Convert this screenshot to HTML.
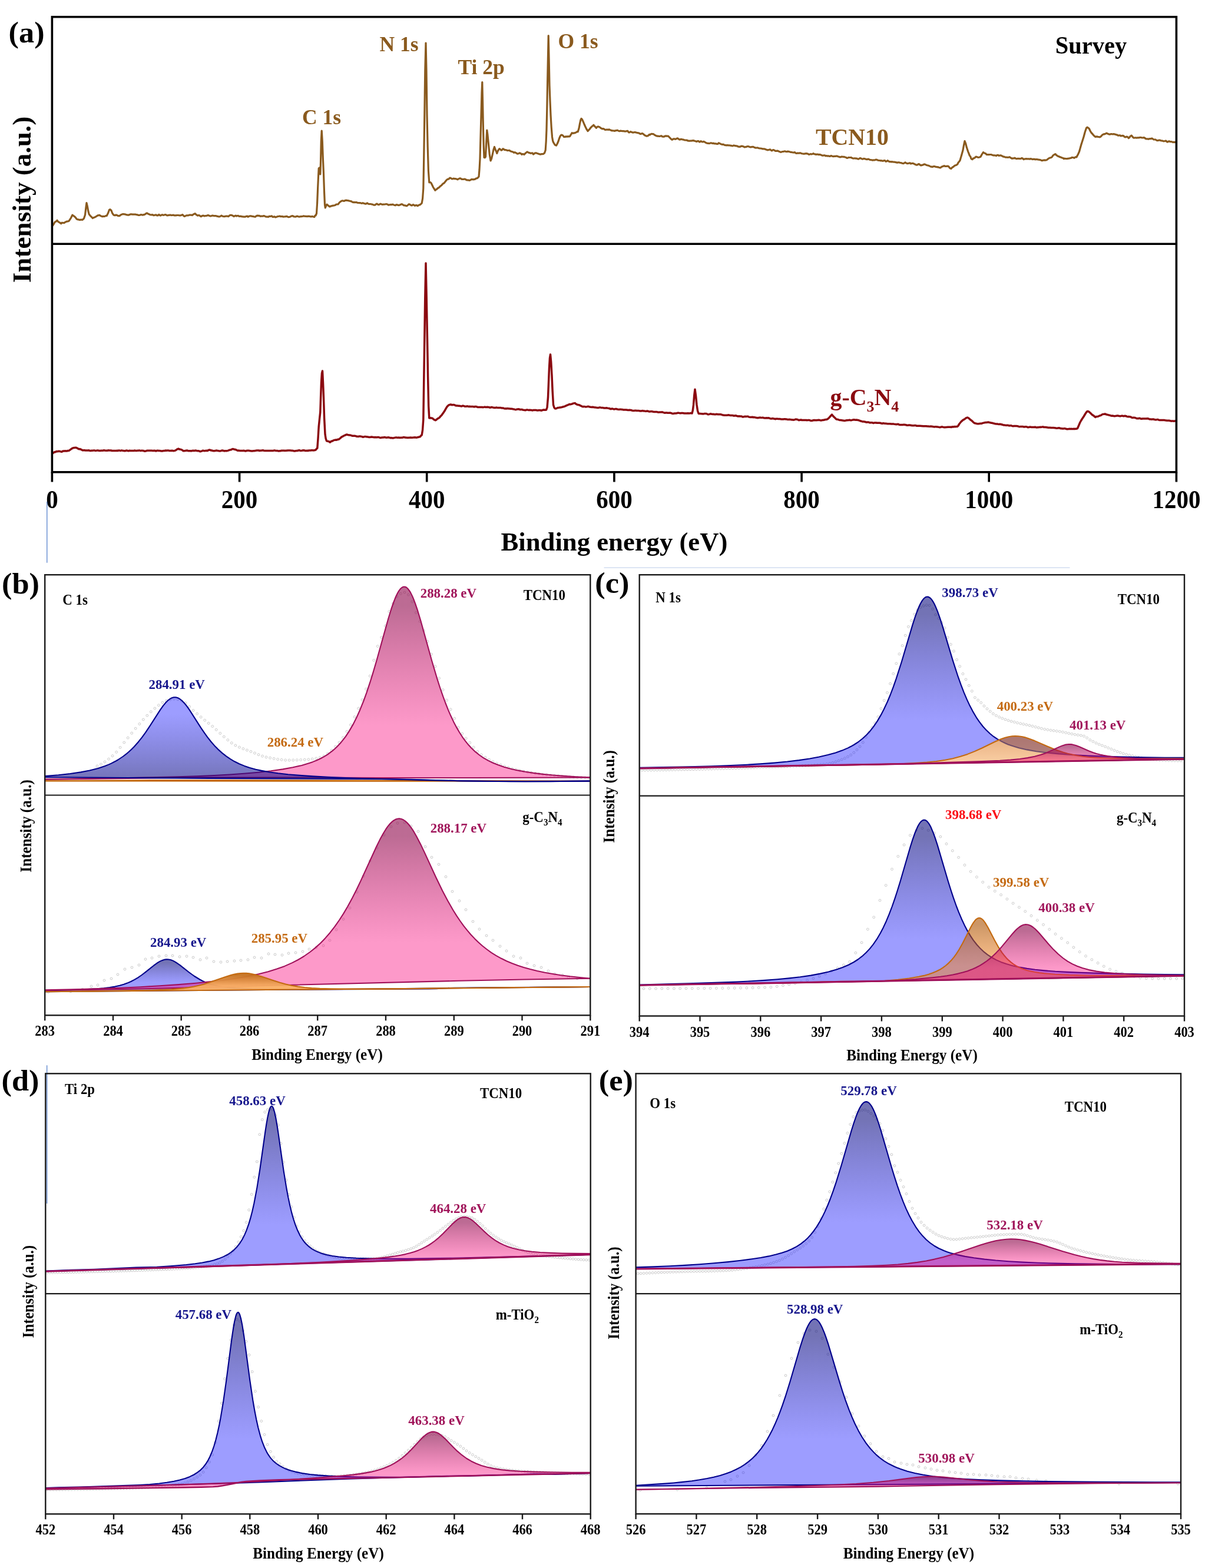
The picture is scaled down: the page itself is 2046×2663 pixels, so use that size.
<!DOCTYPE html>
<html lang="en"><head><meta charset="utf-8"><title>XPS spectra of TCN10, g-C3N4 and m-TiO2</title>
<style>
html,body{margin:0;padding:0;background:#fff;}
body{width:2046px;height:2663px;overflow:hidden;}
svg{display:block;font-family:'Liberation Serif', 'Times New Roman', serif;}
svg text{font-family:"Liberation Serif","Times New Roman",serif;}
</style></head>
<body>
<svg width="2046" height="2663" viewBox="0 0 2046 2663">
<defs>
<clipPath id="c0"><rect x="76.2" y="976.2" width="926.1" height="374.3"/></clipPath>
<linearGradient id="g1" gradientUnits="userSpaceOnUse" x1="0" y1="1325" x2="0" y2="1326.8"><stop offset="0" stop-color="rgba(170,80,0,0.60)"/><stop offset="0.1" stop-color="rgba(170,80,0,0.60)"/><stop offset="0.72" stop-color="rgba(250,130,20,0.48)"/><stop offset="1" stop-color="rgba(250,130,20,0.48)"/></linearGradient>
<linearGradient id="g2" gradientUnits="userSpaceOnUse" x1="0" y1="996.4" x2="0" y2="1323.6"><stop offset="0" stop-color="rgba(140,0,70,0.58)"/><stop offset="0.1" stop-color="rgba(140,0,70,0.58)"/><stop offset="0.72" stop-color="rgba(250,0,120,0.40)"/><stop offset="1" stop-color="rgba(250,0,120,0.40)"/></linearGradient>
<linearGradient id="g3" gradientUnits="userSpaceOnUse" x1="0" y1="1183.9" x2="0" y2="1327.3"><stop offset="0" stop-color="rgba(10,10,255,0.40)"/><stop offset="0.2" stop-color="rgba(10,10,255,0.40)"/><stop offset="1" stop-color="rgba(0,0,120,0.55)"/></linearGradient>
<clipPath id="c3"><rect x="76.2" y="1350.5" width="926.1" height="373.8"/></clipPath>
<linearGradient id="g4" gradientUnits="userSpaceOnUse" x1="0" y1="1629.3" x2="0" y2="1684.3"><stop offset="0" stop-color="rgba(0,0,120,0.55)"/><stop offset="0.1" stop-color="rgba(0,0,120,0.55)"/><stop offset="0.72" stop-color="rgba(10,10,255,0.40)"/><stop offset="1" stop-color="rgba(10,10,255,0.40)"/></linearGradient>
<linearGradient id="g5" gradientUnits="userSpaceOnUse" x1="0" y1="1391" x2="0" y2="1682"><stop offset="0" stop-color="rgba(140,0,70,0.58)"/><stop offset="0.1" stop-color="rgba(140,0,70,0.58)"/><stop offset="0.72" stop-color="rgba(250,0,120,0.40)"/><stop offset="1" stop-color="rgba(250,0,120,0.40)"/></linearGradient>
<linearGradient id="g6" gradientUnits="userSpaceOnUse" x1="0" y1="1652.7" x2="0" y2="1684.3"><stop offset="0" stop-color="rgba(196,112,30,0.95)"/><stop offset="0.1" stop-color="rgba(196,112,30,0.95)"/><stop offset="0.72" stop-color="rgba(250,176,100,0.95)"/><stop offset="1" stop-color="rgba(250,176,100,0.95)"/></linearGradient>
<clipPath id="c6"><rect x="1085.7" y="976.2" width="925.3" height="375.5"/></clipPath>
<linearGradient id="g7" gradientUnits="userSpaceOnUse" x1="0" y1="1013.2" x2="0" y2="1305"><stop offset="0" stop-color="rgba(0,0,120,0.55)"/><stop offset="0.1" stop-color="rgba(0,0,120,0.55)"/><stop offset="0.72" stop-color="rgba(10,10,255,0.40)"/><stop offset="1" stop-color="rgba(10,10,255,0.40)"/></linearGradient>
<linearGradient id="g8" gradientUnits="userSpaceOnUse" x1="0" y1="1250" x2="0" y2="1305"><stop offset="0" stop-color="rgba(236,178,128,0.97)"/><stop offset="0.1" stop-color="rgba(236,178,128,0.97)"/><stop offset="0.72" stop-color="rgba(250,204,156,0.97)"/><stop offset="1" stop-color="rgba(250,204,156,0.97)"/></linearGradient>
<linearGradient id="g9" gradientUnits="userSpaceOnUse" x1="0" y1="1264" x2="0" y2="1305"><stop offset="0" stop-color="rgba(140,0,70,0.58)"/><stop offset="0.1" stop-color="rgba(140,0,70,0.58)"/><stop offset="0.72" stop-color="rgba(250,0,120,0.40)"/><stop offset="1" stop-color="rgba(250,0,120,0.40)"/></linearGradient>
<clipPath id="c9"><rect x="1085.7" y="1351.7" width="925.3" height="373.8"/></clipPath>
<linearGradient id="g10" gradientUnits="userSpaceOnUse" x1="0" y1="1392.7" x2="0" y2="1673.3"><stop offset="0" stop-color="rgba(0,0,120,0.55)"/><stop offset="0.1" stop-color="rgba(0,0,120,0.55)"/><stop offset="0.72" stop-color="rgba(10,10,255,0.40)"/><stop offset="1" stop-color="rgba(10,10,255,0.40)"/></linearGradient>
<linearGradient id="g11" gradientUnits="userSpaceOnUse" x1="0" y1="1559" x2="0" y2="1673.3"><stop offset="0" stop-color="rgba(170,80,0,0.60)"/><stop offset="0.1" stop-color="rgba(170,80,0,0.60)"/><stop offset="0.72" stop-color="rgba(250,130,20,0.48)"/><stop offset="1" stop-color="rgba(250,130,20,0.48)"/></linearGradient>
<linearGradient id="g12" gradientUnits="userSpaceOnUse" x1="0" y1="1570.7" x2="0" y2="1673.3"><stop offset="0" stop-color="rgba(140,0,70,0.58)"/><stop offset="0.1" stop-color="rgba(140,0,70,0.58)"/><stop offset="0.72" stop-color="rgba(250,0,120,0.40)"/><stop offset="1" stop-color="rgba(250,0,120,0.40)"/></linearGradient>
<clipPath id="c12"><rect x="77.3" y="1823.3" width="925.4" height="373.9"/></clipPath>
<linearGradient id="g13" gradientUnits="userSpaceOnUse" x1="0" y1="1878.3" x2="0" y2="2159.3"><stop offset="0" stop-color="rgba(0,0,120,0.55)"/><stop offset="0.1" stop-color="rgba(0,0,120,0.55)"/><stop offset="0.72" stop-color="rgba(10,10,255,0.40)"/><stop offset="1" stop-color="rgba(10,10,255,0.40)"/></linearGradient>
<linearGradient id="g14" gradientUnits="userSpaceOnUse" x1="0" y1="2066.7" x2="0" y2="2159.3"><stop offset="0" stop-color="rgba(140,0,70,0.58)"/><stop offset="0.1" stop-color="rgba(140,0,70,0.58)"/><stop offset="0.72" stop-color="rgba(250,0,120,0.40)"/><stop offset="1" stop-color="rgba(250,0,120,0.40)"/></linearGradient>
<clipPath id="c14"><rect x="77.3" y="2197.2" width="925.4" height="374.1"/></clipPath>
<linearGradient id="g15" gradientUnits="userSpaceOnUse" x1="0" y1="2229" x2="0" y2="2527.5"><stop offset="0" stop-color="rgba(0,0,120,0.55)"/><stop offset="0.1" stop-color="rgba(0,0,120,0.55)"/><stop offset="0.72" stop-color="rgba(10,10,255,0.40)"/><stop offset="1" stop-color="rgba(10,10,255,0.40)"/></linearGradient>
<linearGradient id="g16" gradientUnits="userSpaceOnUse" x1="0" y1="2432" x2="0" y2="2529.3"><stop offset="0" stop-color="rgba(140,0,70,0.58)"/><stop offset="0.1" stop-color="rgba(140,0,70,0.58)"/><stop offset="0.72" stop-color="rgba(250,0,120,0.40)"/><stop offset="1" stop-color="rgba(250,0,120,0.40)"/></linearGradient>
<clipPath id="c16"><rect x="1079.6" y="1823.3" width="925.4" height="373.9"/></clipPath>
<linearGradient id="g17" gradientUnits="userSpaceOnUse" x1="0" y1="1872.3" x2="0" y2="2155"><stop offset="0" stop-color="rgba(0,0,120,0.55)"/><stop offset="0.1" stop-color="rgba(0,0,120,0.55)"/><stop offset="0.72" stop-color="rgba(10,10,255,0.40)"/><stop offset="1" stop-color="rgba(10,10,255,0.40)"/></linearGradient>
<linearGradient id="g18" gradientUnits="userSpaceOnUse" x1="0" y1="2104.3" x2="0" y2="2155"><stop offset="0" stop-color="rgba(140,0,70,0.58)"/><stop offset="0.1" stop-color="rgba(140,0,70,0.58)"/><stop offset="0.72" stop-color="rgba(250,0,120,0.40)"/><stop offset="1" stop-color="rgba(250,0,120,0.40)"/></linearGradient>
<clipPath id="c18"><rect x="1079.6" y="2197.2" width="925.4" height="373.9"/></clipPath>
<linearGradient id="g19" gradientUnits="userSpaceOnUse" x1="0" y1="2240.3" x2="0" y2="2523.7"><stop offset="0" stop-color="rgba(0,0,120,0.55)"/><stop offset="0.1" stop-color="rgba(0,0,120,0.55)"/><stop offset="0.72" stop-color="rgba(10,10,255,0.40)"/><stop offset="1" stop-color="rgba(10,10,255,0.40)"/></linearGradient>
<linearGradient id="g20" gradientUnits="userSpaceOnUse" x1="0" y1="2508" x2="0" y2="2529.7"><stop offset="0" stop-color="rgba(140,0,70,0.58)"/><stop offset="0.1" stop-color="rgba(140,0,70,0.58)"/><stop offset="0.72" stop-color="rgba(250,0,120,0.40)"/><stop offset="1" stop-color="rgba(250,0,120,0.40)"/></linearGradient>
</defs>
<rect x="0" y="0" width="2046" height="2663" fill="#fff"/>
<path d="M89.5 383 91 380.9 93 377.4 94 376.7 95.5 375.9 97 374.2 98.5 376.4 100.5 377.5 101.5 378.1 103 379.2 103.8 379.8 104.5 378.4 106 378.3 107.5 378.5 109 378.6 110 377.6 112 376.7 113.5 376.1 115 376 116.5 375.5 117.5 374.7 119.5 371.7 120.5 370 123 365.1 124 366 126 367.3 127 368.2 128.5 369.7 130 371.8 131.5 372.7 133 372.8 135 373.5 136 373.3 137.5 373.1 139 373.2 140 373.4 142.5 371 143.5 368 144.5 365 146 352 147 344.5 148.3 350 149.7 358 151.2 363.8 152.5 365.5 154 367.2 155.5 368.6 157.5 370.5 158.5 369.7 160 369.2 161.5 368.7 163 367.8 163.8 367.2 164.5 366.9 166 365.9 167.5 365.6 168.8 365.3 171 366.7 172 367.1 173.8 367.9 175 367.3 176.5 367.7 178 367.3 179.5 366.6 181.2 366.5 182.5 363.9 183.5 362 185.5 356.5 187 355.7 189 357.5 190.7 362 191.5 363.1 192.5 364.7 194.5 365.7 196 365.6 197 364.9 199 365.7 200.5 366.6 202.5 366.7 203.5 366.2 205 365 206 364.4 208 363.7 208.8 363.5 209.5 363.6 211 363.8 212.5 363.9 214 364.6 215.5 364.8 217 365.2 218.5 365.2 220 364.5 221.5 363.9 223 363.8 225 364.1 226 364.1 227.5 364 229 364.2 230.5 364.2 232 364.7 233.5 364.8 235 365.5 236.5 365.4 238 365.1 239.5 364.5 241 364.9 242.5 365.2 244 364.6 245 364.7 247.5 363.2 248.5 362.2 250 362.1 251.5 363.3 253 363.8 254.5 364.5 256.2 364.8 257.5 364.9 259 364.7 260.5 365.7 262 365.6 263.5 365.1 265 364.9 266.5 365.9 268 365.9 270 364.4 271 365.5 272.5 366.1 274 365.3 275.5 364.7 277 365.3 278.5 365.1 280 364.7 281.5 364.7 283 365.6 285 365.9 286 365.4 287.5 365.4 289 365 290.5 365.6 292 365.5 293.5 365.2 295 365.4 296.5 365.9 298 365.9 300 365.7 301 365.5 302.5 365.5 304 365.8 305.5 365.9 307 365.9 308.5 365.2 310 364.6 311.5 366.3 313 367.4 315 366.7 316 366 317.5 365.8 319 365.8 320.5 365.6 322 365.1 323.5 365.1 325 365.2 326.2 365.6 328 364.3 329 363.7 331.2 362.7 332.5 364 334 365.2 335.5 366.1 337.5 365.5 338.5 365.7 340 367.1 341.5 367.7 343 366.6 344.5 366.2 346 366.4 347.5 366.9 349 366.5 350.5 366.5 352 365.9 353.5 365.5 355 366.2 356.5 366.8 358 367 360 366.3 361 366 362.5 366.5 364 366.7 365.5 366.6 367 366.7 368.5 367.3 370 367.4 371.5 368 373 367.8 374.5 367.1 376 366.2 377.5 367 379 367.5 380 367.7 382 367.6 383.5 367.1 385 367.2 386.5 367.2 388 367.6 389.5 366.2 391 365.3 392.5 365.4 394 365.8 395.5 366.4 397 367.6 398.5 366.8 400 366.2 401.5 367.1 403 366.5 404.5 366.3 406 367.3 407.5 367.4 409 367.2 410.5 367.8 412 367.8 413.5 368.2 415 368.1 416.5 368.2 418 367.4 420 367.1 421 368.3 422.5 367.4 424 366.9 425.5 366.8 427 367.1 428.5 367.4 430 367.6 431.5 368 433 368.3 434.5 367.3 436 366.3 437.5 366.2 439 366.3 440 366.3 442 367.3 443.5 367.2 445 367.1 446.5 367.1 448 366.6 449.5 367 451 367.9 452.5 368.1 454 368 455.5 368.5 457 367.4 458.5 367.4 460 367.3 461.5 366.8 463 368.5 464.5 368.3 466 367.8 467.5 368.9 469 368.6 470.5 368 472 367.5 473.5 367.3 475 367 476.5 367.7 478 367.5 480 367.7 481 368.2 482.5 368 484 367.8 485.5 367.6 487 367.4 488.5 368.2 490 368.7 491.5 368.5 493 368 494.5 367.1 496 366.7 497.5 366.9 499 367.9 500 368 502 368.1 503.5 367.3 505 367.2 506.5 367.7 508 368.1 509.5 367.8 511 367.6 512.5 367.6 514 367.3 515.5 366.9 517 367.2 518.5 367.3 520 367.4 521.5 367.6 523 367.2 524.5 367.3 526 367.4 527.5 367.9 529 367.9 530 367.4 532 368.1 533.8 368.4 535 366.1 536 366 537.5 362.5 538.6 345 539.6 320 540.5 300 541.2 286 542.3 285 543 292 543.8 296 544.5 275 545.3 240 546.2 222 547.3 240 548.3 268 549.5 295 550.5 325 551.5 348 552.3 353 553.5 350 555 347.1 556 348.1 557.5 349.2 559 350.5 560 351 562 349.9 563.5 349.8 565 349.2 566 349.2 568 348.7 569.5 348.2 571 347 572.5 347 574 346.9 575.5 345.1 577 343.3 578.5 342.2 580 341.3 581.5 340.8 583 341.2 584 341.5 586 340.5 587.5 340.1 589 340.3 590.5 340.6 592 340.9 593.5 341.3 595 341.7 596.5 341.8 598 343 600 343.7 601 343.4 602.5 343.8 604 343.5 605.5 343.7 607 344.3 608.5 344.5 610 344.6 611.5 344.6 613 345 614.5 345.4 616 344.7 617.5 345.4 619 345.8 620.5 346.3 622 345.9 623.5 344.8 625 346.1 626.5 346.6 628 346.5 629.5 346.5 631 347 632.5 347.1 634 348 635 348.1 637 348.2 638.5 346.7 640 346.1 641.5 347.3 643 347.7 644.5 347 646 346.2 647.5 346.7 649 347.4 650 347.2 652 347.1 653.5 347 655 346.7 656.5 346.7 658 347 659.5 348.2 661 347.8 662.5 347.7 664 347.4 665 347.7 667 347.1 668.5 348 670 348.4 671.5 348.8 673 347.6 674.5 347.8 676 348.4 677.5 348.6 679 348 680 347.5 682 346.7 683.5 347.3 685 348.4 686.5 348.9 688 348.8 689.5 349.7 691 349.7 692.5 348.3 694 346.8 695 346.9 697 348 698.5 349 700 348.6 701.5 347.5 703 348.4 704.5 349.4 706 348.7 707.5 348.6 709 349.7 710 349.1 712 347.9 713.5 347.6 715 346.1 716.2 345 717.6 337 718.8 320 719.7 270 720.8 195 721.8 120 723 73 724 120 725 195 726.2 250 727.4 290 728.8 310 730.5 309.5 731.5 310.2 732.5 311.7 734.5 315.8 735.5 318 737.5 321.1 738.8 323.3 740.5 321.8 742 321 743 319.7 745 318.7 746.5 317.4 747.5 316.2 749.5 315 751 313.1 752.5 311.7 754 311 755 309.7 757 307.2 759 305 760 304.4 761.5 304.1 763 303.1 763.8 302.1 764.5 302.2 766 302.9 767.5 303.8 769 303.6 770 303.1 772 303.6 773.5 303.6 775 304 777 304.9 778 304.1 779.5 303.4 781 302.8 782.5 303.3 784 304.3 785 304.3 787 304.5 788.5 304 790 304.3 791.5 305.3 793 306 795 305.9 796 306.1 797.5 306.3 799 305.6 800.5 304.5 802 304.6 803.5 304.9 805 304.6 806.5 304.4 807.5 303.6 809.5 302.8 810.5 302.7 813 300 814 288 815 270 816 232 817 195 818 158 818.8 139.5 819.6 175 820.5 220 821.3 250 822 267.5 823.3 267.8 824.5 266.2 825.6 245 826.8 221 827.8 228 829.5 245 830.5 255 831.2 262 832 266.9 833 273 834.7 269 836.2 262.5 838 254 839.5 249.5 841.5 255 842.5 257 843.8 260.5 845.5 256 847 253.9 848 252.6 850 254 851 255.2 853 254.2 854 252.6 856 253.8 857 254.7 859 254.7 860 254.9 862 255.7 863.5 255.5 865 255.3 866 256.3 868 257.2 870 257.7 871 258.1 872.5 259.3 874 258.7 875 259.1 877 260.2 878.5 261.2 880 261 882 259.8 883 260.1 884.5 260.8 886 262.3 887.5 261.5 889 261.9 890 262.5 892 260.4 893 259.6 895 257.9 896.5 258.7 898 259.4 900 259.9 901 260.4 902.5 260 904 259.9 905.5 262 907 261.2 908 260.1 910 259.7 911.5 260.3 913 260.7 915 261.4 916 261.7 917.5 262.2 919 261.7 920.5 261.6 922.5 261.5 923.5 260.6 924.5 260 926.2 255 927.2 240 928 220 928.8 185 929.5 145 930.4 100 931.2 60.6 932.1 100 933 145 934 172 935 195 936.2 216 937.5 232.5 938.7 239.5 940 242.5 942 245.7 943 246.5 944.5 247.1 946.3 244 948 240 949.6 235 950.5 233 951.2 231.2 952 230.2 953 229.2 955 229.5 956.5 231.1 957.5 232.4 960 232.3 961 231.7 962.5 232.2 964 231.7 965.5 231.9 967.5 231.7 968.5 229.9 969.5 228.5 971.2 225.6 973 226.4 974.5 225.8 976 225.9 977.5 225.1 979 224.4 980.5 223.3 981.2 223.8 982 221.3 983 218 984.5 210 985.8 204 987 201.5 988.5 203 990 206.2 991 208.6 992 211 993.8 215 996 219.5 997 221 998 222.6 1000 220.4 1001 219.5 1003 216.7 1003.8 216.2 1004.5 215.3 1006 214.1 1008 212.3 1009 213.8 1010 214.7 1012.5 217.3 1013.5 215.9 1015.5 214.9 1016.5 215.3 1018 215.7 1018.8 216.4 1019.5 217 1021 218.1 1023 218.9 1024 218.5 1025.5 219.1 1027.5 220.5 1028.5 220.4 1030 220.2 1031.5 220.1 1033 220.4 1034 219.8 1036 220.7 1037.5 221.3 1039 222 1040 221.8 1042 222 1043.5 222.5 1045 221.8 1046.5 221.7 1048 221.2 1049.5 221.9 1051 222.6 1052 222.6 1054 222.1 1055.5 222.5 1057 222.7 1058.5 222.7 1060 222.9 1061.5 223.1 1063 223 1065 222.3 1066 222.8 1067.5 224.9 1069 224.9 1070.5 223.6 1072 224.2 1073.5 224.9 1075 225.1 1076.5 224.8 1078 224.5 1079.5 224.9 1081 225.2 1082.5 225.7 1084 225.9 1085.5 226.3 1087 227.3 1088.5 227.4 1090 226.5 1091.5 227.1 1093 228.2 1095 230 1096 230.3 1097.5 231.1 1099 230.9 1100 230.9 1102.5 228.5 1103.5 229 1105 227.7 1106.5 227.3 1108 227.6 1109.5 227.6 1111 228.9 1112.5 229.8 1114 230.5 1116 231.3 1117 231 1118.5 231.4 1120 231.5 1121.5 231 1123 230.7 1124.5 232 1126 232.1 1127.5 232.2 1129 231.2 1131 230.9 1132 231.2 1133.5 231.2 1135 231.4 1136.5 233.2 1138 234.6 1139 235.7 1141 237.3 1142.5 236.5 1144 235.8 1145.5 235.9 1147 236.4 1148.5 235.7 1150 234.8 1151.5 235.5 1153 236.8 1154.5 237.2 1156 236.3 1157.5 236.6 1159 237 1160.5 237.2 1162 237.8 1163.5 238 1165 238.1 1166.5 238.1 1168 239.1 1169.5 239.1 1171 239.3 1172.5 239 1174 239.1 1175.5 238.8 1177 238.6 1178 238.9 1180 239.5 1181.5 239.9 1183 240.5 1184.5 239.5 1186 239.7 1187.5 241.1 1189 240.7 1190 239.7 1192 240.8 1193.5 241 1195 240.3 1196.5 241.1 1198 242.1 1199.5 242.9 1201 243.3 1203 243.4 1204 243.7 1205.5 243.3 1207 242.8 1208.5 243.1 1210 243.6 1211.5 243.2 1213 244 1215 243.9 1216 244.1 1217.5 244.5 1219 244.3 1220 242.8 1222 243.5 1223.5 244.5 1225 245 1226.5 245.5 1228 245.1 1229.5 246 1231 246.6 1232.5 246.7 1234 246.9 1235.5 246.4 1237 247 1238.5 246.8 1240 247.2 1241.5 247.3 1243 247.8 1244.5 247.7 1246 246.9 1247.5 247.4 1249 247.8 1250 247.7 1252 248.1 1253.5 249.2 1255 249.1 1256.5 249.3 1258 248.4 1260 248.1 1261 248.5 1262.5 248.9 1264 250 1265.5 249.6 1267 249.4 1268.5 248.8 1270 248.5 1271.5 249 1273 249.6 1274.5 249.9 1276 249.6 1277.5 249.3 1279 249.4 1280.5 250.2 1282 250.9 1283.5 251.1 1285 251 1286.5 250.9 1288 251.5 1289.5 252 1291 252 1292.5 252.2 1294 252.5 1295 252.9 1297 252.8 1298.5 253.1 1300 253.7 1301.5 254.3 1303 254.8 1304.5 254.7 1306 254.3 1307.5 253.8 1309 255.1 1310.5 256 1312 254.9 1313.5 254.5 1315 255.4 1316.5 256.3 1318 256.3 1320 256.1 1321 256.4 1322.5 257.2 1324 257.7 1325.5 258.4 1327 258 1328.5 257.5 1330 257.5 1331.5 257 1333 256.9 1334.5 257.5 1336 257.7 1337.5 257.1 1339 257.3 1340.5 257.8 1342 258.3 1343.5 258.4 1345 258.7 1346.5 259 1348 259.1 1349.5 258.6 1351 260 1352.5 260.4 1354 259.9 1355.5 260.1 1357 260.1 1358.5 259.7 1360 260.3 1361.5 260.8 1363 261 1364.5 261.3 1366 261.1 1367.5 260.9 1369 260.7 1370 260.8 1372 261.4 1373.5 262.4 1375 262 1376.5 261.4 1378 261.9 1379.5 261.5 1381 260.6 1382.5 261.7 1384 261.8 1385.5 262.5 1387 262.1 1388.5 262 1390 262.7 1391.5 262.4 1393 262.8 1395 263.6 1396 264.1 1397.5 264.2 1399 263.8 1400.5 263.9 1402 264.8 1403.5 264.6 1405 265.1 1406.5 264.8 1408 265.3 1409.5 265.3 1411 264.5 1412.5 265.1 1414 265.6 1415.5 265.6 1417 265.4 1418.5 265.4 1420 265.1 1421.5 265.1 1423 266 1424.5 266.1 1426 266.9 1427.5 266.7 1429 266 1430.5 266.2 1432 266.3 1433.5 266.4 1435 267 1436.5 267.3 1438 268.3 1439.5 268.1 1441 267.3 1442.5 267.5 1444 267.5 1445 267.3 1447 268.6 1448.5 269.1 1450 269 1451.5 268.7 1453 269.1 1454.5 269.1 1456 269.7 1457.5 270.2 1459 269.3 1460.5 268.5 1462 269 1463.5 270 1465 270.2 1466.5 269.3 1468 269.6 1470 270.2 1471 270.6 1472.5 270.7 1474 270.1 1475.5 270.5 1477 271.4 1478.5 271.5 1480 271.8 1481.5 272.1 1483 271.9 1484.5 272 1486 271.6 1487.5 271.1 1489 271.3 1490.5 272.2 1492 272.4 1493.5 272.5 1495 272.9 1496.5 272.7 1498 273.2 1499.5 273.3 1501 272.7 1502.5 272.6 1504 274.3 1505.5 274 1507 272.7 1508.5 273.7 1510 274.6 1511.5 274.7 1513 274.9 1514.5 274.6 1516 275 1517.5 275.2 1519 275.2 1520 275.4 1522 275.9 1523.5 276.3 1525 275.8 1526.5 275.9 1528 276.3 1529.5 276.5 1531 276.9 1532.5 277.5 1534 277.7 1535.5 276.8 1537 275.9 1538.5 276.9 1540 277.6 1541.5 277.6 1543 277.2 1545 276.7 1546 277.8 1547.5 277.8 1549 277.3 1550.5 277.6 1552 278.2 1553.5 279.1 1555 279.7 1556.5 280.2 1558 279.7 1559.5 278.6 1561 278.8 1562.5 280.4 1564 280.9 1565.5 280.3 1567 280.2 1568.5 279.2 1570 278.9 1571.5 279.6 1573 280.4 1574.5 280.8 1576 281.1 1577.5 281.5 1579 282.4 1580.5 283.1 1582 283 1583 283.5 1585 282.7 1586.5 282.5 1588 283.1 1589.5 283.3 1591 283.8 1592.5 283.6 1594 284.3 1595 284.6 1597 284.8 1598.5 283.4 1600 282.8 1601.5 282.4 1603 281.5 1604.5 282.3 1606.2 282.4 1607.5 282.4 1609 282 1611 283 1612 284.6 1613.5 286 1615 286.4 1616.5 284.6 1618 283.6 1619 283.2 1621 281.2 1622.5 280.7 1624 280.3 1626 278.6 1627 276.2 1628.5 274.4 1630 272.5 1631.5 267.4 1632.5 264 1635 255 1636.6 246 1638 239.5 1639.6 243.5 1640.5 247 1641.2 250 1642 252.3 1643.7 257.5 1645 260.7 1646.2 263.8 1648 266.4 1648.7 268.9 1649.5 270 1651.2 270.7 1652.5 268.9 1654 268.7 1655 268 1657 266.2 1658.8 266.5 1660 267.1 1662 267.3 1663 267 1665 266.2 1666 264.4 1667.3 262 1669.5 258.6 1670.5 259.4 1672 260.3 1673.5 260.6 1675 262.5 1676.5 262.6 1678 262.7 1679.5 262.6 1681 262.5 1682.5 262.5 1684 262.9 1685.5 263.4 1687 263.9 1688.5 263.8 1690 264 1691.5 264.6 1693 263.5 1694.5 263.3 1696 264.3 1697.5 264.2 1699 263.8 1700 264.3 1702 265.2 1703.5 266.1 1705 266.1 1706.5 266.9 1708 267.1 1709.5 267 1711 267.3 1712 267.3 1714 266.7 1715.5 267.7 1717 268.5 1718.5 269.3 1720 268.9 1721.5 269 1723 268.2 1725 269.5 1726 269.7 1727.5 269.4 1729 269.3 1730.5 269.4 1732 269.6 1733.5 269.2 1735 268.5 1737 269.5 1738 270.7 1739.5 270.1 1741 269.8 1742.5 269.6 1744 269.8 1745.5 269.9 1747 269.9 1748.5 270.2 1750 269.6 1751.5 270 1753 270.6 1754.5 270.3 1756 270.1 1757.5 270.8 1759 270.6 1760.5 270.7 1762 270.9 1763.5 271.2 1765 271.3 1766.5 271.5 1768 272.4 1769.5 272.8 1771 272.1 1772.5 272.1 1774 271.9 1775 272.2 1777 271.8 1778.5 270.7 1780 269.4 1781.5 268.6 1783 268 1785 267.5 1786 266.8 1787.5 264.6 1788.5 263.5 1790.5 262.3 1792 261.6 1793.5 263.5 1795.5 264.6 1796.5 265.5 1798 265.6 1798.8 266.6 1799.5 266.5 1801 267 1802.5 267.7 1804 268.1 1805.5 268.8 1806.2 269.6 1807 269.2 1808.5 269.3 1810 269.5 1811.5 269.6 1813 269.3 1814.5 269.1 1816 268.9 1817.5 268.5 1819 268.1 1820 267.4 1822 267.5 1824 268.4 1825 267.4 1826.5 266.6 1828 266.8 1829.5 263.8 1830.3 262.5 1831 260.9 1832.5 257.5 1834 252.1 1836 245 1837 241.9 1838.5 237.2 1840 232.5 1841.5 227 1842.3 224 1843 221.9 1844.5 217.5 1846 216.1 1847.5 217.1 1849.3 218.5 1850.5 221 1851.2 222.5 1852 223.8 1853 225.5 1855 227.5 1856.5 229.4 1857.5 230.4 1860 232.4 1861 232.1 1862.5 231.9 1864 232.3 1865.5 232.5 1867.5 232.9 1868.5 232.4 1870 231 1871.5 229.3 1872.5 228.6 1874.5 227.6 1875.5 227.9 1877.5 226.8 1878.8 226.1 1880.5 227 1882 227.6 1883.5 228.2 1885 228.1 1886.5 227.5 1888 227.7 1889.5 228 1891 227.5 1892 227.9 1894 228.3 1895.5 228.9 1897 229.1 1898.5 230.3 1900 230 1901.5 229.7 1903 230.9 1904.5 230.7 1906 230.4 1908 230.9 1909 232.2 1910.5 233 1912 232.4 1913.5 232.1 1915 232.9 1916.2 234.7 1918 233.3 1918.7 231.8 1919.5 231.3 1921.2 230.1 1923 232.2 1924 233.5 1925 234.2 1927 234 1928.5 233.9 1930 234.2 1931.5 233.9 1933 233.9 1934.5 233.8 1936 233.3 1937 233.5 1939 233.9 1940.5 234 1942 233.6 1943.5 234 1945 235.5 1946.5 235.9 1948 235.9 1950 236.3 1951 235.8 1952.5 235.6 1954 235.7 1955.5 235 1957 235.6 1958.5 236.9 1960 237 1962 237 1963 237.9 1964.5 238.6 1966 238.6 1967.5 238.2 1969 238 1970.5 238.6 1972 239 1973.5 239.1 1975 239.6 1976.5 239.8 1978 239.5 1979.5 239 1981 240.5 1982.5 241.2 1984 240.2 1985 239.8 1987 240.7 1988.5 240.7 1990 240.8 1991.5 241.6 1993 241.2 1994.5 241.7 1995.5 241.2" fill="none" stroke="#8a5a1e" stroke-width="3.2" stroke-linejoin="round" stroke-linecap="round"/>
<path d="M89.5 769.8 91 768.8 92.5 767.8 94 767.8 95.5 766.8 96.2 766.6 97 766.9 98.5 766.5 100 766.3 101.5 766.4 103 766.9 105 767.2 106 766.5 107.5 766 109 766.1 110.5 765.8 112 765.9 113.5 766 115 765.5 116.5 765.4 117.5 765.2 119.5 763.7 121 762.5 122.5 761.5 124 760.8 125.5 760.6 127.5 760.2 128.5 760.2 130 760.5 131 761.1 133 762.1 134.5 762.8 136 762.6 137.5 763.3 139 764.1 140 764.7 142 764.7 143.5 764.6 145 765 146.5 765.1 148 765.1 149.5 765 151 764.8 152.5 765.5 154 765.6 155.5 765.2 157 765.2 158.5 765.1 160 764.9 161.5 765.2 163 765.4 164.5 765.1 166 765 167.5 765.2 169 765.4 170 765.5 172 765.2 173.5 765.3 175 765.2 176.5 764.7 178 765 179.5 765.2 181 765.3 182.5 765.2 184 764.8 185.5 765.1 187 765 188.5 765 190 765.5 191.5 765.6 193 765.4 194.5 765.6 196 765.4 197.5 765.4 199 765.3 200 765.6 202 764.9 203.5 765.2 205 765.4 206.5 764.9 208 765.2 209.5 765.4 211 765.7 212.5 765.8 214 765.2 215.5 765.1 217 765.7 218.5 765.7 220 765.3 221.5 765.4 223 765.5 224.5 765.5 226 765.5 227.5 765.5 229 765 230 765.4 232 765.4 233.5 765.3 235 765.3 236.5 764.9 238 765.4 239.5 765.4 241 765.1 242.5 765.4 244 765.6 245.5 766.3 247 766.2 248.5 765.7 250 765.3 251.5 765.2 253 765.3 254.5 765.2 256 765.2 257.5 765.3 259 765.4 260 765.4 262 765.3 263.5 765.5 265 766 266.5 765.3 268 765.2 269.5 765.5 271 765.5 272.5 765.7 274 765.9 275.5 766 277 765.7 278.5 765.4 280 765.5 281.5 765 283 765.2 285 765.1 286 765.1 287.5 765.5 289 765.5 290.5 765.6 292 765.2 293.5 765.6 295 765.7 296.5 765.4 297.5 765.1 299.5 764 300.5 763.2 303 762.1 304 763 305 762.8 307.5 763.6 308.5 763.8 310 764.9 311.2 765.8 313 765.7 314.5 765.5 316 765.2 317.5 765 319 765.5 320.5 765.8 322 765.8 323.5 765.7 325 765.9 326.5 765.4 328 765.2 330 765.6 331 765.3 332.5 765.1 334 765.5 335.5 765.7 337 765.7 338.5 766.1 340 766.8 341.5 766.3 343 765.8 344.5 765.2 346 765.5 347.5 765.7 349 765.4 350.5 765.3 352.5 765.5 353.5 764.8 354.5 764.2 356.2 764.1 358.5 765 359.5 765 361.2 765.5 362.5 765.7 364 765.8 365.5 765.6 367 765.1 368.5 765.3 370 765.6 371.5 765.8 373 765.9 375 765.7 376 765.2 377.5 765.1 379 765.3 380.5 765.9 382 765.8 383.5 765.8 385 765.8 386.5 765.4 387.5 765.1 389.5 764.3 390.5 764.1 392.5 763.7 393.5 763.1 395.5 762.4 396.2 762.6 397 763 398.5 763.2 399.5 763.5 401.5 764.1 403 765.1 403.8 765.3 404.5 765 406 765.2 407.5 765.4 409 765.4 410.5 765.6 412 765.6 413.5 765.3 415 765.5 416.5 766.1 418 765.7 419.5 765.3 421 765.3 422.5 765.2 424 765.7 425.5 765.8 427 765.9 428.5 765.9 430 765.8 431.5 765.8 433 765.6 434.5 765.2 436 765.1 437.5 765 439 764.9 440.5 765.6 442 765.2 443.5 765.2 445 764.9 446.5 764.8 448 765.2 449.5 765.4 451 765.5 452.5 765.6 454 765.4 455.5 765.6 457 765.6 458.5 765.4 460 765.4 461.5 765.6 463 765.6 464.5 765.3 466 764.9 467.5 765.3 469 765.6 470.5 765.6 472 765.8 473.5 766.1 475 765.8 476.5 765.7 478 765.3 479.5 765.2 481 765.3 482.5 765.2 484 765.4 485.5 765.3 487 765.3 488.5 765 490 764.9 491.5 765.1 493 765.1 494.5 765.2 496 765.3 497.5 765.5 499 765.9 500.5 766 502 765.8 503.5 765.6 505 765.6 506.5 764.9 508 764.7 509.5 765.2 511 765.4 512.5 765.3 514 765.1 515 764.7 517 764.9 518.5 765.6 520 765.5 521.5 765.3 523 765.5 524.5 765 526 764.9 527.5 765 529 764.7 530.5 764.8 532.5 764.9 533.5 764.7 535 764.5 536 764.1 538 761.7 538.8 761.2 540 745 541.2 725 542.5 712 543.8 700 544.6 675 545.5 650 546.5 634 547.5 630 548.5 650 549.5 675 550.6 710 552 737.5 553.2 745 554.5 748.8 556 749.2 558 749.6 559 750.2 560.5 751.2 561.2 750.7 562 749.7 564 749 565 748.7 566.2 747.9 568 747.4 570 747 571 747.2 572.5 746.8 574 746.1 575 746.3 577.5 744.4 578.5 743.6 580 742.1 581.5 741.4 583 740.5 584 740 586 739.1 587.5 738.4 588.8 738 590.5 738.5 592 738.8 593.5 739.1 595 739.1 596.5 739.6 598 740.2 600 740.3 601 740.2 602.5 740.2 604 740.6 605.5 741.2 607 741.3 608.5 741.4 610 741 611.5 740.9 613 741.2 614.5 741.4 616 742.3 617.5 742.1 619 741.5 620.5 741.6 622 741.7 623.5 742 625 742.1 626.5 742.5 628 742.6 629.5 742.2 631 742 632.5 742.3 634 742.5 635.5 742.7 637 742.6 638.5 742.8 640 742.8 641.5 742.6 643 742.6 644.5 743.1 646 743.6 647.5 743.2 649 742.9 650.5 743 652 742.8 653.5 742.6 655 743 656.5 743.3 658 742.9 660 742.7 661 743.2 662.5 743.7 664 743.6 665.5 743.7 667 744 668.5 743.8 670 743.4 671.5 743.1 673 743.1 674.5 743.2 676 743.3 677.5 743.1 679 743.5 680.5 743.3 682 743.2 683.5 743.2 685 742.6 686.5 742.7 688 743 689.5 743.3 691 743.2 692.5 743.4 694 743.2 695.5 743.2 697 743.1 698.5 743.3 700 743.2 701.5 743.1 703 742.9 704.5 742.7 706 743 707.5 743.2 709 742.7 710 742.5 712 742 713.5 741.6 715 739.7 716.2 738.8 717.6 730 718.8 712.5 719.7 650 720.8 575 721.8 505 723 447.1 724.2 505 725.5 575 726.6 640 727.7 690 728.8 710 730 710.1 731 709.7 733 710.1 733.8 710.2 734.5 710.6 736.5 712.5 737.5 712.9 739.5 713.8 740.5 713.2 742 711.9 743.5 710.7 744.5 710.3 746.5 708.8 748 706.9 750 705 751 703.6 752.5 701.4 754.5 698.5 755.5 696.8 757 694.2 758.8 691.2 760 689.7 762 687.9 763 687.6 765 687 766 687.1 767.5 687.8 769 687.6 770.5 687.5 772 687.9 773.5 688.7 775 689.1 776.5 688.9 778 689.2 779.5 689.3 781 689.5 782.5 689.8 784 689.9 785 689.3 787 689.3 788.5 690 790 690.3 791.5 690.3 793 689.8 794.5 690.1 796 690.6 797 690.3 799 690.5 800.5 690.5 802 690.5 803.5 690.6 805 691 806.5 690.5 808 690.5 810 691 811 691.5 812.5 691.5 814 691.5 815.5 691.4 817 691.4 818.5 691.6 820 691.8 822 691.4 823 691.1 824.5 691.6 826 691.5 827.5 691.3 829 691.4 830.5 691.7 832 692.3 833.5 691.8 835 691.5 836.5 691.9 838 692.2 839.5 692.6 841 692.5 842.5 692.1 844 692.3 845 692.4 847 692.5 848.5 692.5 850 692.5 851.5 692.9 853 692.9 854.5 693.1 856 693.7 858 694 859 693.8 860.5 694 862 693.6 863.5 694 865 694.1 866.5 694.2 868 694.2 870 694.5 871 694.7 872.5 694.9 874 695.4 875.5 695.8 877 695.3 878.5 695.1 880 694.8 881.5 694.9 883 695.7 884.5 695.5 886 695.5 887.5 696 889 696.3 890.5 696.5 892 696.7 893.5 696.3 895 695.9 897 696.4 898 696.5 899.5 696.3 901 696.4 902.5 696.6 904 697 905.5 696.6 907 696.4 908.5 696.6 910 696.4 911.5 696.9 913 697 915 696.8 916 696.7 917.5 696.8 919 697.2 920.5 696.8 922 696.2 923.5 696 925 696.2 926.5 696.2 927.5 696.1 929 692 930.5 675 931.5 650 932.5 625 933.5 608 934.5 602 935.7 615 937 637.5 938.2 665 939.5 687.5 941 692.3 942.5 693.9 944.5 693.8 946 692.9 947 692.6 949 692.4 950.5 692 952.5 691.9 953.5 691.6 955 691.2 956.5 690.8 958 690.5 960 689.7 961 689.1 962.5 688.4 964 687.9 965.5 687.2 967.5 686.5 968.5 686.8 970 686.4 972 685.8 973 685.2 974.5 684.9 976.2 684.6 977.5 685.7 979 686.7 980.5 687.3 982 687.6 983 687.7 985 688.6 986.5 689.3 988 690.1 990 690.8 991 690.5 992.5 690.6 994 690.9 995.5 690.9 997 690.6 998.5 690.2 1000 690.6 1002 691.2 1003 691.3 1004.5 691.4 1006 691.3 1007.5 691.5 1009 691.8 1010.5 692 1012 692.1 1013.5 692.4 1015 692.6 1016.5 692.5 1018 691.9 1019.5 692.1 1021 692.4 1022.5 692.4 1024 692.5 1025.5 693.1 1027 692.9 1028.5 692.9 1030 692.7 1031.5 693.1 1033 693.4 1034.5 693.6 1036 694.3 1037.5 694.7 1039 694.1 1040 694.2 1042 694.9 1043.5 694.9 1045 694.5 1046.5 694.5 1048 695 1049.5 695.3 1051 695.5 1052.5 695.2 1054 695.2 1055.5 695.4 1057 695.6 1058.5 696.1 1060 696.1 1061.5 695.9 1063 696 1065 696.3 1066 696.5 1067.5 696.4 1069 696.2 1070.5 696.4 1072 696.8 1073.5 697.2 1075 697.5 1076.5 697.6 1078 697.3 1079.5 697.2 1081 697.5 1082.5 697.4 1084 697.4 1085.5 697.7 1087 698 1088.5 698.1 1090 697.7 1091.5 697.6 1093 698.1 1094.5 698.1 1096 698.4 1097.5 698.2 1099 698.1 1100.5 698.3 1102 699 1103.5 698.9 1105 698.8 1106.5 698.8 1108 699 1109.5 699.4 1111 699.4 1112.5 699.5 1114 699.6 1115 699.4 1117 700.1 1118.5 700.3 1120 699.9 1121.5 700 1123 699.9 1124.5 699.8 1126 700.4 1128 701.1 1129 701.3 1130.5 701.1 1132 701 1133.5 701.2 1135 701.3 1136.5 701.2 1138 701.1 1140 701.7 1141 702.1 1142.5 702.6 1144 702.3 1145.5 702 1147 701.9 1148.5 701.9 1150 701.5 1151.5 701.1 1153 701.4 1154.5 701.7 1156 701.7 1157 701.5 1159 701.5 1160.5 701.7 1162 701.9 1163.5 702 1165 701.9 1166.5 701.9 1168 701.8 1169.5 702 1171 701.9 1172.5 701.6 1174 701.8 1175 702 1176.3 697 1177.5 687.5 1178.7 672 1180 661.2 1181.5 672 1183 687.5 1184.6 698 1186.2 702.4 1187.5 702.4 1189 702.4 1190.5 702.7 1192 702.8 1193.5 702.9 1195 702.7 1196.5 702.4 1198 702.4 1200 702.8 1201 703.3 1202.5 703.9 1204 703.6 1205.5 703 1207 702.8 1208.5 703.3 1210 703.4 1211.5 703.3 1213 703.8 1215 703.8 1216 703.4 1217.5 703.3 1219 703.8 1220 703.8 1222 703.8 1223.5 703.7 1225 704.1 1226.5 704.7 1228 704.9 1229.5 705.3 1231 705.3 1232.5 705.2 1234 705.3 1235.5 705.1 1237 704.8 1238.5 705.1 1240 705.5 1241.5 705.4 1243 705.5 1245 705.8 1246 706.3 1247.5 705.9 1249 705.8 1250.5 706.2 1252 706.8 1253.5 707 1255 706.8 1256.5 706.9 1258 706.9 1259.5 707.3 1261 708.1 1262.5 707.9 1264 707.5 1265.5 707.2 1267 707.4 1268.5 707.3 1270 707.3 1271.5 708.1 1273 708.4 1274.5 708.5 1276 708.5 1277.5 708.3 1279 708.7 1280.5 708.6 1282 708.9 1283.5 709.2 1285 709.6 1286.5 709.8 1288 709.5 1289.5 709.2 1291 709.1 1292.5 709.4 1294 709.3 1295 709.2 1297 709.7 1298.5 710 1300 709.9 1301.5 709.8 1303 710 1304.5 709.8 1306 710 1307.5 710.8 1309 711 1310.5 711.1 1312 710.6 1313.5 711 1315 711.3 1316.5 711.7 1318 711.3 1320 711.2 1321 711.4 1322.5 711.4 1324 711.5 1325.5 711.8 1327 712 1328.5 712.1 1330 711.9 1331.5 711.7 1333 711.7 1334.5 712 1336 712.1 1337.5 712.6 1339 712.4 1340.5 712.3 1342 712.6 1343.5 712.7 1345 713 1346.5 713 1348 713.2 1349.5 712.7 1351 712.1 1352.5 712.2 1354 712.5 1355.5 713.3 1357 713.7 1358.5 713.2 1360 713 1361.5 713.5 1363 713.6 1364.5 713.5 1366 713.6 1367.5 713.6 1369 713.5 1370 713.8 1372 713.6 1373.5 713.4 1375 713.8 1376.5 714.4 1378 714.6 1379.5 714.3 1381 713.7 1382.5 713.5 1384 713.7 1385.5 713.7 1387 713.7 1388.5 713.4 1390 713.3 1391.5 713.4 1393 714 1395 714 1396 713.6 1397.5 713.5 1399 713.3 1400 712.9 1402 712.6 1403.5 712.4 1405 711.9 1406.5 710.7 1408 709.1 1409 708 1411 705.8 1412.5 704.1 1414 706 1416 708.2 1417 709 1418.5 710.5 1420 712.1 1421.5 712.3 1423 712.5 1424.5 713.1 1426 713.6 1427 713.6 1429 713.7 1430.5 714.1 1432 714.2 1433.5 714.4 1435 714.4 1436.5 714 1438 713.7 1439.5 713.7 1441 713.6 1442.5 713.2 1444 713.7 1445 713.9 1447 713.4 1448.5 712.9 1450 712.8 1451.5 713.1 1453 713.3 1455 713.1 1456 713.4 1457.5 713.6 1459 714.2 1460.5 714.8 1462 715.2 1463.5 715.7 1465 716 1466.5 716.1 1468 716.2 1470 716.8 1471 717.2 1472.5 717 1474 717.1 1475.5 717.3 1477 718 1478.5 717.7 1480 717.8 1481.5 717.9 1483 718.6 1484.5 718 1486 718 1487.5 718 1489 718.3 1490.5 718.2 1492 718.2 1493.5 718.2 1495 718.5 1496.5 719 1498 719.3 1499.5 718.7 1501 719.1 1502.5 719.3 1504 719.2 1505.5 719.4 1507 719.7 1508.5 719.7 1510 719.7 1511.5 719.7 1513 719.9 1514.5 720.1 1516 720 1517.5 720.1 1519 720.4 1520 720.6 1522 720.7 1523.5 720.5 1525 720.3 1526.5 721.1 1528 721.5 1529.5 721.6 1531 721.5 1532.5 721.6 1534 721.3 1535.5 721.2 1537 721.5 1538.5 721.8 1540 722.2 1541.5 722.2 1543 722 1545 722 1546 722.2 1547.5 722.5 1549 722.8 1550.5 722.7 1552 722.8 1553.5 722.4 1555 722.7 1556.5 723.3 1558 723.3 1559.5 723.2 1561 723.3 1562.5 723.3 1564 723.4 1565.5 723.5 1567 723.7 1568.5 723.7 1570 723.7 1571.5 723.8 1573 723.8 1574.5 724.1 1576 724.1 1577.5 724.3 1579 724.3 1580.5 724.1 1582 724.2 1583.5 724.5 1585 724.8 1586.5 725 1588 724.8 1589.5 724.7 1591 724.9 1592.5 725.1 1594 725.4 1595.5 725.7 1597 725.6 1598.5 724.9 1600 725 1601.5 725.4 1603 725.7 1605 725.8 1606 725.6 1607.5 725.6 1609 725.3 1610.5 725.2 1612 725.3 1614 725.2 1615 725.5 1616.5 725 1618 724.8 1619.5 724.9 1621 724.5 1622.5 724.7 1624 724.4 1625.5 724.4 1627 723 1628.8 720 1630 718.5 1632 716 1633 715.3 1634.5 713.8 1636.2 712.7 1637.5 712.1 1639.5 710.5 1640.5 709.8 1642.5 709.1 1643.5 709.4 1645 710.4 1646.5 711.7 1647.5 712.7 1649.5 714.1 1651 715.4 1652.5 717 1654 718.2 1655 718.7 1657 719.1 1658.5 719.5 1660 719.8 1661.5 719.7 1663 719.5 1665 719.2 1666 719.4 1667.5 719 1669 718.4 1670.5 718.1 1672 717.8 1673.5 717.6 1675 717.5 1676.5 717.2 1678 717 1680 717.5 1681 717.7 1682.5 718.2 1684 718.2 1685.5 718.7 1687 718.9 1688.5 719.5 1690 719.8 1691.5 719.9 1693 719.9 1694.5 720.3 1696 720.6 1697.5 720.3 1699 720.5 1700 720.7 1702 721.2 1703.5 721.8 1705 722.1 1706.5 722.1 1708 722.4 1709.5 722.2 1711 722.3 1712 722.6 1714 722.9 1715.5 722.8 1717 722.8 1718.5 723.4 1720 723.8 1721.5 723.5 1723 723.4 1725 723.4 1726 723.6 1727.5 723.7 1729 724.2 1730.5 724.7 1732 724.6 1733.5 724.4 1735 724.6 1737 724.5 1738 725 1739.5 725 1741 724.7 1742.5 724.8 1744 725.1 1745.5 725.8 1747 725.6 1748.5 725.1 1750 725.2 1751.5 725.4 1753 725.4 1754.5 725.5 1756 725.5 1757.5 725.2 1759 725.7 1760.5 726 1762 725.8 1763.5 725.7 1765 725.4 1766.5 725.3 1768 725.4 1769.5 725.1 1771 725 1772.5 725.5 1774 725.4 1775 725.5 1777 725.8 1778.5 726 1780 726.2 1781.5 726.2 1783 726.2 1784.5 726.5 1786 726.4 1788 726.6 1789 726.5 1790.5 726.7 1792 726.8 1793.5 727.3 1795 727.3 1796.5 726.9 1798 726.7 1800 727.2 1801 727.8 1802.5 727.7 1804 728 1805.5 727.9 1807 727.8 1808.5 727.8 1810 728.3 1811.5 728.7 1813 728.7 1814.5 728.6 1816 728.3 1817.5 728.4 1819 728.3 1820 728.4 1822 728.5 1823.5 728.3 1825 728.5 1826.5 728.2 1828 728.2 1829.5 727.6 1831.5 723 1832.5 720.6 1833.8 717.5 1835.5 714.5 1837 712 1838.5 709.8 1840 707.5 1841.5 705 1843 702.5 1844.5 700.3 1846.2 698.5 1848 698.7 1849 699.4 1850 700.2 1852 702 1853.5 703.6 1855 704.9 1856.5 705.6 1858 707 1860 708.5 1861 707.8 1862.5 707.6 1864.5 707.3 1865.5 706.8 1867 706 1868.8 705.6 1870 704.9 1871.5 703.9 1872.5 703.5 1874.5 703.3 1876.2 703 1877.5 703.5 1879 704 1880.5 704.4 1882 704.8 1883.5 705.1 1885 705.5 1886.5 706.1 1887.5 706.2 1889.5 706.1 1891 706.5 1892.5 706.8 1894 706.4 1895.5 706.3 1897 706 1898 706.1 1900 706.4 1901.5 706.7 1903 706.7 1904.5 706.2 1906 706.3 1907.5 706.7 1909 706.6 1910 706.2 1912 706.7 1913.5 707.4 1915 707.7 1916.5 707.6 1918 707.8 1920 708 1921 708.9 1922.5 709.5 1924 709.2 1925.5 709.3 1927 709.4 1928.5 710 1930 710.7 1931.5 710.8 1933 710.7 1934.5 710.3 1936 710.6 1937.5 711.3 1939 711.2 1940 710.9 1942 711 1943.5 711 1945 711 1946.5 710.9 1948 710.8 1950 710.9 1951 711.8 1952.5 712 1954 712 1955.5 712.2 1957 712 1958.5 712 1960 712.5 1962 712.9 1963 712.9 1964.5 712.6 1966 712.6 1967.5 713.2 1969 713.4 1970.5 713.4 1972 713.4 1973.5 713.5 1975 713.4 1976.5 713.4 1978 713.7 1979.5 713.9 1981 714.2 1982.5 714.2 1984 714.3 1985 714.2 1987 714.7 1988.5 715.2 1990 714.9 1991.5 715 1993 715.2 1994.5 715.1 1996.2 715.1" fill="none" stroke="#8b0a10" stroke-width="3.5" stroke-linejoin="round" stroke-linecap="round"/>
<rect x="88.4" y="28.7" width="1909" height="773.1" fill="none" stroke="#000" stroke-width="3.6"/>
<line x1="88.4" y1="414.3" x2="1997.4" y2="414.3" stroke="#000" stroke-width="3.6"/>
<line x1="88.4" y1="801.8" x2="88.4" y2="818.5" stroke="#000" stroke-width="3.6"/>
<text transform="translate(88.4 862.5) scale(1 1.06)" font-size="41" fill="#000" text-anchor="middle" font-weight="bold" >0</text>
<line x1="406.6" y1="801.8" x2="406.6" y2="818.5" stroke="#000" stroke-width="3.6"/>
<text transform="translate(406.6 862.5) scale(1 1.06)" font-size="41" fill="#000" text-anchor="middle" font-weight="bold" >200</text>
<line x1="724.7" y1="801.8" x2="724.7" y2="818.5" stroke="#000" stroke-width="3.6"/>
<text transform="translate(724.7 862.5) scale(1 1.06)" font-size="41" fill="#000" text-anchor="middle" font-weight="bold" >400</text>
<line x1="1042.9" y1="801.8" x2="1042.9" y2="818.5" stroke="#000" stroke-width="3.6"/>
<text transform="translate(1042.9 862.5) scale(1 1.06)" font-size="41" fill="#000" text-anchor="middle" font-weight="bold" >600</text>
<line x1="1361.1" y1="801.8" x2="1361.1" y2="818.5" stroke="#000" stroke-width="3.6"/>
<text transform="translate(1361.1 862.5) scale(1 1.06)" font-size="41" fill="#000" text-anchor="middle" font-weight="bold" >800</text>
<line x1="1679.2" y1="801.8" x2="1679.2" y2="818.5" stroke="#000" stroke-width="3.6"/>
<text transform="translate(1679.2 862.5) scale(1 1.06)" font-size="41" fill="#000" text-anchor="middle" font-weight="bold" >1000</text>
<line x1="1997.4" y1="801.8" x2="1997.4" y2="818.5" stroke="#000" stroke-width="3.6"/>
<text transform="translate(1997.4 862.5) scale(1 1.06)" font-size="41" fill="#000" text-anchor="middle" font-weight="bold" >1200</text>
<text transform="translate(850.5 935) scale(1 1.0)" font-size="44.7" fill="#000" text-anchor="start" font-weight="bold" >Binding energy (eV)</text>
<text transform="translate(51.6 480.3) rotate(-90) scale(1 0.98)" font-size="45.2" fill="#000" font-weight="bold">Intensity (a.u.)</text>
<text transform="translate(14.5 71.5) scale(1 0.98)" font-size="52.4" fill="#000" text-anchor="start" font-weight="bold" >(a)</text>
<text transform="translate(1791.8 91.3) scale(1 1.04)" font-size="40.5" fill="#000" text-anchor="start" font-weight="bold" >Survey</text>
<text transform="translate(513 210.5) scale(1 1.01)" font-size="35.5" fill="#8a5a1e" text-anchor="start" font-weight="bold" >C 1s</text>
<text transform="translate(644.5 87) scale(1 1.01)" font-size="35.5" fill="#8a5a1e" text-anchor="start" font-weight="bold" >N 1s</text>
<text transform="translate(777.5 126.3) scale(1 1.01)" font-size="35.5" fill="#8a5a1e" text-anchor="start" font-weight="bold" >Ti 2p</text>
<text transform="translate(947.5 82) scale(1 1.01)" font-size="35.5" fill="#8a5a1e" text-anchor="start" font-weight="bold" >O 1s</text>
<text transform="translate(1385 246.3) scale(1 1.0)" font-size="39.8" fill="#8a5a1e" text-anchor="start" font-weight="bold" >TCN10</text>
<text transform="translate(1409.5 687.5) scale(1 1.0)" font-size="39.8" fill="#8b0a10" text-anchor="start" font-weight="bold" >g-C<tspan font-size="26" dy="11">3</tspan><tspan dy="-11">N</tspan><tspan font-size="26" dy="11">4</tspan></text>
<line x1="79.8" y1="852" x2="79.8" y2="955.7" stroke="#4a78c8" stroke-width="1.2"/>
<line x1="1025.5" y1="964.2" x2="1816.5" y2="964.2" stroke="#c9d6ee" stroke-width="1.2"/>
<line x1="79.7" y1="1809.3" x2="79.7" y2="2044" stroke="#4a78c8" stroke-width="1.2"/>
<g clip-path="url(#c0)">
<g fill="none" stroke="#cbcbcb" stroke-width="1"><circle cx="165" cy="1301" r="1.9"/><circle cx="171.5" cy="1298" r="1.9"/><circle cx="178" cy="1293.9" r="1.9"/><circle cx="184.6" cy="1289.1" r="1.9"/><circle cx="191.1" cy="1283.7" r="1.9"/><circle cx="197.6" cy="1277.3" r="1.9"/><circle cx="204.1" cy="1269.4" r="1.9"/><circle cx="210.7" cy="1261" r="1.9"/><circle cx="217.2" cy="1253.1" r="1.9"/><circle cx="223.7" cy="1245.1" r="1.9"/><circle cx="230.2" cy="1237.2" r="1.9"/><circle cx="236.8" cy="1229.5" r="1.9"/><circle cx="243.3" cy="1222" r="1.9"/><circle cx="249.8" cy="1215.2" r="1.9"/><circle cx="256.3" cy="1208.8" r="1.9"/><circle cx="262.9" cy="1203" r="1.9"/><circle cx="269.4" cy="1197.7" r="1.9"/><circle cx="275.9" cy="1193" r="1.9"/><circle cx="282.4" cy="1190.1" r="1.9"/><circle cx="288.9" cy="1188.1" r="1.9"/><circle cx="295.5" cy="1187" r="1.9"/><circle cx="302" cy="1187.8" r="1.9"/><circle cx="308.5" cy="1190.3" r="1.9"/><circle cx="315" cy="1193.9" r="1.9"/><circle cx="321.6" cy="1200.1" r="1.9"/><circle cx="328.1" cy="1206.5" r="1.9"/><circle cx="334.6" cy="1212.2" r="1.9"/><circle cx="341.1" cy="1217.8" r="1.9"/><circle cx="347.7" cy="1223.2" r="1.9"/><circle cx="354.2" cy="1228.3" r="1.9"/><circle cx="360.7" cy="1233.5" r="1.9"/><circle cx="367.2" cy="1239.3" r="1.9"/><circle cx="373.8" cy="1245.4" r="1.9"/><circle cx="380.3" cy="1251.2" r="1.9"/><circle cx="386.8" cy="1256.7" r="1.9"/><circle cx="393.3" cy="1261.8" r="1.9"/><circle cx="399.8" cy="1265.9" r="1.9"/><circle cx="406.4" cy="1269" r="1.9"/><circle cx="412.9" cy="1271.6" r="1.9"/><circle cx="419.4" cy="1274" r="1.9"/><circle cx="425.9" cy="1276.4" r="1.9"/><circle cx="432.5" cy="1279" r="1.9"/><circle cx="439" cy="1281.7" r="1.9"/><circle cx="445.5" cy="1284.1" r="1.9"/><circle cx="452" cy="1285.9" r="1.9"/><circle cx="458.6" cy="1287.2" r="1.9"/><circle cx="465.1" cy="1288.4" r="1.9"/><circle cx="471.6" cy="1289.5" r="1.9"/><circle cx="478.1" cy="1290.3" r="1.9"/><circle cx="484.6" cy="1290.9" r="1.9"/><circle cx="491.2" cy="1291" r="1.9"/><circle cx="497.7" cy="1290.9" r="1.9"/><circle cx="504.2" cy="1290.7" r="1.9"/><circle cx="510.7" cy="1290.5" r="1.9"/><circle cx="517.3" cy="1290.2" r="1.9"/><circle cx="523.8" cy="1289.7" r="1.9"/><circle cx="530.3" cy="1289" r="1.9"/><circle cx="536.8" cy="1287.9" r="1.9"/><circle cx="543.4" cy="1286.4" r="1.9"/><circle cx="549.9" cy="1284.1" r="1.9"/><circle cx="556.4" cy="1279.9" r="1.9"/><circle cx="562.9" cy="1274.4" r="1.9"/><circle cx="569.5" cy="1267.9" r="1.9"/><circle cx="576" cy="1260.9" r="1.9"/><circle cx="582.5" cy="1252.5" r="1.9"/><circle cx="589" cy="1242.3" r="1.9"/><circle cx="595.5" cy="1231" r="1.9"/><circle cx="602.1" cy="1217.5" r="1.9"/><circle cx="608.6" cy="1203.1" r="1.9"/><circle cx="615.1" cy="1188.6" r="1.9"/><circle cx="621.6" cy="1170.3" r="1.9"/><circle cx="628.2" cy="1148.1" r="1.9"/><circle cx="634.7" cy="1121.4" r="1.9"/><circle cx="641.2" cy="1097.5" r="1.9"/><circle cx="647.7" cy="1082.5" r="1.9"/><circle cx="654.3" cy="1063" r="1.9"/><circle cx="660.8" cy="1038.6" r="1.9"/><circle cx="667.3" cy="1025.2" r="1.9"/><circle cx="673.8" cy="1013.1" r="1.9"/><circle cx="680.4" cy="1008.3" r="1.9"/><circle cx="686.9" cy="1006" r="1.9"/><circle cx="693.4" cy="1010.1" r="1.9"/><circle cx="699.9" cy="1022" r="1.9"/><circle cx="706.4" cy="1040.5" r="1.9"/><circle cx="713" cy="1055.5" r="1.9"/><circle cx="719.5" cy="1070.8" r="1.9"/><circle cx="726" cy="1089.4" r="1.9"/><circle cx="732.5" cy="1111.1" r="1.9"/><circle cx="739.1" cy="1131.7" r="1.9"/><circle cx="745.6" cy="1151.8" r="1.9"/><circle cx="752.1" cy="1171.6" r="1.9"/><circle cx="758.6" cy="1189.2" r="1.9"/><circle cx="765.2" cy="1204.7" r="1.9"/><circle cx="771.7" cy="1220.1" r="1.9"/><circle cx="778.2" cy="1235.4" r="1.9"/><circle cx="784.7" cy="1245.9" r="1.9"/><circle cx="791.2" cy="1253.9" r="1.9"/><circle cx="797.8" cy="1261.3" r="1.9"/><circle cx="804.3" cy="1269.1" r="1.9"/><circle cx="810.8" cy="1276.3" r="1.9"/><circle cx="817.3" cy="1281.8" r="1.9"/><circle cx="823.9" cy="1286.3" r="1.9"/><circle cx="830.4" cy="1290.1" r="1.9"/><circle cx="836.9" cy="1293.5" r="1.9"/><circle cx="843.4" cy="1296.4" r="1.9"/><circle cx="850" cy="1299" r="1.9"/><circle cx="856.5" cy="1301.4" r="1.9"/><circle cx="863" cy="1303.5" r="1.9"/><circle cx="869.5" cy="1305.4" r="1.9"/><circle cx="876.1" cy="1307.1" r="1.9"/><circle cx="882.6" cy="1308.6" r="1.9"/><circle cx="889.1" cy="1309.9" r="1.9"/><circle cx="895.6" cy="1311.1" r="1.9"/><circle cx="902.1" cy="1312.3" r="1.9"/><circle cx="908.7" cy="1313.3" r="1.9"/><circle cx="915.2" cy="1314.2" r="1.9"/><circle cx="921.7" cy="1315.1" r="1.9"/><circle cx="928.2" cy="1315.8" r="1.9"/><circle cx="934.8" cy="1316.5" r="1.9"/><circle cx="941.3" cy="1317.1" r="1.9"/><circle cx="947.8" cy="1317.7" r="1.9"/><circle cx="954.3" cy="1318.3" r="1.9"/><circle cx="960.9" cy="1318.9" r="1.9"/><circle cx="967.4" cy="1319.4" r="1.9"/><circle cx="973.9" cy="1319.8" r="1.9"/><circle cx="980.4" cy="1320.2" r="1.9"/><circle cx="987" cy="1320.6" r="1.9"/><circle cx="993.5" cy="1320.8" r="1.9"/><circle cx="1000" cy="1321" r="1.9"/></g>
<path d="M76.2 1326 236.2 1325.2 378.2 1325 1002.3 1326.5 L1002.3 1326.8 76.2 1326.5Z" fill="url(#g1)" stroke="none"/>
<path d="M76.2 1326.5 1002.3 1326.8" fill="none" stroke="#c46a10" stroke-width="2.1"/>
<path d="M76.2 1326 236.2 1325.2 378.2 1325 1002.3 1326.5" fill="none" stroke="#c46a10" stroke-width="2.1" stroke-linejoin="round"/>
<path d="M76.2 1323.3 119.2 1322.9 171.2 1322 251.2 1320.4 302.2 1319.2 334.2 1318.2 363.2 1317 390.2 1315.5 414.2 1313.8 438.2 1311.7 460.2 1309.3 480.2 1306.4 497.2 1303.3 512.2 1299.9 525.2 1296 531.2 1293.9 537.2 1291.5 542.2 1289.2 547.2 1286.7 552.2 1283.8 556.2 1281.3 564.2 1275.4 568.2 1272 572.2 1268.3 579.2 1260.7 586.2 1251.8 592.2 1242.9 599.2 1230.9 605.2 1219.1 611.2 1205.7 617.2 1190.8 622.2 1177.1 628.2 1159.2 633.2 1143.1 639.2 1122.7 659.2 1051 664.2 1034.7 668.2 1023.1 671.2 1015.5 673.2 1011 675.2 1007 677.2 1003.6 680.2 999.7 682.2 998 684.2 996.9 686.2 996.5 688.2 996.8 690.2 997.8 692.2 999.5 695.2 1003.3 697.2 1006.6 700.2 1012.6 702.2 1017.3 705.2 1025.3 709.2 1037.2 714.2 1053.7 733.2 1122.2 742.2 1152.6 747.2 1168.2 752.2 1182.7 756.2 1193.5 761.2 1206.1 765.2 1215.3 770.2 1225.9 775.2 1235.4 780.2 1244 785.2 1251.8 790.2 1258.6 795.2 1264.8 800.2 1270.2 807.2 1276.9 814.2 1282.5 821.2 1287.3 829.2 1291.9 837.2 1295.7 846.2 1299.3 856.2 1302.7 867.2 1305.7 879.2 1308.4 892.2 1310.8 906.2 1312.9 922.2 1314.9 939.2 1316.5 957.2 1317.9 978.2 1319.2 1002.3 1320.4 L1002.3 1320.5 802.7 1321 643 1321 511.3 1320.5 343.7 1320.5 275.8 1321.1 76.2 1323.6Z" fill="url(#g2)" stroke="none"/>
<path d="M76.2 1323.6 275.8 1321.1 343.7 1320.5 511.3 1320.5 643 1321 802.7 1321 1002.3 1320.5" fill="none" stroke="#a0105a" stroke-width="2.1"/>
<path d="M76.2 1323.3 119.2 1322.9 171.2 1322 251.2 1320.4 302.2 1319.2 334.2 1318.2 363.2 1317 390.2 1315.5 414.2 1313.8 438.2 1311.7 460.2 1309.3 480.2 1306.4 497.2 1303.3 512.2 1299.9 525.2 1296 531.2 1293.9 537.2 1291.5 542.2 1289.2 547.2 1286.7 552.2 1283.8 556.2 1281.3 564.2 1275.4 568.2 1272 572.2 1268.3 579.2 1260.7 586.2 1251.8 592.2 1242.9 599.2 1230.9 605.2 1219.1 611.2 1205.7 617.2 1190.8 622.2 1177.1 628.2 1159.2 633.2 1143.1 639.2 1122.7 659.2 1051 664.2 1034.7 668.2 1023.1 671.2 1015.5 673.2 1011 675.2 1007 677.2 1003.6 680.2 999.7 682.2 998 684.2 996.9 686.2 996.5 688.2 996.8 690.2 997.8 692.2 999.5 695.2 1003.3 697.2 1006.6 700.2 1012.6 702.2 1017.3 705.2 1025.3 709.2 1037.2 714.2 1053.7 733.2 1122.2 742.2 1152.6 747.2 1168.2 752.2 1182.7 756.2 1193.5 761.2 1206.1 765.2 1215.3 770.2 1225.9 775.2 1235.4 780.2 1244 785.2 1251.8 790.2 1258.6 795.2 1264.8 800.2 1270.2 807.2 1276.9 814.2 1282.5 821.2 1287.3 829.2 1291.9 837.2 1295.7 846.2 1299.3 856.2 1302.7 867.2 1305.7 879.2 1308.4 892.2 1310.8 906.2 1312.9 922.2 1314.9 939.2 1316.5 957.2 1317.9 978.2 1319.2 1002.3 1320.4" fill="none" stroke="#a0105a" stroke-width="2.1" stroke-linejoin="round"/>
<path d="M76.2 1318.1 99.2 1316.2 119.2 1314 137.2 1311.4 152.2 1308.5 166.2 1304.9 178.2 1301 184.2 1298.6 189.2 1296.4 195.2 1293.3 200.2 1290.5 209.2 1284.5 214.2 1280.7 218.2 1277.3 223.2 1272.7 227.2 1268.7 235.2 1259.7 241.2 1252.1 247.2 1243.8 254.2 1233.4 272.2 1205.4 277.2 1198.4 281.2 1193.6 285.2 1189.5 289.2 1186.6 291.2 1185.5 293.2 1184.8 295.2 1184.3 297.2 1184.2 299.2 1184.4 301.2 1185 303.2 1185.8 305.2 1187 309.2 1190.2 314.2 1195.5 318.2 1200.7 322.2 1206.4 341.2 1236.1 347.2 1244.9 352.2 1251.8 358.2 1259.5 364.2 1266.4 370.2 1272.6 377.2 1278.9 384.2 1284.4 391.2 1289.2 398.2 1293.3 406.2 1297.2 415.2 1300.9 424.2 1303.9 434.2 1306.7 444.2 1308.9 457.2 1311.2 472.2 1313.3 489.2 1315.2 509.2 1316.9 531.2 1318.4 557.2 1319.8 586.2 1321 620.2 1322.2 730.2 1325.1 778.2 1326.1 824.2 1326.7 891.2 1327.1 1002.3 1326.6 L1002.3 1326.3 934.4 1327.2 898.5 1327.3 866.6 1327.2 782.8 1326.2 698.9 1323.9 663 1323.2 355.6 1321.9 76.2 1320Z" fill="url(#g3)" stroke="none"/>
<path d="M76.2 1320 355.6 1321.9 663 1323.2 698.9 1323.9 782.8 1326.2 866.6 1327.2 898.5 1327.3 934.4 1327.2 1002.3 1326.3" fill="none" stroke="#00008b" stroke-width="2.1"/>
<path d="M76.2 1318.1 99.2 1316.2 119.2 1314 137.2 1311.4 152.2 1308.5 166.2 1304.9 178.2 1301 184.2 1298.6 189.2 1296.4 195.2 1293.3 200.2 1290.5 209.2 1284.5 214.2 1280.7 218.2 1277.3 223.2 1272.7 227.2 1268.7 235.2 1259.7 241.2 1252.1 247.2 1243.8 254.2 1233.4 272.2 1205.4 277.2 1198.4 281.2 1193.6 285.2 1189.5 289.2 1186.6 291.2 1185.5 293.2 1184.8 295.2 1184.3 297.2 1184.2 299.2 1184.4 301.2 1185 303.2 1185.8 305.2 1187 309.2 1190.2 314.2 1195.5 318.2 1200.7 322.2 1206.4 341.2 1236.1 347.2 1244.9 352.2 1251.8 358.2 1259.5 364.2 1266.4 370.2 1272.6 377.2 1278.9 384.2 1284.4 391.2 1289.2 398.2 1293.3 406.2 1297.2 415.2 1300.9 424.2 1303.9 434.2 1306.7 444.2 1308.9 457.2 1311.2 472.2 1313.3 489.2 1315.2 509.2 1316.9 531.2 1318.4 557.2 1319.8 586.2 1321 620.2 1322.2 730.2 1325.1 778.2 1326.1 824.2 1326.7 891.2 1327.1 1002.3 1326.6" fill="none" stroke="#00008b" stroke-width="2.1" stroke-linejoin="round"/>
</g>
<g clip-path="url(#c3)">
<g fill="none" stroke="#cbcbcb" stroke-width="1"><circle cx="82" cy="1685" r="1.9"/><circle cx="120" cy="1684" r="1.9"/><circle cx="140" cy="1680" r="1.9"/><circle cx="155" cy="1675" r="1.9"/><circle cx="166" cy="1673" r="1.9"/><circle cx="177" cy="1665" r="1.9"/><circle cx="189" cy="1662" r="1.9"/><circle cx="200" cy="1655" r="1.9"/><circle cx="212" cy="1646" r="1.9"/><circle cx="224" cy="1643" r="1.9"/><circle cx="236" cy="1639" r="1.9"/><circle cx="247" cy="1629" r="1.9"/><circle cx="258" cy="1627" r="1.9"/><circle cx="270" cy="1624" r="1.9"/><circle cx="282" cy="1623" r="1.9"/><circle cx="293" cy="1623" r="1.9"/><circle cx="305" cy="1625" r="1.9"/><circle cx="317" cy="1624" r="1.9"/><circle cx="328" cy="1626" r="1.9"/><circle cx="340" cy="1630" r="1.9"/><circle cx="351" cy="1627" r="1.9"/><circle cx="363" cy="1633" r="1.9"/><circle cx="375" cy="1634" r="1.9"/><circle cx="386" cy="1633" r="1.9"/><circle cx="398" cy="1632" r="1.9"/><circle cx="409" cy="1631" r="1.9"/><circle cx="421" cy="1630" r="1.9"/><circle cx="432" cy="1626" r="1.9"/><circle cx="444" cy="1627" r="1.9"/><circle cx="456" cy="1620" r="1.9"/><circle cx="467" cy="1621" r="1.9"/><circle cx="479" cy="1622" r="1.9"/><circle cx="490" cy="1619" r="1.9"/><circle cx="502" cy="1618" r="1.9"/><circle cx="514" cy="1616" r="1.9"/><circle cx="525" cy="1612" r="1.9"/><circle cx="537" cy="1609" r="1.9"/><circle cx="549" cy="1606" r="1.9"/><circle cx="560" cy="1597" r="1.9"/><circle cx="571" cy="1579" r="1.9"/><circle cx="583" cy="1561" r="1.9"/><circle cx="594" cy="1542" r="1.9"/><circle cx="606" cy="1515" r="1.9"/><circle cx="617" cy="1488" r="1.9"/><circle cx="628" cy="1462" r="1.9"/><circle cx="640" cy="1440" r="1.9"/><circle cx="652" cy="1418" r="1.9"/><circle cx="664" cy="1404" r="1.9"/><circle cx="675" cy="1398" r="1.9"/><circle cx="687" cy="1397" r="1.9"/><circle cx="698" cy="1403" r="1.9"/><circle cx="710" cy="1412" r="1.9"/><circle cx="722" cy="1438" r="1.9"/><circle cx="733" cy="1456" r="1.9"/><circle cx="745" cy="1468" r="1.9"/><circle cx="757" cy="1489" r="1.9"/><circle cx="768" cy="1514" r="1.9"/><circle cx="780" cy="1530" r="1.9"/><circle cx="791" cy="1545" r="1.9"/><circle cx="803" cy="1565" r="1.9"/><circle cx="814" cy="1578" r="1.9"/><circle cx="826" cy="1589" r="1.9"/><circle cx="837" cy="1597" r="1.9"/><circle cx="849" cy="1607" r="1.9"/><circle cx="860" cy="1615" r="1.9"/><circle cx="872" cy="1624" r="1.9"/><circle cx="884" cy="1627" r="1.9"/><circle cx="895" cy="1636" r="1.9"/><circle cx="907" cy="1640" r="1.9"/><circle cx="919" cy="1643" r="1.9"/><circle cx="931" cy="1649" r="1.9"/><circle cx="942" cy="1654" r="1.9"/><circle cx="955" cy="1656" r="1.9"/><circle cx="965" cy="1660" r="1.9"/><circle cx="980" cy="1662" r="1.9"/></g>
<path d="M76.2 1682.4 129.2 1680.9 149.2 1680 164.2 1679.2 176.2 1678.2 186.2 1677.1 195.2 1675.6 203.2 1673.8 210.2 1671.8 216.2 1669.6 222.2 1667 228.2 1663.9 234.2 1660.3 241.2 1655.5 247.2 1650.9 261.2 1639.7 268.2 1634.7 272.2 1632.4 276.2 1630.7 280.2 1629.6 283.2 1629.3 286.2 1629.5 290.2 1630.3 294.2 1631.9 298.2 1634.1 305.2 1638.9 321.2 1651.5 330.2 1658 339.2 1663.5 344.2 1666.1 349.2 1668.4 354.2 1670.3 359.2 1671.9 365.2 1673.5 371.2 1674.8 377.2 1675.8 384.2 1676.7 400.2 1678.1 428.2 1679.3 466.2 1680 512.2 1680.3 579.2 1680.2 728.2 1679.4 741.2 1679.1 759.2 1678 771.2 1677.7 1002.3 1676 L1002.3 1676 611.1 1679.7 76.2 1684.3Z" fill="url(#g4)" stroke="none"/>
<path d="M76.2 1684.3 611.1 1679.7 1002.3 1676" fill="none" stroke="#00008b" stroke-width="2.1"/>
<path d="M76.2 1682.4 129.2 1680.9 149.2 1680 164.2 1679.2 176.2 1678.2 186.2 1677.1 195.2 1675.6 203.2 1673.8 210.2 1671.8 216.2 1669.6 222.2 1667 228.2 1663.9 234.2 1660.3 241.2 1655.5 247.2 1650.9 261.2 1639.7 268.2 1634.7 272.2 1632.4 276.2 1630.7 280.2 1629.6 283.2 1629.3 286.2 1629.5 290.2 1630.3 294.2 1631.9 298.2 1634.1 305.2 1638.9 321.2 1651.5 330.2 1658 339.2 1663.5 344.2 1666.1 349.2 1668.4 354.2 1670.3 359.2 1671.9 365.2 1673.5 371.2 1674.8 377.2 1675.8 384.2 1676.7 400.2 1678.1 428.2 1679.3 466.2 1680 512.2 1680.3 579.2 1680.2 728.2 1679.4 741.2 1679.1 759.2 1678 771.2 1677.7 1002.3 1676" fill="none" stroke="#00008b" stroke-width="2.1" stroke-linejoin="round"/>
<path d="M76.2 1681.3 127.2 1680.2 168.2 1679 204.2 1677.7 238.2 1676.2 271.2 1674.3 303.2 1672.1 332.2 1669.7 358.2 1667.1 381.2 1664.4 402.2 1661.3 421.2 1658 439.2 1654.3 455.2 1650.2 470.2 1645.6 483.2 1640.9 496.2 1635.1 506.2 1630 516.2 1624 526.2 1617 535.2 1609.9 544.2 1601.7 552.2 1593.4 560.2 1584.2 568.2 1573.9 576.2 1562.5 583.2 1551.6 590.2 1539.7 598.2 1525 605.2 1511.2 612.2 1496.6 639.2 1437.7 645.2 1425.6 651.2 1414.7 655.2 1408.2 658.2 1403.9 662.2 1399 665.2 1396 668.2 1393.6 671.2 1391.8 674.2 1390.7 677.2 1390.3 679.2 1390.4 682.2 1391.1 685.2 1392.5 688.2 1394.5 691.2 1397.2 694.2 1400.5 697.2 1404.3 700.2 1408.6 703.2 1413.4 707.2 1420.4 714.2 1433.9 721.2 1448.6 740.2 1490 751.2 1512.7 760.2 1529.8 769.2 1545.5 775.2 1555.1 781.2 1564 787.2 1572.3 793.2 1579.9 799.2 1587 806.2 1594.4 812.2 1600.3 819.2 1606.5 826.2 1612 834.2 1617.8 842.2 1622.8 851.2 1627.8 860.2 1632.2 869.2 1636 879.2 1639.8 889.2 1643 900.2 1646.1 912.2 1649 925.2 1651.7 938.2 1654 952.2 1656.2 968.2 1658.3 984.2 1660 1002.3 1661.7 L1002.3 1661.7 890.5 1663.5 778.8 1665.8 499.3 1672.7 375.6 1676.3 307.7 1677.9 184 1680.4 76.2 1682Z" fill="url(#g5)" stroke="none"/>
<path d="M76.2 1682 184 1680.4 307.7 1677.9 375.6 1676.3 499.3 1672.7 778.8 1665.8 890.5 1663.5 1002.3 1661.7" fill="none" stroke="#a0105a" stroke-width="2.1"/>
<path d="M76.2 1681.3 127.2 1680.2 168.2 1679 204.2 1677.7 238.2 1676.2 271.2 1674.3 303.2 1672.1 332.2 1669.7 358.2 1667.1 381.2 1664.4 402.2 1661.3 421.2 1658 439.2 1654.3 455.2 1650.2 470.2 1645.6 483.2 1640.9 496.2 1635.1 506.2 1630 516.2 1624 526.2 1617 535.2 1609.9 544.2 1601.7 552.2 1593.4 560.2 1584.2 568.2 1573.9 576.2 1562.5 583.2 1551.6 590.2 1539.7 598.2 1525 605.2 1511.2 612.2 1496.6 639.2 1437.7 645.2 1425.6 651.2 1414.7 655.2 1408.2 658.2 1403.9 662.2 1399 665.2 1396 668.2 1393.6 671.2 1391.8 674.2 1390.7 677.2 1390.3 679.2 1390.4 682.2 1391.1 685.2 1392.5 688.2 1394.5 691.2 1397.2 694.2 1400.5 697.2 1404.3 700.2 1408.6 703.2 1413.4 707.2 1420.4 714.2 1433.9 721.2 1448.6 740.2 1490 751.2 1512.7 760.2 1529.8 769.2 1545.5 775.2 1555.1 781.2 1564 787.2 1572.3 793.2 1579.9 799.2 1587 806.2 1594.4 812.2 1600.3 819.2 1606.5 826.2 1612 834.2 1617.8 842.2 1622.8 851.2 1627.8 860.2 1632.2 869.2 1636 879.2 1639.8 889.2 1643 900.2 1646.1 912.2 1649 925.2 1651.7 938.2 1654 952.2 1656.2 968.2 1658.3 984.2 1660 1002.3 1661.7" fill="none" stroke="#a0105a" stroke-width="2.1" stroke-linejoin="round"/>
<path d="M76.2 1684.3 155.2 1683.4 247.2 1681.9 279.2 1680.9 291.2 1680.2 302.2 1679.3 311.2 1678.4 320.2 1677.1 329.2 1675.5 337.2 1673.7 346.2 1671.4 355.2 1668.6 382.2 1659.2 392.2 1656.1 398.2 1654.6 403.2 1653.6 408.2 1653 413.2 1652.7 418.2 1652.8 423.2 1653.3 428.2 1654.2 434.2 1655.5 444.2 1658.5 465.2 1665.6 475.2 1668.7 485.2 1671.4 495.2 1673.7 506.2 1675.6 517.2 1677 529.2 1678.1 543.2 1678.8 561.2 1679.3 586.2 1679.6 663.2 1679.6 761.2 1678.4 1002.3 1676 L1002.3 1676 611.1 1679.7 76.2 1684.3Z" fill="url(#g6)" stroke="none"/>
<path d="M76.2 1684.3 611.1 1679.7 1002.3 1676" fill="none" stroke="#c46a10" stroke-width="2.1"/>
<path d="M76.2 1684.3 155.2 1683.4 247.2 1681.9 279.2 1680.9 291.2 1680.2 302.2 1679.3 311.2 1678.4 320.2 1677.1 329.2 1675.5 337.2 1673.7 346.2 1671.4 355.2 1668.6 382.2 1659.2 392.2 1656.1 398.2 1654.6 403.2 1653.6 408.2 1653 413.2 1652.7 418.2 1652.8 423.2 1653.3 428.2 1654.2 434.2 1655.5 444.2 1658.5 465.2 1665.6 475.2 1668.7 485.2 1671.4 495.2 1673.7 506.2 1675.6 517.2 1677 529.2 1678.1 543.2 1678.8 561.2 1679.3 586.2 1679.6 663.2 1679.6 761.2 1678.4 1002.3 1676" fill="none" stroke="#c46a10" stroke-width="2.1" stroke-linejoin="round"/>
</g>
<rect x="76.2" y="976.2" width="926.1" height="748.1" fill="none" stroke="#1a1a1a" stroke-width="2.4"/>
<line x1="76.2" y1="1350.5" x2="1002.3" y2="1350.5" stroke="#1a1a1a" stroke-width="2.2"/>
<line x1="76.2" y1="1724.3" x2="76.2" y2="1733.3" stroke="#1a1a1a" stroke-width="2.4"/>
<text transform="translate(76.2 1759.3) scale(1 1.09)" font-size="22.5" fill="#000" text-anchor="middle" font-weight="bold" >283</text>
<line x1="192" y1="1724.3" x2="192" y2="1733.3" stroke="#1a1a1a" stroke-width="2.4"/>
<text transform="translate(192 1759.3) scale(1 1.09)" font-size="22.5" fill="#000" text-anchor="middle" font-weight="bold" >284</text>
<line x1="307.7" y1="1724.3" x2="307.7" y2="1733.3" stroke="#1a1a1a" stroke-width="2.4"/>
<text transform="translate(307.7 1759.3) scale(1 1.09)" font-size="22.5" fill="#000" text-anchor="middle" font-weight="bold" >285</text>
<line x1="423.5" y1="1724.3" x2="423.5" y2="1733.3" stroke="#1a1a1a" stroke-width="2.4"/>
<text transform="translate(423.5 1759.3) scale(1 1.09)" font-size="22.5" fill="#000" text-anchor="middle" font-weight="bold" >286</text>
<line x1="539.2" y1="1724.3" x2="539.2" y2="1733.3" stroke="#1a1a1a" stroke-width="2.4"/>
<text transform="translate(539.2 1759.3) scale(1 1.09)" font-size="22.5" fill="#000" text-anchor="middle" font-weight="bold" >287</text>
<line x1="655" y1="1724.3" x2="655" y2="1733.3" stroke="#1a1a1a" stroke-width="2.4"/>
<text transform="translate(655 1759.3) scale(1 1.09)" font-size="22.5" fill="#000" text-anchor="middle" font-weight="bold" >288</text>
<line x1="770.8" y1="1724.3" x2="770.8" y2="1733.3" stroke="#1a1a1a" stroke-width="2.4"/>
<text transform="translate(770.8 1759.3) scale(1 1.09)" font-size="22.5" fill="#000" text-anchor="middle" font-weight="bold" >289</text>
<line x1="886.5" y1="1724.3" x2="886.5" y2="1733.3" stroke="#1a1a1a" stroke-width="2.4"/>
<text transform="translate(886.5 1759.3) scale(1 1.09)" font-size="22.5" fill="#000" text-anchor="middle" font-weight="bold" >290</text>
<line x1="1002.3" y1="1724.3" x2="1002.3" y2="1733.3" stroke="#1a1a1a" stroke-width="2.4"/>
<text transform="translate(1002.3 1759.3) scale(1 1.09)" font-size="22.5" fill="#000" text-anchor="middle" font-weight="bold" >291</text>
<text transform="translate(427.3 1800.3) scale(1 1.06)" font-size="25.2" fill="#000" text-anchor="start" font-weight="bold" >Binding Energy (eV)</text>
<text transform="translate(53 1481.6) rotate(-90) scale(1 1.06)" font-size="25.2" fill="#000" font-weight="bold">Intensity (a.u.)</text>
<text transform="translate(3 1007.5) scale(1 0.98)" font-size="52.4" fill="#000" text-anchor="start" font-weight="bold" >(b)</text>
<text transform="translate(106.2 1027) scale(1 1.06)" font-size="22.9" fill="#000" text-anchor="start" font-weight="bold" >C 1s</text>
<text transform="translate(252.5 1169.5) scale(1 1.0)" font-size="22.9" fill="#15158c" text-anchor="start" font-weight="bold" >284.91 eV</text>
<text transform="translate(713.7 1015) scale(1 1.0)" font-size="22.9" fill="#a0145a" text-anchor="start" font-weight="bold" >288.28 eV</text>
<text transform="translate(888.7 1018.7) scale(1 1.06)" font-size="22.9" fill="#000" text-anchor="start" font-weight="bold" >TCN10</text>
<text transform="translate(453.7 1267.5) scale(1 1.0)" font-size="22.9" fill="#c46a12" text-anchor="start" font-weight="bold" >286.24 eV</text>
<text transform="translate(255 1607.7) scale(1 1.0)" font-size="22.9" fill="#15158c" text-anchor="start" font-weight="bold" >284.93 eV</text>
<text transform="translate(426.7 1600.7) scale(1 1.0)" font-size="22.9" fill="#c46a12" text-anchor="start" font-weight="bold" >285.95 eV</text>
<text transform="translate(730.7 1414) scale(1 1.0)" font-size="22.9" fill="#a0145a" text-anchor="start" font-weight="bold" >288.17 eV</text>
<text transform="translate(887.3 1396) scale(1 1.06)" font-size="22.9" fill="#000" text-anchor="start" font-weight="bold" >g-C<tspan font-size="15" dy="6">3</tspan><tspan dy="-6">N</tspan><tspan font-size="15" dy="6">4</tspan></text>
<g clip-path="url(#c6)">
<g fill="none" stroke="#cbcbcb" stroke-width="1"><circle cx="1090" cy="1308" r="1.9"/><circle cx="1095.1" cy="1308" r="1.9"/><circle cx="1100.3" cy="1307.9" r="1.9"/><circle cx="1105.4" cy="1307.9" r="1.9"/><circle cx="1110.6" cy="1307.8" r="1.9"/><circle cx="1115.7" cy="1307.8" r="1.9"/><circle cx="1120.8" cy="1307.7" r="1.9"/><circle cx="1126" cy="1307.6" r="1.9"/><circle cx="1131.1" cy="1307.6" r="1.9"/><circle cx="1136.3" cy="1307.5" r="1.9"/><circle cx="1141.4" cy="1307.4" r="1.9"/><circle cx="1146.5" cy="1307.3" r="1.9"/><circle cx="1151.7" cy="1307.2" r="1.9"/><circle cx="1156.8" cy="1307.1" r="1.9"/><circle cx="1162" cy="1307" r="1.9"/><circle cx="1167.1" cy="1306.9" r="1.9"/><circle cx="1172.2" cy="1306.8" r="1.9"/><circle cx="1177.4" cy="1306.7" r="1.9"/><circle cx="1182.5" cy="1306.5" r="1.9"/><circle cx="1187.7" cy="1306.4" r="1.9"/><circle cx="1192.8" cy="1306.3" r="1.9"/><circle cx="1197.9" cy="1306.1" r="1.9"/><circle cx="1203.1" cy="1306" r="1.9"/><circle cx="1208.2" cy="1305.9" r="1.9"/><circle cx="1213.4" cy="1305.7" r="1.9"/><circle cx="1218.5" cy="1305.6" r="1.9"/><circle cx="1223.7" cy="1305.4" r="1.9"/><circle cx="1228.8" cy="1305.3" r="1.9"/><circle cx="1233.9" cy="1305.1" r="1.9"/><circle cx="1239.1" cy="1305" r="1.9"/><circle cx="1244.2" cy="1304.8" r="1.9"/><circle cx="1249.4" cy="1304.7" r="1.9"/><circle cx="1254.5" cy="1304.5" r="1.9"/><circle cx="1259.6" cy="1304.3" r="1.9"/><circle cx="1264.8" cy="1304.2" r="1.9"/><circle cx="1269.9" cy="1304" r="1.9"/><circle cx="1275.1" cy="1303.8" r="1.9"/><circle cx="1280.2" cy="1303.7" r="1.9"/><circle cx="1285.3" cy="1303.5" r="1.9"/><circle cx="1290.5" cy="1303.3" r="1.9"/><circle cx="1295.6" cy="1303.1" r="1.9"/><circle cx="1300.8" cy="1303" r="1.9"/><circle cx="1305.9" cy="1302.8" r="1.9"/><circle cx="1311" cy="1302.6" r="1.9"/><circle cx="1316.2" cy="1302.5" r="1.9"/><circle cx="1321.3" cy="1302.3" r="1.9"/><circle cx="1326.5" cy="1302.2" r="1.9"/><circle cx="1331.6" cy="1302" r="1.9"/><circle cx="1336.7" cy="1301.8" r="1.9"/><circle cx="1341.9" cy="1301.6" r="1.9"/><circle cx="1347" cy="1301.4" r="1.9"/><circle cx="1352.2" cy="1301.2" r="1.9"/><circle cx="1357.3" cy="1301" r="1.9"/><circle cx="1362.4" cy="1300.7" r="1.9"/><circle cx="1367.6" cy="1300.4" r="1.9"/><circle cx="1372.7" cy="1300.1" r="1.9"/><circle cx="1377.9" cy="1299.8" r="1.9"/><circle cx="1383" cy="1299.4" r="1.9"/><circle cx="1388.1" cy="1299" r="1.9"/><circle cx="1393.3" cy="1298.6" r="1.9"/><circle cx="1398.4" cy="1298.2" r="1.9"/><circle cx="1403.6" cy="1297.6" r="1.9"/><circle cx="1408.7" cy="1296.6" r="1.9"/><circle cx="1413.8" cy="1295.4" r="1.9"/><circle cx="1419" cy="1293.8" r="1.9"/><circle cx="1424.1" cy="1292" r="1.9"/><circle cx="1429.3" cy="1289.9" r="1.9"/><circle cx="1434.4" cy="1287.7" r="1.9"/><circle cx="1439.6" cy="1285.2" r="1.9"/><circle cx="1444.7" cy="1282.2" r="1.9"/><circle cx="1449.8" cy="1278.2" r="1.9"/><circle cx="1455" cy="1273.4" r="1.9"/><circle cx="1460.1" cy="1267.9" r="1.9"/><circle cx="1465.3" cy="1260.8" r="1.9"/><circle cx="1470.4" cy="1252.1" r="1.9"/><circle cx="1475.5" cy="1243.3" r="1.9"/><circle cx="1480.7" cy="1235.6" r="1.9"/><circle cx="1485.8" cy="1227.8" r="1.9"/><circle cx="1491" cy="1217.5" r="1.9"/><circle cx="1496.1" cy="1203.5" r="1.9"/><circle cx="1501.2" cy="1189.6" r="1.9"/><circle cx="1506.4" cy="1176.4" r="1.9"/><circle cx="1511.5" cy="1161.1" r="1.9"/><circle cx="1516.7" cy="1144.2" r="1.9"/><circle cx="1521.8" cy="1126.8" r="1.9"/><circle cx="1526.9" cy="1110.7" r="1.9"/><circle cx="1532.1" cy="1096.5" r="1.9"/><circle cx="1537.2" cy="1079.2" r="1.9"/><circle cx="1542.4" cy="1064.4" r="1.9"/><circle cx="1547.5" cy="1053.8" r="1.9"/><circle cx="1552.6" cy="1043.2" r="1.9"/><circle cx="1557.8" cy="1036.2" r="1.9"/><circle cx="1562.9" cy="1031.5" r="1.9"/><circle cx="1568.1" cy="1028.9" r="1.9"/><circle cx="1573.2" cy="1027.7" r="1.9"/><circle cx="1578.3" cy="1028.2" r="1.9"/><circle cx="1583.5" cy="1034.3" r="1.9"/><circle cx="1588.6" cy="1044" r="1.9"/><circle cx="1593.8" cy="1050.3" r="1.9"/><circle cx="1598.9" cy="1057.2" r="1.9"/><circle cx="1604" cy="1066.6" r="1.9"/><circle cx="1609.2" cy="1082.5" r="1.9"/><circle cx="1614.3" cy="1094.4" r="1.9"/><circle cx="1619.5" cy="1105.8" r="1.9"/><circle cx="1624.6" cy="1120.4" r="1.9"/><circle cx="1629.7" cy="1131.7" r="1.9"/><circle cx="1634.9" cy="1144.4" r="1.9"/><circle cx="1640" cy="1153.9" r="1.9"/><circle cx="1645.2" cy="1164.3" r="1.9"/><circle cx="1650.3" cy="1173.7" r="1.9"/><circle cx="1655.4" cy="1184.7" r="1.9"/><circle cx="1660.6" cy="1189.1" r="1.9"/><circle cx="1665.7" cy="1193.4" r="1.9"/><circle cx="1670.9" cy="1199" r="1.9"/><circle cx="1676" cy="1203.8" r="1.9"/><circle cx="1681.2" cy="1208.1" r="1.9"/><circle cx="1686.3" cy="1212.2" r="1.9"/><circle cx="1691.4" cy="1215.3" r="1.9"/><circle cx="1696.6" cy="1217.8" r="1.9"/><circle cx="1701.7" cy="1220" r="1.9"/><circle cx="1706.9" cy="1221.9" r="1.9"/><circle cx="1712" cy="1223.5" r="1.9"/><circle cx="1717.1" cy="1225" r="1.9"/><circle cx="1722.3" cy="1226.3" r="1.9"/><circle cx="1727.4" cy="1227.6" r="1.9"/><circle cx="1732.6" cy="1228.8" r="1.9"/><circle cx="1737.7" cy="1229.8" r="1.9"/><circle cx="1742.8" cy="1230.9" r="1.9"/><circle cx="1748" cy="1232" r="1.9"/><circle cx="1753.1" cy="1233.3" r="1.9"/><circle cx="1758.3" cy="1234.6" r="1.9"/><circle cx="1763.4" cy="1236" r="1.9"/><circle cx="1768.5" cy="1237.3" r="1.9"/><circle cx="1773.7" cy="1238.5" r="1.9"/><circle cx="1778.8" cy="1239.4" r="1.9"/><circle cx="1784" cy="1240.2" r="1.9"/><circle cx="1789.1" cy="1240.9" r="1.9"/><circle cx="1794.2" cy="1241.6" r="1.9"/><circle cx="1799.4" cy="1242.4" r="1.9"/><circle cx="1804.5" cy="1243.3" r="1.9"/><circle cx="1809.7" cy="1244.4" r="1.9"/><circle cx="1814.8" cy="1245.5" r="1.9"/><circle cx="1819.9" cy="1246.5" r="1.9"/><circle cx="1825.1" cy="1247.5" r="1.9"/><circle cx="1830.2" cy="1248.3" r="1.9"/><circle cx="1835.4" cy="1249" r="1.9"/><circle cx="1840.5" cy="1250.2" r="1.9"/><circle cx="1845.6" cy="1253.2" r="1.9"/><circle cx="1850.8" cy="1256.7" r="1.9"/><circle cx="1855.9" cy="1259.4" r="1.9"/><circle cx="1861.1" cy="1261.9" r="1.9"/><circle cx="1866.2" cy="1264.1" r="1.9"/><circle cx="1871.3" cy="1266.1" r="1.9"/><circle cx="1876.5" cy="1268.1" r="1.9"/><circle cx="1881.6" cy="1270.2" r="1.9"/><circle cx="1886.8" cy="1272.2" r="1.9"/><circle cx="1891.9" cy="1274.3" r="1.9"/><circle cx="1897.1" cy="1276.4" r="1.9"/><circle cx="1902.2" cy="1278.2" r="1.9"/><circle cx="1907.3" cy="1279.8" r="1.9"/><circle cx="1912.5" cy="1281.2" r="1.9"/><circle cx="1917.6" cy="1282.6" r="1.9"/><circle cx="1922.8" cy="1283.8" r="1.9"/><circle cx="1927.9" cy="1284.9" r="1.9"/><circle cx="1933" cy="1286.1" r="1.9"/><circle cx="1938.2" cy="1287.1" r="1.9"/><circle cx="1943.3" cy="1288" r="1.9"/><circle cx="1948.5" cy="1288.8" r="1.9"/><circle cx="1953.6" cy="1289.4" r="1.9"/><circle cx="1958.7" cy="1290" r="1.9"/><circle cx="1963.9" cy="1290.5" r="1.9"/><circle cx="1969" cy="1290.9" r="1.9"/><circle cx="1974.2" cy="1291.2" r="1.9"/><circle cx="1979.3" cy="1291.5" r="1.9"/><circle cx="1984.4" cy="1291.6" r="1.9"/><circle cx="1989.6" cy="1291.8" r="1.9"/><circle cx="1994.7" cy="1291.9" r="1.9"/><circle cx="1999.9" cy="1292" r="1.9"/><circle cx="2005" cy="1292" r="1.9"/></g>
<path d="M1085.7 1303.8 1179.7 1302.1 1207.7 1301.3 1234.7 1300.3 1263.7 1299 1290.7 1297.4 1314.7 1295.6 1336.7 1293.5 1356.7 1291.1 1374.7 1288.5 1390.7 1285.5 1405.7 1282.1 1418.7 1278.5 1429.7 1274.6 1439.7 1270.4 1444.7 1267.8 1449.7 1265 1457.7 1259.8 1464.7 1254.2 1471.7 1247.7 1477.7 1241.1 1483.7 1233.4 1489.7 1224.6 1495.7 1214.4 1500.7 1204.8 1506.7 1192 1511.7 1180 1516.7 1166.9 1521.7 1152.6 1530.7 1124.5 1549.7 1060.4 1553.7 1048 1557.7 1036.9 1560.7 1029.7 1562.7 1025.5 1564.7 1021.9 1566.7 1018.9 1568.7 1016.5 1570.7 1014.8 1572.7 1013.8 1574.7 1013.5 1576.7 1013.9 1578.7 1015.1 1580.7 1016.9 1582.7 1019.4 1584.7 1022.6 1586.7 1026.3 1588.7 1030.6 1591.7 1037.9 1595.7 1049 1599.7 1061.4 1617.7 1121.4 1626.7 1149.2 1631.7 1163.2 1636.7 1176.1 1641.7 1187.9 1646.7 1198.6 1651.7 1208.1 1657.7 1218.3 1662.7 1225.7 1668.7 1233.5 1674.7 1240.1 1680.7 1245.8 1686.7 1250.7 1693.7 1255.4 1701.7 1259.9 1710.7 1264 1720.7 1267.6 1730.7 1270.5 1742.7 1273.2 1755.7 1275.6 1769.7 1277.6 1785.7 1279.4 1803.7 1280.9 1824.7 1282.3 1847.7 1283.5 1874.7 1284.5 1907.7 1285.5 1943.7 1286.2 1977.7 1286.7 2011 1286.9 L2011 1289.3 1085.7 1305Z" fill="url(#g7)" stroke="none"/>
<path d="M1085.7 1305 2011 1289.3" fill="none" stroke="#00008b" stroke-width="2.1"/>
<path d="M1085.7 1303.8 1179.7 1302.1 1207.7 1301.3 1234.7 1300.3 1263.7 1299 1290.7 1297.4 1314.7 1295.6 1336.7 1293.5 1356.7 1291.1 1374.7 1288.5 1390.7 1285.5 1405.7 1282.1 1418.7 1278.5 1429.7 1274.6 1439.7 1270.4 1444.7 1267.8 1449.7 1265 1457.7 1259.8 1464.7 1254.2 1471.7 1247.7 1477.7 1241.1 1483.7 1233.4 1489.7 1224.6 1495.7 1214.4 1500.7 1204.8 1506.7 1192 1511.7 1180 1516.7 1166.9 1521.7 1152.6 1530.7 1124.5 1549.7 1060.4 1553.7 1048 1557.7 1036.9 1560.7 1029.7 1562.7 1025.5 1564.7 1021.9 1566.7 1018.9 1568.7 1016.5 1570.7 1014.8 1572.7 1013.8 1574.7 1013.5 1576.7 1013.9 1578.7 1015.1 1580.7 1016.9 1582.7 1019.4 1584.7 1022.6 1586.7 1026.3 1588.7 1030.6 1591.7 1037.9 1595.7 1049 1599.7 1061.4 1617.7 1121.4 1626.7 1149.2 1631.7 1163.2 1636.7 1176.1 1641.7 1187.9 1646.7 1198.6 1651.7 1208.1 1657.7 1218.3 1662.7 1225.7 1668.7 1233.5 1674.7 1240.1 1680.7 1245.8 1686.7 1250.7 1693.7 1255.4 1701.7 1259.9 1710.7 1264 1720.7 1267.6 1730.7 1270.5 1742.7 1273.2 1755.7 1275.6 1769.7 1277.6 1785.7 1279.4 1803.7 1280.9 1824.7 1282.3 1847.7 1283.5 1874.7 1284.5 1907.7 1285.5 1943.7 1286.2 1977.7 1286.7 2011 1286.9" fill="none" stroke="#00008b" stroke-width="2.1" stroke-linejoin="round"/>
<path d="M1085.7 1305 1196.7 1302.9 1284.7 1302 1478.7 1298.7 1508.7 1297.9 1534.7 1297 1555.7 1295.9 1573.7 1294.6 1589.7 1293 1604.7 1290.8 1617.7 1288.2 1630.7 1284.8 1642.7 1280.9 1654.7 1276.1 1666.7 1270.7 1689.7 1259.5 1700.7 1254.8 1706.7 1252.8 1712.7 1251.2 1718.7 1250.3 1723.7 1250 1728.7 1250.2 1734.7 1251 1739.7 1252.1 1745.7 1253.9 1756.7 1258.1 1777.7 1267.3 1786.7 1271 1795.7 1274.4 1804.7 1277.4 1812.7 1279.7 1820.7 1281.6 1828.7 1283.1 1837.7 1284.5 1847.7 1285.7 1859.7 1286.6 1872.7 1287.3 1887.7 1287.8 1939.7 1288.3 2011 1288.4 L2011 1289.3 1085.7 1305Z" fill="url(#g8)" stroke="none"/>
<path d="M1696.7 1256.4 1702.7 1254.1 1707.7 1252.5 1712.7 1251.2 1716.7 1250.5 1721.7 1250 1725.7 1250 1730.7 1250.4 1735.7 1251.2 1743.7 1253.2 1751.7 1256.1 1759.7 1259.4 1781.7 1269 1795.7 1274.4 1808.7 1278.6 1821.7 1281.8 L1821.7 1282.1 1797.7 1280.4 1777.7 1278.5 1759.7 1276.2 1743.7 1273.4 1729.7 1270.2 1717.7 1266.6 1711.7 1264.4 1706.7 1262.3 1701.7 1259.9 1696.7 1257.2Z" fill="rgba(120,70,100,0.55)" stroke="none"/>
<path d="M1696.7 1257.2 1701.7 1259.9 1706.7 1262.3 1711.7 1264.4 1717.7 1266.6 1729.7 1270.2 1743.7 1273.4 1759.7 1276.2 1777.7 1278.5 1797.7 1280.4 1821.7 1282.1" fill="none" stroke="rgba(40,20,90,0.55)" stroke-width="2.1"/>
<path d="M1085.7 1305 2011 1289.3" fill="none" stroke="#c46a10" stroke-width="2.1"/>
<path d="M1085.7 1305 1196.7 1302.9 1284.7 1302 1478.7 1298.7 1508.7 1297.9 1534.7 1297 1555.7 1295.9 1573.7 1294.6 1589.7 1293 1604.7 1290.8 1617.7 1288.2 1630.7 1284.8 1642.7 1280.9 1654.7 1276.1 1666.7 1270.7 1689.7 1259.5 1700.7 1254.8 1706.7 1252.8 1712.7 1251.2 1718.7 1250.3 1723.7 1250 1728.7 1250.2 1734.7 1251 1739.7 1252.1 1745.7 1253.9 1756.7 1258.1 1777.7 1267.3 1786.7 1271 1795.7 1274.4 1804.7 1277.4 1812.7 1279.7 1820.7 1281.6 1828.7 1283.1 1837.7 1284.5 1847.7 1285.7 1859.7 1286.6 1872.7 1287.3 1887.7 1287.8 1939.7 1288.3 2011 1288.4" fill="none" stroke="#c46a10" stroke-width="2.1" stroke-linejoin="round"/>
<path d="M1085.7 1305 1219.7 1302.8 1276.7 1302.1 1519.7 1297.9 1550.7 1297.1 1602.7 1295 1666.7 1293.1 1697.7 1291.8 1715.7 1290.6 1731.7 1289 1744.7 1287.1 1756.7 1284.7 1766.7 1282 1775.7 1278.9 1782.7 1275.9 1797.7 1268.9 1803.7 1266.4 1809.7 1264.6 1814.7 1264 1817.7 1264.1 1820.7 1264.4 1826.7 1266 1832.7 1268.3 1849.7 1275.7 1855.7 1277.9 1861.7 1279.9 1867.7 1281.5 1873.7 1282.8 1880.7 1284.1 1887.7 1285.1 1896.7 1286.1 1906.7 1286.9 1930.7 1288.1 1967.7 1288.9 2011 1289.2 L2011 1289.3 1085.7 1305Z" fill="url(#g9)" stroke="none"/>
<path d="M1085.7 1305 2011 1289.3" fill="none" stroke="#a0105a" stroke-width="3.0"/>
<path d="M1085.7 1305 1219.7 1302.8 1276.7 1302.1 1519.7 1297.9 1550.7 1297.1 1602.7 1295 1666.7 1293.1 1697.7 1291.8 1715.7 1290.6 1731.7 1289 1744.7 1287.1 1756.7 1284.7 1766.7 1282 1775.7 1278.9 1782.7 1275.9 1797.7 1268.9 1803.7 1266.4 1809.7 1264.6 1814.7 1264 1817.7 1264.1 1820.7 1264.4 1826.7 1266 1832.7 1268.3 1849.7 1275.7 1855.7 1277.9 1861.7 1279.9 1867.7 1281.5 1873.7 1282.8 1880.7 1284.1 1887.7 1285.1 1896.7 1286.1 1906.7 1286.9 1930.7 1288.1 1967.7 1288.9 2011 1289.2" fill="none" stroke="#a0105a" stroke-width="2.1" stroke-linejoin="round"/>
</g>
<g clip-path="url(#c9)">
<g fill="none" stroke="#cbcbcb" stroke-width="1"><circle cx="1093" cy="1679" r="1.9"/><circle cx="1103.3" cy="1679" r="1.9"/><circle cx="1113.6" cy="1679" r="1.9"/><circle cx="1123.8" cy="1678.9" r="1.9"/><circle cx="1134.1" cy="1678.9" r="1.9"/><circle cx="1144.4" cy="1678.9" r="1.9"/><circle cx="1154.7" cy="1678.8" r="1.9"/><circle cx="1165" cy="1678.7" r="1.9"/><circle cx="1175.2" cy="1678.7" r="1.9"/><circle cx="1185.5" cy="1678.6" r="1.9"/><circle cx="1195.8" cy="1678.5" r="1.9"/><circle cx="1206.1" cy="1678.5" r="1.9"/><circle cx="1216.4" cy="1678.4" r="1.9"/><circle cx="1226.7" cy="1678.3" r="1.9"/><circle cx="1236.9" cy="1678.2" r="1.9"/><circle cx="1247.2" cy="1678.1" r="1.9"/><circle cx="1257.5" cy="1677.9" r="1.9"/><circle cx="1267.8" cy="1677.8" r="1.9"/><circle cx="1278.1" cy="1677.6" r="1.9"/><circle cx="1288.3" cy="1677.3" r="1.9"/><circle cx="1298.6" cy="1677" r="1.9"/><circle cx="1308.9" cy="1676.5" r="1.9"/><circle cx="1319.2" cy="1675.3" r="1.9"/><circle cx="1329.5" cy="1673.7" r="1.9"/><circle cx="1339.7" cy="1672" r="1.9"/><circle cx="1350" cy="1670.1" r="1.9"/><circle cx="1360.3" cy="1667.6" r="1.9"/><circle cx="1370.6" cy="1664.8" r="1.9"/><circle cx="1380.9" cy="1661.7" r="1.9"/><circle cx="1391.1" cy="1658.1" r="1.9"/><circle cx="1401.4" cy="1653.8" r="1.9"/><circle cx="1411.7" cy="1649.2" r="1.9"/><circle cx="1422" cy="1644.2" r="1.9"/><circle cx="1432.3" cy="1638.9" r="1.9"/><circle cx="1442.6" cy="1633.4" r="1.9"/><circle cx="1452.8" cy="1618.3" r="1.9"/><circle cx="1463.1" cy="1600.8" r="1.9"/><circle cx="1473.4" cy="1578.2" r="1.9"/><circle cx="1483.7" cy="1557.8" r="1.9"/><circle cx="1494" cy="1529.1" r="1.9"/><circle cx="1504.2" cy="1503.6" r="1.9"/><circle cx="1514.5" cy="1476.2" r="1.9"/><circle cx="1524.8" cy="1454.4" r="1.9"/><circle cx="1535.1" cy="1434.9" r="1.9"/><circle cx="1545.4" cy="1418.7" r="1.9"/><circle cx="1555.6" cy="1410.2" r="1.9"/><circle cx="1565.9" cy="1406.7" r="1.9"/><circle cx="1576.2" cy="1410.1" r="1.9"/><circle cx="1586.5" cy="1414.9" r="1.9"/><circle cx="1596.8" cy="1421" r="1.9"/><circle cx="1607" cy="1433.2" r="1.9"/><circle cx="1617.3" cy="1444.8" r="1.9"/><circle cx="1627.6" cy="1456.2" r="1.9"/><circle cx="1637.9" cy="1469.2" r="1.9"/><circle cx="1648.2" cy="1480.2" r="1.9"/><circle cx="1658.4" cy="1489.5" r="1.9"/><circle cx="1668.7" cy="1498.2" r="1.9"/><circle cx="1679" cy="1506.7" r="1.9"/><circle cx="1689.3" cy="1513.4" r="1.9"/><circle cx="1699.6" cy="1519.7" r="1.9"/><circle cx="1709.9" cy="1526.9" r="1.9"/><circle cx="1720.1" cy="1534.1" r="1.9"/><circle cx="1730.4" cy="1540.9" r="1.9"/><circle cx="1740.7" cy="1547.8" r="1.9"/><circle cx="1751" cy="1555.3" r="1.9"/><circle cx="1761.3" cy="1562.9" r="1.9"/><circle cx="1771.5" cy="1570.4" r="1.9"/><circle cx="1781.8" cy="1578.3" r="1.9"/><circle cx="1792.1" cy="1586.3" r="1.9"/><circle cx="1802.4" cy="1593.6" r="1.9"/><circle cx="1812.7" cy="1601" r="1.9"/><circle cx="1822.9" cy="1608.9" r="1.9"/><circle cx="1833.2" cy="1616.6" r="1.9"/><circle cx="1843.5" cy="1623.7" r="1.9"/><circle cx="1853.8" cy="1629.8" r="1.9"/><circle cx="1864.1" cy="1635.5" r="1.9"/><circle cx="1874.3" cy="1641.1" r="1.9"/><circle cx="1884.6" cy="1646.2" r="1.9"/><circle cx="1894.9" cy="1649.8" r="1.9"/><circle cx="1905.2" cy="1652.8" r="1.9"/><circle cx="1915.5" cy="1655.5" r="1.9"/><circle cx="1925.8" cy="1658.3" r="1.9"/><circle cx="1936" cy="1660.7" r="1.9"/><circle cx="1946.3" cy="1661.7" r="1.9"/><circle cx="1956.6" cy="1661.9" r="1.9"/><circle cx="1966.9" cy="1662" r="1.9"/><circle cx="1977.2" cy="1662" r="1.9"/><circle cx="1987.4" cy="1662" r="1.9"/><circle cx="1997.7" cy="1662" r="1.9"/><circle cx="2008" cy="1662" r="1.9"/></g>
<path d="M1085.7 1672.5 1185.7 1669.9 1250.7 1667.6 1275.7 1666.3 1298.7 1664.9 1319.7 1663.3 1339.7 1661.4 1358.7 1659.2 1376.7 1656.6 1392.7 1653.6 1406.7 1650.5 1419.7 1646.8 1430.7 1643 1440.7 1638.7 1449.7 1634 1456.7 1629.5 1463.7 1624.2 1470.7 1617.8 1476.7 1611.4 1482.7 1603.9 1488.7 1595.2 1494.7 1585 1499.7 1575.4 1504.7 1564.7 1509.7 1552.7 1514.7 1539.5 1519.7 1525.1 1523.7 1512.8 1528.7 1496.5 1545.7 1438 1549.7 1425.4 1553.7 1414.1 1557.7 1404.8 1559.7 1401 1561.7 1397.8 1563.7 1395.4 1565.7 1393.7 1567.7 1392.7 1568.7 1392.5 1570.7 1392.8 1572.7 1393.8 1574.7 1395.6 1576.7 1398.1 1578.7 1401.3 1580.7 1405.1 1584.7 1414.6 1587.7 1422.9 1591.7 1435.1 1609.7 1496.2 1614.7 1512.3 1618.7 1524.4 1623.7 1538.5 1627.7 1548.9 1632.7 1560.7 1637.7 1571.4 1642.7 1580.9 1647.7 1589.4 1652.7 1596.8 1658.7 1604.5 1664.7 1611.1 1670.7 1616.7 1676.7 1621.4 1683.7 1626 1691.7 1630.4 1699.7 1633.9 1708.7 1637.1 1719.7 1640.2 1730.7 1642.6 1743.7 1644.9 1757.7 1646.8 1773.7 1648.4 1791.7 1649.8 1811.7 1650.9 1835.7 1651.9 1866.7 1652.9 1941.7 1654.6 1977.7 1655 2011 1655.2 L2011 1657.3 1085.7 1673.3Z" fill="url(#g10)" stroke="none"/>
<path d="M1085.7 1673.3 2011 1657.3" fill="none" stroke="#00008b" stroke-width="2.1"/>
<path d="M1085.7 1672.5 1185.7 1669.9 1250.7 1667.6 1275.7 1666.3 1298.7 1664.9 1319.7 1663.3 1339.7 1661.4 1358.7 1659.2 1376.7 1656.6 1392.7 1653.6 1406.7 1650.5 1419.7 1646.8 1430.7 1643 1440.7 1638.7 1449.7 1634 1456.7 1629.5 1463.7 1624.2 1470.7 1617.8 1476.7 1611.4 1482.7 1603.9 1488.7 1595.2 1494.7 1585 1499.7 1575.4 1504.7 1564.7 1509.7 1552.7 1514.7 1539.5 1519.7 1525.1 1523.7 1512.8 1528.7 1496.5 1545.7 1438 1549.7 1425.4 1553.7 1414.1 1557.7 1404.8 1559.7 1401 1561.7 1397.8 1563.7 1395.4 1565.7 1393.7 1567.7 1392.7 1568.7 1392.5 1570.7 1392.8 1572.7 1393.8 1574.7 1395.6 1576.7 1398.1 1578.7 1401.3 1580.7 1405.1 1584.7 1414.6 1587.7 1422.9 1591.7 1435.1 1609.7 1496.2 1614.7 1512.3 1618.7 1524.4 1623.7 1538.5 1627.7 1548.9 1632.7 1560.7 1637.7 1571.4 1642.7 1580.9 1647.7 1589.4 1652.7 1596.8 1658.7 1604.5 1664.7 1611.1 1670.7 1616.7 1676.7 1621.4 1683.7 1626 1691.7 1630.4 1699.7 1633.9 1708.7 1637.1 1719.7 1640.2 1730.7 1642.6 1743.7 1644.9 1757.7 1646.8 1773.7 1648.4 1791.7 1649.8 1811.7 1650.9 1835.7 1651.9 1866.7 1652.9 1941.7 1654.6 1977.7 1655 2011 1655.2" fill="none" stroke="#00008b" stroke-width="2.1" stroke-linejoin="round"/>
<path d="M1085.7 1673.3 1224.7 1670.5 1235.7 1670.5 1252.7 1671 1265.7 1670.9 1426.7 1666.9 1442.7 1666.8 1469.7 1667 1482.7 1666.8 1502.7 1665.8 1524.7 1663.9 1543.7 1661.5 1559.7 1658.8 1568.7 1656.9 1576.7 1654.7 1583.7 1652.3 1589.7 1649.8 1595.7 1646.8 1600.7 1643.7 1605.7 1640 1610.7 1635.6 1615.7 1630.4 1619.7 1625.6 1623.7 1620.1 1627.7 1613.9 1634.7 1601.5 1647.7 1575.7 1650.7 1570.3 1652.7 1567.1 1655.7 1563.1 1657.7 1561.1 1659.7 1559.8 1660.7 1559.4 1662.7 1559 1664.7 1559.4 1665.7 1559.8 1667.7 1561.2 1669.7 1563.1 1672.7 1567.1 1677.7 1575.5 1688.7 1596.8 1694.7 1607.6 1698.7 1613.9 1701.7 1618.3 1704.7 1622.2 1708.7 1626.9 1712.7 1630.9 1716.7 1634.4 1720.7 1637.4 1724.7 1640 1728.7 1642.2 1733.7 1644.5 1738.7 1646.3 1743.7 1647.9 1749.7 1649.4 1756.7 1650.8 1764.7 1652.1 1772.7 1653.1 1791.7 1654.7 1815.7 1655.9 1851.7 1656.7 1913.7 1656.9 1951.7 1657.8 1972.7 1657.8 2011 1657.3 L2011 1657.3 1085.7 1673.3Z" fill="url(#g11)" stroke="none"/>
<path d="M1085.7 1673.3 2011 1657.3" fill="none" stroke="#c46a10" stroke-width="2.1"/>
<path d="M1085.7 1673.3 1224.7 1670.5 1235.7 1670.5 1252.7 1671 1265.7 1670.9 1426.7 1666.9 1442.7 1666.8 1469.7 1667 1482.7 1666.8 1502.7 1665.8 1524.7 1663.9 1543.7 1661.5 1559.7 1658.8 1568.7 1656.9 1576.7 1654.7 1583.7 1652.3 1589.7 1649.8 1595.7 1646.8 1600.7 1643.7 1605.7 1640 1610.7 1635.6 1615.7 1630.4 1619.7 1625.6 1623.7 1620.1 1627.7 1613.9 1634.7 1601.5 1647.7 1575.7 1650.7 1570.3 1652.7 1567.1 1655.7 1563.1 1657.7 1561.1 1659.7 1559.8 1660.7 1559.4 1662.7 1559 1664.7 1559.4 1665.7 1559.8 1667.7 1561.2 1669.7 1563.1 1672.7 1567.1 1677.7 1575.5 1688.7 1596.8 1694.7 1607.6 1698.7 1613.9 1701.7 1618.3 1704.7 1622.2 1708.7 1626.9 1712.7 1630.9 1716.7 1634.4 1720.7 1637.4 1724.7 1640 1728.7 1642.2 1733.7 1644.5 1738.7 1646.3 1743.7 1647.9 1749.7 1649.4 1756.7 1650.8 1764.7 1652.1 1772.7 1653.1 1791.7 1654.7 1815.7 1655.9 1851.7 1656.7 1913.7 1656.9 1951.7 1657.8 1972.7 1657.8 2011 1657.3" fill="none" stroke="#c46a10" stroke-width="2.1" stroke-linejoin="round"/>
<path d="M1085.7 1673.3 1211.7 1671 1259.7 1670.9 1279.7 1670.7 1485.7 1666.6 1520.7 1665.2 1554.7 1663 1583.7 1660.3 1596.7 1658.8 1607.7 1657.2 1617.7 1655.5 1626.7 1653.6 1634.7 1651.6 1642.7 1649.2 1649.7 1646.6 1656.7 1643.5 1663.7 1639.9 1669.7 1636.2 1675.7 1632 1680.7 1628.1 1685.7 1623.7 1691.7 1617.9 1696.7 1612.6 1701.7 1606.9 1719.7 1585.2 1723.7 1580.8 1726.7 1577.8 1730.7 1574.5 1734.7 1572 1736.7 1571.1 1738.7 1570.5 1741.7 1570.1 1743.7 1570.2 1745.7 1570.5 1747.7 1571.2 1749.7 1572 1753.7 1574.5 1757.7 1577.8 1760.7 1580.7 1764.7 1585 1780.7 1603.8 1788.7 1612.6 1796.7 1620.3 1804.7 1627 1812.7 1632.6 1820.7 1637.1 1828.7 1640.8 1837.7 1644.1 1848.7 1647.1 1861.7 1649.6 1875.7 1651.5 1892.7 1653 1913.7 1654.2 1940.7 1655.3 1973.7 1656 2011 1656.6 L2011 1657.3 1085.7 1673.3Z" fill="url(#g12)" stroke="none"/>
<path d="M1085.7 1673.3 2011 1657.3" fill="none" stroke="#a0105a" stroke-width="3.0"/>
<path d="M1085.7 1673.3 1211.7 1671 1259.7 1670.9 1279.7 1670.7 1485.7 1666.6 1520.7 1665.2 1554.7 1663 1583.7 1660.3 1596.7 1658.8 1607.7 1657.2 1617.7 1655.5 1626.7 1653.6 1634.7 1651.6 1642.7 1649.2 1649.7 1646.6 1656.7 1643.5 1663.7 1639.9 1669.7 1636.2 1675.7 1632 1680.7 1628.1 1685.7 1623.7 1691.7 1617.9 1696.7 1612.6 1701.7 1606.9 1719.7 1585.2 1723.7 1580.8 1726.7 1577.8 1730.7 1574.5 1734.7 1572 1736.7 1571.1 1738.7 1570.5 1741.7 1570.1 1743.7 1570.2 1745.7 1570.5 1747.7 1571.2 1749.7 1572 1753.7 1574.5 1757.7 1577.8 1760.7 1580.7 1764.7 1585 1780.7 1603.8 1788.7 1612.6 1796.7 1620.3 1804.7 1627 1812.7 1632.6 1820.7 1637.1 1828.7 1640.8 1837.7 1644.1 1848.7 1647.1 1861.7 1649.6 1875.7 1651.5 1892.7 1653 1913.7 1654.2 1940.7 1655.3 1973.7 1656 2011 1656.6" fill="none" stroke="#a0105a" stroke-width="2.1" stroke-linejoin="round"/>
</g>
<rect x="1085.7" y="976.2" width="925.3" height="749.3" fill="none" stroke="#1a1a1a" stroke-width="2.4"/>
<line x1="1085.7" y1="1351.7" x2="2011" y2="1351.7" stroke="#1a1a1a" stroke-width="2.2"/>
<line x1="1085.7" y1="1725.5" x2="1085.7" y2="1734.5" stroke="#1a1a1a" stroke-width="2.4"/>
<text transform="translate(1085.7 1760.5) scale(1 1.09)" font-size="22.5" fill="#000" text-anchor="middle" font-weight="bold" >394</text>
<line x1="1188.5" y1="1725.5" x2="1188.5" y2="1734.5" stroke="#1a1a1a" stroke-width="2.4"/>
<text transform="translate(1188.5 1760.5) scale(1 1.09)" font-size="22.5" fill="#000" text-anchor="middle" font-weight="bold" >395</text>
<line x1="1291.3" y1="1725.5" x2="1291.3" y2="1734.5" stroke="#1a1a1a" stroke-width="2.4"/>
<text transform="translate(1291.3 1760.5) scale(1 1.09)" font-size="22.5" fill="#000" text-anchor="middle" font-weight="bold" >396</text>
<line x1="1394.1" y1="1725.5" x2="1394.1" y2="1734.5" stroke="#1a1a1a" stroke-width="2.4"/>
<text transform="translate(1394.1 1760.5) scale(1 1.09)" font-size="22.5" fill="#000" text-anchor="middle" font-weight="bold" >397</text>
<line x1="1496.9" y1="1725.5" x2="1496.9" y2="1734.5" stroke="#1a1a1a" stroke-width="2.4"/>
<text transform="translate(1496.9 1760.5) scale(1 1.09)" font-size="22.5" fill="#000" text-anchor="middle" font-weight="bold" >398</text>
<line x1="1599.8" y1="1725.5" x2="1599.8" y2="1734.5" stroke="#1a1a1a" stroke-width="2.4"/>
<text transform="translate(1599.8 1760.5) scale(1 1.09)" font-size="22.5" fill="#000" text-anchor="middle" font-weight="bold" >399</text>
<line x1="1702.6" y1="1725.5" x2="1702.6" y2="1734.5" stroke="#1a1a1a" stroke-width="2.4"/>
<text transform="translate(1702.6 1760.5) scale(1 1.09)" font-size="22.5" fill="#000" text-anchor="middle" font-weight="bold" >400</text>
<line x1="1805.4" y1="1725.5" x2="1805.4" y2="1734.5" stroke="#1a1a1a" stroke-width="2.4"/>
<text transform="translate(1805.4 1760.5) scale(1 1.09)" font-size="22.5" fill="#000" text-anchor="middle" font-weight="bold" >401</text>
<line x1="1908.2" y1="1725.5" x2="1908.2" y2="1734.5" stroke="#1a1a1a" stroke-width="2.4"/>
<text transform="translate(1908.2 1760.5) scale(1 1.09)" font-size="22.5" fill="#000" text-anchor="middle" font-weight="bold" >402</text>
<line x1="2011" y1="1725.5" x2="2011" y2="1734.5" stroke="#1a1a1a" stroke-width="2.4"/>
<text transform="translate(2011 1760.5) scale(1 1.09)" font-size="22.5" fill="#000" text-anchor="middle" font-weight="bold" >403</text>
<text transform="translate(1437.3 1801) scale(1 1.06)" font-size="25.2" fill="#000" text-anchor="start" font-weight="bold" >Binding Energy (eV)</text>
<text transform="translate(1043.3 1431.6) rotate(-90) scale(1 1.06)" font-size="25.2" fill="#000" font-weight="bold">Intensity (a.u.)</text>
<text transform="translate(1010.2 1006.7) scale(1 0.98)" font-size="52.4" fill="#000" text-anchor="start" font-weight="bold" >(c)</text>
<text transform="translate(1113.3 1022.7) scale(1 1.06)" font-size="22.9" fill="#000" text-anchor="start" font-weight="bold" >N 1s</text>
<text transform="translate(1599.3 1014) scale(1 1.0)" font-size="22.9" fill="#15158c" text-anchor="start" font-weight="bold" >398.73 eV</text>
<text transform="translate(1897.7 1025.7) scale(1 1.06)" font-size="22.9" fill="#000" text-anchor="start" font-weight="bold" >TCN10</text>
<text transform="translate(1692.7 1206.7) scale(1 1.0)" font-size="22.9" fill="#c46a12" text-anchor="start" font-weight="bold" >400.23 eV</text>
<text transform="translate(1816 1239.3) scale(1 1.0)" font-size="22.9" fill="#a0145a" text-anchor="start" font-weight="bold" >401.13 eV</text>
<text transform="translate(1605 1391) scale(1 1.0)" font-size="22.9" fill="#fb0a14" text-anchor="start" font-weight="bold" >398.68 eV</text>
<text transform="translate(1896 1396.5) scale(1 1.06)" font-size="22.9" fill="#000" text-anchor="start" font-weight="bold" >g-C<tspan font-size="15" dy="6">3</tspan><tspan dy="-6">N</tspan><tspan font-size="15" dy="6">4</tspan></text>
<text transform="translate(1686 1505.7) scale(1 1.0)" font-size="22.9" fill="#c46a12" text-anchor="start" font-weight="bold" >399.58 eV</text>
<text transform="translate(1763.3 1549) scale(1 1.0)" font-size="22.9" fill="#a0145a" text-anchor="start" font-weight="bold" >400.38 eV</text>
<g clip-path="url(#c12)">
<g fill="none" stroke="#cbcbcb" stroke-width="1"><circle cx="80" cy="2161.5" r="1.9"/><circle cx="84.5" cy="2161.4" r="1.9"/><circle cx="89" cy="2161.3" r="1.9"/><circle cx="93.5" cy="2161.2" r="1.9"/><circle cx="98" cy="2161.2" r="1.9"/><circle cx="102.5" cy="2161.1" r="1.9"/><circle cx="107.1" cy="2161" r="1.9"/><circle cx="111.6" cy="2160.9" r="1.9"/><circle cx="116.1" cy="2160.8" r="1.9"/><circle cx="120.6" cy="2160.7" r="1.9"/><circle cx="125.1" cy="2160.6" r="1.9"/><circle cx="129.6" cy="2160.5" r="1.9"/><circle cx="134.1" cy="2160.4" r="1.9"/><circle cx="138.6" cy="2160.3" r="1.9"/><circle cx="143.1" cy="2160.2" r="1.9"/><circle cx="147.6" cy="2160.1" r="1.9"/><circle cx="152.2" cy="2159.9" r="1.9"/><circle cx="156.7" cy="2159.8" r="1.9"/><circle cx="161.2" cy="2159.7" r="1.9"/><circle cx="165.7" cy="2159.6" r="1.9"/><circle cx="170.2" cy="2159.5" r="1.9"/><circle cx="174.7" cy="2159.4" r="1.9"/><circle cx="179.2" cy="2159.2" r="1.9"/><circle cx="183.7" cy="2159.1" r="1.9"/><circle cx="188.2" cy="2159" r="1.9"/><circle cx="192.7" cy="2158.9" r="1.9"/><circle cx="197.3" cy="2158.7" r="1.9"/><circle cx="201.8" cy="2158.6" r="1.9"/><circle cx="206.3" cy="2158.5" r="1.9"/><circle cx="210.8" cy="2158.3" r="1.9"/><circle cx="215.3" cy="2158.2" r="1.9"/><circle cx="219.8" cy="2158.1" r="1.9"/><circle cx="224.3" cy="2157.9" r="1.9"/><circle cx="228.8" cy="2157.8" r="1.9"/><circle cx="233.3" cy="2157.6" r="1.9"/><circle cx="237.8" cy="2157.4" r="1.9"/><circle cx="242.4" cy="2157.3" r="1.9"/><circle cx="246.9" cy="2157.1" r="1.9"/><circle cx="251.4" cy="2156.9" r="1.9"/><circle cx="255.9" cy="2156.8" r="1.9"/><circle cx="260.4" cy="2156.6" r="1.9"/><circle cx="264.9" cy="2156.4" r="1.9"/><circle cx="269.4" cy="2156.3" r="1.9"/><circle cx="273.9" cy="2156.1" r="1.9"/><circle cx="278.4" cy="2155.9" r="1.9"/><circle cx="282.9" cy="2155.8" r="1.9"/><circle cx="287.5" cy="2155.6" r="1.9"/><circle cx="292" cy="2155.4" r="1.9"/><circle cx="296.5" cy="2155.1" r="1.9"/><circle cx="301" cy="2154.9" r="1.9"/><circle cx="305.5" cy="2154.7" r="1.9"/><circle cx="310" cy="2154.4" r="1.9"/><circle cx="314.5" cy="2154.1" r="1.9"/><circle cx="319" cy="2153.8" r="1.9"/><circle cx="323.5" cy="2153.5" r="1.9"/><circle cx="328" cy="2153.2" r="1.9"/><circle cx="332.5" cy="2152.8" r="1.9"/><circle cx="337.1" cy="2152.3" r="1.9"/><circle cx="341.6" cy="2151.8" r="1.9"/><circle cx="346.1" cy="2151.2" r="1.9"/><circle cx="350.6" cy="2150.5" r="1.9"/><circle cx="355.1" cy="2149.7" r="1.9"/><circle cx="359.6" cy="2148.7" r="1.9"/><circle cx="364.1" cy="2147.7" r="1.9"/><circle cx="368.6" cy="2146.4" r="1.9"/><circle cx="373.1" cy="2144.8" r="1.9"/><circle cx="377.6" cy="2142.1" r="1.9"/><circle cx="382.2" cy="2138.5" r="1.9"/><circle cx="386.7" cy="2134.2" r="1.9"/><circle cx="391.2" cy="2129.4" r="1.9"/><circle cx="395.7" cy="2124.2" r="1.9"/><circle cx="400.2" cy="2117.5" r="1.9"/><circle cx="404.7" cy="2109.4" r="1.9"/><circle cx="409.2" cy="2100.6" r="1.9"/><circle cx="413.7" cy="2090.1" r="1.9"/><circle cx="418.2" cy="2075.9" r="1.9"/><circle cx="422.7" cy="2054.9" r="1.9"/><circle cx="427.3" cy="2028.4" r="1.9"/><circle cx="431.8" cy="1999.2" r="1.9"/><circle cx="436.3" cy="1972.9" r="1.9"/><circle cx="440.8" cy="1926.7" r="1.9"/><circle cx="445.3" cy="1901.6" r="1.9"/><circle cx="449.8" cy="1888.7" r="1.9"/><circle cx="454.3" cy="1884.7" r="1.9"/><circle cx="458.8" cy="1883.2" r="1.9"/><circle cx="463.3" cy="1884.5" r="1.9"/><circle cx="467.8" cy="1893.9" r="1.9"/><circle cx="472.4" cy="1910.7" r="1.9"/><circle cx="476.9" cy="1942.2" r="1.9"/><circle cx="481.4" cy="1973.7" r="1.9"/><circle cx="485.9" cy="2004.3" r="1.9"/><circle cx="490.4" cy="2028.8" r="1.9"/><circle cx="494.9" cy="2049.6" r="1.9"/><circle cx="499.4" cy="2067.6" r="1.9"/><circle cx="503.9" cy="2082.3" r="1.9"/><circle cx="508.4" cy="2092.4" r="1.9"/><circle cx="512.9" cy="2100.6" r="1.9"/><circle cx="517.5" cy="2107.1" r="1.9"/><circle cx="522" cy="2112" r="1.9"/><circle cx="526.5" cy="2116.2" r="1.9"/><circle cx="531" cy="2119.9" r="1.9"/><circle cx="535.5" cy="2123.1" r="1.9"/><circle cx="540" cy="2125.7" r="1.9"/><circle cx="544.5" cy="2127.8" r="1.9"/><circle cx="549" cy="2129.5" r="1.9"/><circle cx="553.5" cy="2131.2" r="1.9"/><circle cx="558" cy="2132.7" r="1.9"/><circle cx="562.5" cy="2134" r="1.9"/><circle cx="567.1" cy="2135.2" r="1.9"/><circle cx="571.6" cy="2136.1" r="1.9"/><circle cx="576.1" cy="2136.7" r="1.9"/><circle cx="580.6" cy="2137" r="1.9"/><circle cx="585.1" cy="2137.2" r="1.9"/><circle cx="589.6" cy="2137.3" r="1.9"/><circle cx="594.1" cy="2137.5" r="1.9"/><circle cx="598.6" cy="2137.6" r="1.9"/><circle cx="603.1" cy="2137.7" r="1.9"/><circle cx="607.6" cy="2137.8" r="1.9"/><circle cx="612.2" cy="2137.9" r="1.9"/><circle cx="616.7" cy="2137.9" r="1.9"/><circle cx="621.2" cy="2138" r="1.9"/><circle cx="625.7" cy="2138" r="1.9"/><circle cx="630.2" cy="2138" r="1.9"/><circle cx="634.7" cy="2137.8" r="1.9"/><circle cx="639.2" cy="2137.3" r="1.9"/><circle cx="643.7" cy="2136.5" r="1.9"/><circle cx="648.2" cy="2135.5" r="1.9"/><circle cx="652.7" cy="2134.3" r="1.9"/><circle cx="657.3" cy="2133" r="1.9"/><circle cx="661.8" cy="2131.6" r="1.9"/><circle cx="666.3" cy="2130.2" r="1.9"/><circle cx="670.8" cy="2128.7" r="1.9"/><circle cx="675.3" cy="2127.3" r="1.9"/><circle cx="679.8" cy="2126.1" r="1.9"/><circle cx="684.3" cy="2124.9" r="1.9"/><circle cx="688.8" cy="2123.7" r="1.9"/><circle cx="693.3" cy="2122.3" r="1.9"/><circle cx="697.8" cy="2120.8" r="1.9"/><circle cx="702.4" cy="2119" r="1.9"/><circle cx="706.9" cy="2116.5" r="1.9"/><circle cx="711.4" cy="2113.7" r="1.9"/><circle cx="715.9" cy="2110.7" r="1.9"/><circle cx="720.4" cy="2107.8" r="1.9"/><circle cx="724.9" cy="2104.9" r="1.9"/><circle cx="729.4" cy="2102.1" r="1.9"/><circle cx="733.9" cy="2099.1" r="1.9"/><circle cx="738.4" cy="2096.1" r="1.9"/><circle cx="742.9" cy="2092.9" r="1.9"/><circle cx="747.5" cy="2089.5" r="1.9"/><circle cx="752" cy="2086" r="1.9"/><circle cx="756.5" cy="2082.6" r="1.9"/><circle cx="761" cy="2079.3" r="1.9"/><circle cx="765.5" cy="2076" r="1.9"/><circle cx="770" cy="2072.8" r="1.9"/><circle cx="774.5" cy="2070.2" r="1.9"/><circle cx="779" cy="2068.2" r="1.9"/><circle cx="783.5" cy="2066.5" r="1.9"/><circle cx="788" cy="2066" r="1.9"/><circle cx="792.5" cy="2066.4" r="1.9"/><circle cx="797.1" cy="2067.3" r="1.9"/><circle cx="801.6" cy="2068.5" r="1.9"/><circle cx="806.1" cy="2071" r="1.9"/><circle cx="810.6" cy="2074.4" r="1.9"/><circle cx="815.1" cy="2078.1" r="1.9"/><circle cx="819.6" cy="2082.1" r="1.9"/><circle cx="824.1" cy="2086.6" r="1.9"/><circle cx="828.6" cy="2090.8" r="1.9"/><circle cx="833.1" cy="2094.5" r="1.9"/><circle cx="837.6" cy="2097.9" r="1.9"/><circle cx="842.2" cy="2101.1" r="1.9"/><circle cx="846.7" cy="2104.1" r="1.9"/><circle cx="851.2" cy="2106.6" r="1.9"/><circle cx="855.7" cy="2108.9" r="1.9"/><circle cx="860.2" cy="2110.8" r="1.9"/><circle cx="864.7" cy="2112.7" r="1.9"/><circle cx="869.2" cy="2114.7" r="1.9"/><circle cx="873.7" cy="2116.7" r="1.9"/><circle cx="878.2" cy="2118.9" r="1.9"/><circle cx="882.7" cy="2121.2" r="1.9"/><circle cx="887.3" cy="2123.3" r="1.9"/><circle cx="891.8" cy="2125.3" r="1.9"/><circle cx="896.3" cy="2126.9" r="1.9"/><circle cx="900.8" cy="2128.2" r="1.9"/><circle cx="905.3" cy="2129.2" r="1.9"/><circle cx="909.8" cy="2130.2" r="1.9"/><circle cx="914.3" cy="2131.1" r="1.9"/><circle cx="918.8" cy="2131.9" r="1.9"/><circle cx="923.3" cy="2132.6" r="1.9"/><circle cx="927.8" cy="2133.3" r="1.9"/><circle cx="932.4" cy="2133.9" r="1.9"/><circle cx="936.9" cy="2134.5" r="1.9"/><circle cx="941.4" cy="2135" r="1.9"/><circle cx="945.9" cy="2135.6" r="1.9"/><circle cx="950.4" cy="2136" r="1.9"/><circle cx="954.9" cy="2136.5" r="1.9"/><circle cx="959.4" cy="2137" r="1.9"/><circle cx="963.9" cy="2137.4" r="1.9"/><circle cx="968.4" cy="2137.8" r="1.9"/><circle cx="972.9" cy="2138.2" r="1.9"/><circle cx="977.5" cy="2138.6" r="1.9"/><circle cx="982" cy="2139" r="1.9"/><circle cx="986.5" cy="2139.3" r="1.9"/><circle cx="991" cy="2139.6" r="1.9"/><circle cx="995.5" cy="2139.8" r="1.9"/><circle cx="1000" cy="2140" r="1.9"/></g>
<path d="M77.3 2158.5 122.3 2156.8 159.3 2155.8 231.3 2152.6 266.3 2151.8 289.3 2150.3 316.3 2148 331.3 2146.3 343.3 2144.5 354.3 2142.4 363.3 2140.2 371.3 2137.6 379.3 2134.4 386.3 2130.8 392.3 2126.9 397.3 2122.8 402.3 2117.7 407.3 2111.3 411.3 2105 415.3 2097.1 418.3 2090.1 422.3 2078.9 425.3 2068.9 428.3 2057.3 431.3 2044 436.3 2017.6 441.3 1986 450.3 1922.3 452.3 1909.4 454.3 1897.9 456.3 1888.7 458.3 1882.2 459.3 1880.2 460.3 1878.9 461.3 1878.6 462.3 1879.1 463.3 1880.4 464.3 1882.6 466.3 1889.3 468.3 1898.7 470.3 1910.2 472.3 1923.2 481.3 1986.3 486.3 2017.3 489.3 2033.4 492.3 2047.5 495.3 2059.9 498.3 2070.5 501.3 2079.7 505.3 2089.8 509.3 2098 511.3 2101.5 514.3 2106 516.3 2108.7 519.3 2112.2 524.3 2116.9 527.3 2119.3 530.3 2121.3 533.3 2123.1 537.3 2125.1 545.3 2128.4 554.3 2131 564.3 2133 575.3 2134.5 588.3 2135.7 605.3 2136.7 625.3 2137.3 649.3 2137.8 692.3 2137.9 768.3 2136.7 869.3 2134.4 1002.7 2130.7 L1002.7 2130.7 77.3 2159.3Z" fill="url(#g13)" stroke="none"/>
<path d="M77.3 2159.3 1002.7 2130.7" fill="none" stroke="#00008b" stroke-width="2.1"/>
<path d="M77.3 2158.5 122.3 2156.8 159.3 2155.8 231.3 2152.6 266.3 2151.8 289.3 2150.3 316.3 2148 331.3 2146.3 343.3 2144.5 354.3 2142.4 363.3 2140.2 371.3 2137.6 379.3 2134.4 386.3 2130.8 392.3 2126.9 397.3 2122.8 402.3 2117.7 407.3 2111.3 411.3 2105 415.3 2097.1 418.3 2090.1 422.3 2078.9 425.3 2068.9 428.3 2057.3 431.3 2044 436.3 2017.6 441.3 1986 450.3 1922.3 452.3 1909.4 454.3 1897.9 456.3 1888.7 458.3 1882.2 459.3 1880.2 460.3 1878.9 461.3 1878.6 462.3 1879.1 463.3 1880.4 464.3 1882.6 466.3 1889.3 468.3 1898.7 470.3 1910.2 472.3 1923.2 481.3 1986.3 486.3 2017.3 489.3 2033.4 492.3 2047.5 495.3 2059.9 498.3 2070.5 501.3 2079.7 505.3 2089.8 509.3 2098 511.3 2101.5 514.3 2106 516.3 2108.7 519.3 2112.2 524.3 2116.9 527.3 2119.3 530.3 2121.3 533.3 2123.1 537.3 2125.1 545.3 2128.4 554.3 2131 564.3 2133 575.3 2134.5 588.3 2135.7 605.3 2136.7 625.3 2137.3 649.3 2137.8 692.3 2137.9 768.3 2136.7 869.3 2134.4 1002.7 2130.7" fill="none" stroke="#00008b" stroke-width="2.1" stroke-linejoin="round"/>
<path d="M77.3 2159.3 265.3 2153.4 279.3 2153.1 301.3 2152.9 319.3 2152.5 417.3 2149.1 487.3 2146.4 542.3 2143.8 592.3 2140.9 631.3 2137.9 647.3 2136.4 660.3 2134.9 671.3 2133.3 680.3 2131.7 688.3 2130.1 696.3 2128.1 703.3 2126 710.3 2123.4 716.3 2120.9 722.3 2117.9 728.3 2114.5 733.3 2111.2 738.3 2107.5 743.3 2103.4 752.3 2095.1 769.3 2077.6 775.3 2072.4 779.3 2069.7 782.3 2068.3 785.3 2067.3 788.3 2067 791.3 2067.3 794.3 2068.2 797.3 2069.6 801.3 2072.1 804.3 2074.5 808.3 2078 821.3 2090.6 828.3 2097 835.3 2102.6 841.3 2106.8 848.3 2111 855.3 2114.4 862.3 2117.2 870.3 2119.8 880.3 2122.3 891.3 2124.3 903.3 2125.8 917.3 2127 934.3 2127.9 954.3 2128.6 977.3 2128.9 1002.7 2129 L1002.7 2130.7 77.3 2159.3Z" fill="url(#g14)" stroke="none"/>
<path d="M77.3 2159.3 1002.7 2130.7" fill="none" stroke="#a0105a" stroke-width="3.0"/>
<path d="M77.3 2159.3 265.3 2153.4 279.3 2153.1 301.3 2152.9 319.3 2152.5 417.3 2149.1 487.3 2146.4 542.3 2143.8 592.3 2140.9 631.3 2137.9 647.3 2136.4 660.3 2134.9 671.3 2133.3 680.3 2131.7 688.3 2130.1 696.3 2128.1 703.3 2126 710.3 2123.4 716.3 2120.9 722.3 2117.9 728.3 2114.5 733.3 2111.2 738.3 2107.5 743.3 2103.4 752.3 2095.1 769.3 2077.6 775.3 2072.4 779.3 2069.7 782.3 2068.3 785.3 2067.3 788.3 2067 791.3 2067.3 794.3 2068.2 797.3 2069.6 801.3 2072.1 804.3 2074.5 808.3 2078 821.3 2090.6 828.3 2097 835.3 2102.6 841.3 2106.8 848.3 2111 855.3 2114.4 862.3 2117.2 870.3 2119.8 880.3 2122.3 891.3 2124.3 903.3 2125.8 917.3 2127 934.3 2127.9 954.3 2128.6 977.3 2128.9 1002.7 2129" fill="none" stroke="#a0105a" stroke-width="2.1" stroke-linejoin="round"/>
</g>
<g clip-path="url(#c14)">
<g fill="none" stroke="#cbcbcb" stroke-width="1"><circle cx="80" cy="2530" r="1.9"/><circle cx="85.2" cy="2530" r="1.9"/><circle cx="90.4" cy="2530" r="1.9"/><circle cx="95.6" cy="2530" r="1.9"/><circle cx="100.8" cy="2529.9" r="1.9"/><circle cx="106" cy="2529.9" r="1.9"/><circle cx="111.2" cy="2529.8" r="1.9"/><circle cx="116.4" cy="2529.8" r="1.9"/><circle cx="121.6" cy="2529.7" r="1.9"/><circle cx="126.8" cy="2529.6" r="1.9"/><circle cx="132" cy="2529.5" r="1.9"/><circle cx="137.2" cy="2529.4" r="1.9"/><circle cx="142.4" cy="2529.4" r="1.9"/><circle cx="147.6" cy="2529.3" r="1.9"/><circle cx="152.8" cy="2529.1" r="1.9"/><circle cx="158" cy="2529" r="1.9"/><circle cx="163.2" cy="2528.9" r="1.9"/><circle cx="168.4" cy="2528.8" r="1.9"/><circle cx="173.6" cy="2528.7" r="1.9"/><circle cx="178.8" cy="2528.5" r="1.9"/><circle cx="184" cy="2528.4" r="1.9"/><circle cx="189.2" cy="2528.3" r="1.9"/><circle cx="194.4" cy="2528.1" r="1.9"/><circle cx="199.5" cy="2528" r="1.9"/><circle cx="204.7" cy="2527.9" r="1.9"/><circle cx="209.9" cy="2527.7" r="1.9"/><circle cx="215.1" cy="2527.6" r="1.9"/><circle cx="220.3" cy="2527.4" r="1.9"/><circle cx="225.5" cy="2527.2" r="1.9"/><circle cx="230.7" cy="2527" r="1.9"/><circle cx="235.9" cy="2526.8" r="1.9"/><circle cx="241.1" cy="2526.6" r="1.9"/><circle cx="246.3" cy="2526.3" r="1.9"/><circle cx="251.5" cy="2526.1" r="1.9"/><circle cx="256.7" cy="2525.8" r="1.9"/><circle cx="261.9" cy="2525.4" r="1.9"/><circle cx="267.1" cy="2525.1" r="1.9"/><circle cx="272.3" cy="2524.7" r="1.9"/><circle cx="277.5" cy="2524.3" r="1.9"/><circle cx="282.7" cy="2523.8" r="1.9"/><circle cx="287.9" cy="2523.3" r="1.9"/><circle cx="293.1" cy="2522.8" r="1.9"/><circle cx="298.3" cy="2522.2" r="1.9"/><circle cx="303.5" cy="2521.5" r="1.9"/><circle cx="308.7" cy="2520.4" r="1.9"/><circle cx="313.9" cy="2518.8" r="1.9"/><circle cx="319.1" cy="2516.9" r="1.9"/><circle cx="324.3" cy="2514.5" r="1.9"/><circle cx="329.5" cy="2511.7" r="1.9"/><circle cx="334.7" cy="2508.6" r="1.9"/><circle cx="339.9" cy="2505.1" r="1.9"/><circle cx="345.1" cy="2500.1" r="1.9"/><circle cx="350.3" cy="2492.6" r="1.9"/><circle cx="355.5" cy="2483.1" r="1.9"/><circle cx="360.7" cy="2470.8" r="1.9"/><circle cx="365.9" cy="2450.3" r="1.9"/><circle cx="371.1" cy="2413.5" r="1.9"/><circle cx="376.3" cy="2383.1" r="1.9"/><circle cx="381.5" cy="2341.6" r="1.9"/><circle cx="386.7" cy="2307.1" r="1.9"/><circle cx="391.9" cy="2275.8" r="1.9"/><circle cx="397.1" cy="2250.3" r="1.9"/><circle cx="402.3" cy="2241.2" r="1.9"/><circle cx="407.5" cy="2243.8" r="1.9"/><circle cx="412.7" cy="2260" r="1.9"/><circle cx="417.9" cy="2278.3" r="1.9"/><circle cx="423.1" cy="2301.2" r="1.9"/><circle cx="428.2" cy="2329.6" r="1.9"/><circle cx="433.4" cy="2362.8" r="1.9"/><circle cx="438.6" cy="2389.6" r="1.9"/><circle cx="443.8" cy="2413.5" r="1.9"/><circle cx="449" cy="2436.5" r="1.9"/><circle cx="454.2" cy="2453.4" r="1.9"/><circle cx="459.4" cy="2465.3" r="1.9"/><circle cx="464.6" cy="2474.8" r="1.9"/><circle cx="469.8" cy="2481.9" r="1.9"/><circle cx="475" cy="2486.2" r="1.9"/><circle cx="480.2" cy="2490.4" r="1.9"/><circle cx="485.4" cy="2494.4" r="1.9"/><circle cx="490.6" cy="2497.3" r="1.9"/><circle cx="495.8" cy="2499.3" r="1.9"/><circle cx="501" cy="2501.1" r="1.9"/><circle cx="506.2" cy="2502.6" r="1.9"/><circle cx="511.4" cy="2503.8" r="1.9"/><circle cx="516.6" cy="2504.7" r="1.9"/><circle cx="521.8" cy="2505.1" r="1.9"/><circle cx="527" cy="2505.5" r="1.9"/><circle cx="532.2" cy="2505.8" r="1.9"/><circle cx="537.4" cy="2506.1" r="1.9"/><circle cx="542.6" cy="2506.4" r="1.9"/><circle cx="547.8" cy="2506.6" r="1.9"/><circle cx="553" cy="2506.7" r="1.9"/><circle cx="558.2" cy="2506.9" r="1.9"/><circle cx="563.4" cy="2507" r="1.9"/><circle cx="568.6" cy="2507" r="1.9"/><circle cx="573.8" cy="2506.9" r="1.9"/><circle cx="579" cy="2506.7" r="1.9"/><circle cx="584.2" cy="2506.3" r="1.9"/><circle cx="589.4" cy="2505.8" r="1.9"/><circle cx="594.6" cy="2505.2" r="1.9"/><circle cx="599.8" cy="2504.4" r="1.9"/><circle cx="605" cy="2503.6" r="1.9"/><circle cx="610.2" cy="2502.7" r="1.9"/><circle cx="615.4" cy="2501.8" r="1.9"/><circle cx="620.6" cy="2500.9" r="1.9"/><circle cx="625.8" cy="2499.8" r="1.9"/><circle cx="631" cy="2498.5" r="1.9"/><circle cx="636.2" cy="2496.9" r="1.9"/><circle cx="641.4" cy="2495.2" r="1.9"/><circle cx="646.6" cy="2493.3" r="1.9"/><circle cx="651.8" cy="2491.3" r="1.9"/><circle cx="656.9" cy="2489.1" r="1.9"/><circle cx="662.1" cy="2486.5" r="1.9"/><circle cx="667.3" cy="2483.6" r="1.9"/><circle cx="672.5" cy="2480.3" r="1.9"/><circle cx="677.7" cy="2476.5" r="1.9"/><circle cx="682.9" cy="2472.1" r="1.9"/><circle cx="688.1" cy="2467.6" r="1.9"/><circle cx="693.3" cy="2463" r="1.9"/><circle cx="698.5" cy="2458" r="1.9"/><circle cx="703.7" cy="2453.1" r="1.9"/><circle cx="708.9" cy="2448.4" r="1.9"/><circle cx="714.1" cy="2443.7" r="1.9"/><circle cx="719.3" cy="2440.3" r="1.9"/><circle cx="724.5" cy="2438.2" r="1.9"/><circle cx="729.7" cy="2436.7" r="1.9"/><circle cx="734.9" cy="2436" r="1.9"/><circle cx="740.1" cy="2436.3" r="1.9"/><circle cx="745.3" cy="2437.1" r="1.9"/><circle cx="750.5" cy="2438.1" r="1.9"/><circle cx="755.7" cy="2440.3" r="1.9"/><circle cx="760.9" cy="2443.5" r="1.9"/><circle cx="766.1" cy="2446.6" r="1.9"/><circle cx="771.3" cy="2449.6" r="1.9"/><circle cx="776.5" cy="2452.8" r="1.9"/><circle cx="781.7" cy="2456.2" r="1.9"/><circle cx="786.9" cy="2460" r="1.9"/><circle cx="792.1" cy="2464" r="1.9"/><circle cx="797.3" cy="2467.5" r="1.9"/><circle cx="802.5" cy="2470.7" r="1.9"/><circle cx="807.7" cy="2473.8" r="1.9"/><circle cx="812.9" cy="2476.8" r="1.9"/><circle cx="818.1" cy="2479.9" r="1.9"/><circle cx="823.3" cy="2483.3" r="1.9"/><circle cx="828.5" cy="2486.6" r="1.9"/><circle cx="833.7" cy="2489.6" r="1.9"/><circle cx="838.9" cy="2491.7" r="1.9"/><circle cx="844.1" cy="2493" r="1.9"/><circle cx="849.3" cy="2494" r="1.9"/><circle cx="854.5" cy="2495" r="1.9"/><circle cx="859.7" cy="2495.8" r="1.9"/><circle cx="864.9" cy="2496.4" r="1.9"/><circle cx="870.1" cy="2497" r="1.9"/><circle cx="875.3" cy="2497.6" r="1.9"/><circle cx="880.5" cy="2498" r="1.9"/><circle cx="885.6" cy="2498.5" r="1.9"/><circle cx="890.8" cy="2498.9" r="1.9"/><circle cx="896" cy="2499.2" r="1.9"/><circle cx="901.2" cy="2499.6" r="1.9"/><circle cx="906.4" cy="2499.9" r="1.9"/><circle cx="911.6" cy="2500.2" r="1.9"/><circle cx="916.8" cy="2500.4" r="1.9"/><circle cx="922" cy="2500.7" r="1.9"/><circle cx="927.2" cy="2501" r="1.9"/><circle cx="932.4" cy="2501.2" r="1.9"/><circle cx="937.6" cy="2501.4" r="1.9"/><circle cx="942.8" cy="2501.7" r="1.9"/><circle cx="948" cy="2501.9" r="1.9"/><circle cx="953.2" cy="2502.1" r="1.9"/><circle cx="958.4" cy="2502.4" r="1.9"/><circle cx="963.6" cy="2502.6" r="1.9"/><circle cx="968.8" cy="2502.8" r="1.9"/><circle cx="974" cy="2503" r="1.9"/><circle cx="979.2" cy="2503.3" r="1.9"/><circle cx="984.4" cy="2503.5" r="1.9"/><circle cx="989.6" cy="2503.6" r="1.9"/><circle cx="994.8" cy="2503.8" r="1.9"/><circle cx="1000" cy="2504" r="1.9"/></g>
<path d="M77.3 2527.1 97.3 2526.4 143.3 2525.4 237.3 2522 254.3 2521.1 270.3 2519.5 283.3 2517.8 295.3 2515.7 305.3 2513.5 314.3 2510.9 322.3 2507.9 329.3 2504.5 335.3 2500.7 340.3 2496.8 345.3 2491.7 349.3 2486.5 353.3 2480.1 356.3 2474.2 360.3 2464.7 363.3 2456 366.3 2445.7 369.3 2433.8 372.3 2420 374.3 2409.6 379.3 2379.7 384.3 2344.4 393.3 2274.9 396.3 2254.7 398.3 2243.7 400.3 2235.4 401.3 2232.4 402.3 2230.3 403.3 2229.1 404.3 2228.7 405.3 2229.3 406.3 2230.8 407.3 2233.2 409.3 2240.4 411.3 2250.4 414.3 2269.4 424.3 2344.3 429.3 2378 432.3 2395.5 435.3 2411 438.3 2424.4 442.3 2439.4 445.3 2448.7 449.3 2458.8 453.3 2466.9 455.3 2470.2 458.3 2474.6 460.3 2477.1 463.3 2480.4 468.3 2485 474.3 2489.1 481.3 2492.9 485.3 2494.6 490.3 2496.4 495.3 2498 501.3 2499.6 513.3 2502.1 526.3 2504 540.3 2505.4 557.3 2506.6 586.3 2507.9 609.3 2508.5 663.3 2508.9 683.3 2508.7 759.3 2506.9 794.3 2506.7 907.3 2503.2 917.3 2503.2 933.3 2503.8 942.3 2503.9 1002.7 2502 L1002.7 2502 926.6 2503.3 842.5 2505 658.2 2509.6 590.1 2511.8 445.9 2517.1 385.8 2519.2 225.5 2523.8 77.3 2527.5Z" fill="url(#g15)" stroke="none"/>
<path d="M77.3 2527.5 225.5 2523.8 385.8 2519.2 445.9 2517.1 590.1 2511.8 658.2 2509.6 842.5 2505 926.6 2503.3 1002.7 2502" fill="none" stroke="#00008b" stroke-width="2.1"/>
<path d="M77.3 2527.1 97.3 2526.4 143.3 2525.4 237.3 2522 254.3 2521.1 270.3 2519.5 283.3 2517.8 295.3 2515.7 305.3 2513.5 314.3 2510.9 322.3 2507.9 329.3 2504.5 335.3 2500.7 340.3 2496.8 345.3 2491.7 349.3 2486.5 353.3 2480.1 356.3 2474.2 360.3 2464.7 363.3 2456 366.3 2445.7 369.3 2433.8 372.3 2420 374.3 2409.6 379.3 2379.7 384.3 2344.4 393.3 2274.9 396.3 2254.7 398.3 2243.7 400.3 2235.4 401.3 2232.4 402.3 2230.3 403.3 2229.1 404.3 2228.7 405.3 2229.3 406.3 2230.8 407.3 2233.2 409.3 2240.4 411.3 2250.4 414.3 2269.4 424.3 2344.3 429.3 2378 432.3 2395.5 435.3 2411 438.3 2424.4 442.3 2439.4 445.3 2448.7 449.3 2458.8 453.3 2466.9 455.3 2470.2 458.3 2474.6 460.3 2477.1 463.3 2480.4 468.3 2485 474.3 2489.1 481.3 2492.9 485.3 2494.6 490.3 2496.4 495.3 2498 501.3 2499.6 513.3 2502.1 526.3 2504 540.3 2505.4 557.3 2506.6 586.3 2507.9 609.3 2508.5 663.3 2508.9 683.3 2508.7 759.3 2506.9 794.3 2506.7 907.3 2503.2 917.3 2503.2 933.3 2503.8 942.3 2503.9 1002.7 2502" fill="none" stroke="#00008b" stroke-width="2.1" stroke-linejoin="round"/>
<path d="M77.3 2527.5 322.3 2520.9 367.3 2519.4 406.3 2517.8 468.3 2514.5 535.3 2510 583.3 2506.2 599.3 2504.6 612.3 2502.9 621.3 2501.4 629.3 2499.9 637.3 2498 644.3 2496 651.3 2493.7 657.3 2491.3 663.3 2488.6 669.3 2485.4 675.3 2481.7 680.3 2478.2 685.3 2474.2 690.3 2469.9 699.3 2461 715.3 2443.6 719.3 2439.7 722.3 2437.2 726.3 2434.4 729.3 2432.9 732.3 2431.9 735.3 2431.6 738.3 2431.9 740.3 2432.4 742.3 2433.2 745.3 2434.8 749.3 2437.7 755.3 2443.1 769.3 2457.6 776.3 2464.4 784.3 2471.2 792.3 2477 800.3 2481.7 808.3 2485.5 817.3 2488.9 826.3 2491.5 838.3 2494.1 851.3 2496.1 866.3 2497.6 883.3 2498.7 905.3 2499.6 934.3 2500.3 970.3 2500.8 1002.7 2500.9 L1002.7 2502 658.2 2509.6 530 2512 473.9 2513.3 441.9 2514.4 429.8 2515.1 417.8 2515.9 409.8 2517 393.8 2520.4 377.8 2523.3 369.7 2524.5 361.7 2525.1 341.7 2525.7 313.7 2526.3 169.4 2528.3 77.3 2529.3Z" fill="url(#g16)" stroke="none"/>
<path d="M77.3 2529.3 169.4 2528.3 313.7 2526.3 341.7 2525.7 361.7 2525.1 369.7 2524.5 377.8 2523.3 393.8 2520.4 409.8 2517 417.8 2515.9 429.8 2515.1 441.9 2514.4 473.9 2513.3 530 2512 658.2 2509.6 1002.7 2502" fill="none" stroke="#a0105a" stroke-width="2.4"/>
<path d="M77.3 2527.5 322.3 2520.9 367.3 2519.4 406.3 2517.8 468.3 2514.5 535.3 2510 583.3 2506.2 599.3 2504.6 612.3 2502.9 621.3 2501.4 629.3 2499.9 637.3 2498 644.3 2496 651.3 2493.7 657.3 2491.3 663.3 2488.6 669.3 2485.4 675.3 2481.7 680.3 2478.2 685.3 2474.2 690.3 2469.9 699.3 2461 715.3 2443.6 719.3 2439.7 722.3 2437.2 726.3 2434.4 729.3 2432.9 732.3 2431.9 735.3 2431.6 738.3 2431.9 740.3 2432.4 742.3 2433.2 745.3 2434.8 749.3 2437.7 755.3 2443.1 769.3 2457.6 776.3 2464.4 784.3 2471.2 792.3 2477 800.3 2481.7 808.3 2485.5 817.3 2488.9 826.3 2491.5 838.3 2494.1 851.3 2496.1 866.3 2497.6 883.3 2498.7 905.3 2499.6 934.3 2500.3 970.3 2500.8 1002.7 2500.9" fill="none" stroke="#a0105a" stroke-width="2.1" stroke-linejoin="round"/>
</g>
<rect x="77.3" y="1823.3" width="925.4" height="748" fill="none" stroke="#1a1a1a" stroke-width="2.4"/>
<line x1="77.3" y1="2197.2" x2="1002.7" y2="2197.2" stroke="#1a1a1a" stroke-width="2.2"/>
<line x1="77.3" y1="2571.3" x2="77.3" y2="2580.3" stroke="#1a1a1a" stroke-width="2.4"/>
<text transform="translate(77.3 2606.3) scale(1 1.09)" font-size="22.5" fill="#000" text-anchor="middle" font-weight="bold" >452</text>
<line x1="193" y1="2571.3" x2="193" y2="2580.3" stroke="#1a1a1a" stroke-width="2.4"/>
<text transform="translate(193 2606.3) scale(1 1.09)" font-size="22.5" fill="#000" text-anchor="middle" font-weight="bold" >454</text>
<line x1="308.7" y1="2571.3" x2="308.7" y2="2580.3" stroke="#1a1a1a" stroke-width="2.4"/>
<text transform="translate(308.7 2606.3) scale(1 1.09)" font-size="22.5" fill="#000" text-anchor="middle" font-weight="bold" >456</text>
<line x1="424.3" y1="2571.3" x2="424.3" y2="2580.3" stroke="#1a1a1a" stroke-width="2.4"/>
<text transform="translate(424.3 2606.3) scale(1 1.09)" font-size="22.5" fill="#000" text-anchor="middle" font-weight="bold" >458</text>
<line x1="540" y1="2571.3" x2="540" y2="2580.3" stroke="#1a1a1a" stroke-width="2.4"/>
<text transform="translate(540 2606.3) scale(1 1.09)" font-size="22.5" fill="#000" text-anchor="middle" font-weight="bold" >460</text>
<line x1="655.7" y1="2571.3" x2="655.7" y2="2580.3" stroke="#1a1a1a" stroke-width="2.4"/>
<text transform="translate(655.7 2606.3) scale(1 1.09)" font-size="22.5" fill="#000" text-anchor="middle" font-weight="bold" >462</text>
<line x1="771.4" y1="2571.3" x2="771.4" y2="2580.3" stroke="#1a1a1a" stroke-width="2.4"/>
<text transform="translate(771.4 2606.3) scale(1 1.09)" font-size="22.5" fill="#000" text-anchor="middle" font-weight="bold" >464</text>
<line x1="887" y1="2571.3" x2="887" y2="2580.3" stroke="#1a1a1a" stroke-width="2.4"/>
<text transform="translate(887 2606.3) scale(1 1.09)" font-size="22.5" fill="#000" text-anchor="middle" font-weight="bold" >466</text>
<line x1="1002.7" y1="2571.3" x2="1002.7" y2="2580.3" stroke="#1a1a1a" stroke-width="2.4"/>
<text transform="translate(1002.7 2606.3) scale(1 1.09)" font-size="22.5" fill="#000" text-anchor="middle" font-weight="bold" >468</text>
<text transform="translate(429.3 2647.3) scale(1 1.06)" font-size="25.2" fill="#000" text-anchor="start" font-weight="bold" >Binding Energy (eV)</text>
<text transform="translate(57 2272.3) rotate(-90) scale(1 1.06)" font-size="25.2" fill="#000" font-weight="bold">Intensity (a.u.)</text>
<text transform="translate(2.5 1851.7) scale(1 0.98)" font-size="52.4" fill="#000" text-anchor="start" font-weight="bold" >(d)</text>
<text transform="translate(110 1858.3) scale(1 1.06)" font-size="22.9" fill="#000" text-anchor="start" font-weight="bold" >Ti 2p</text>
<text transform="translate(389.3 1876.7) scale(1 1.0)" font-size="22.9" fill="#15158c" text-anchor="start" font-weight="bold" >458.63 eV</text>
<text transform="translate(815 1865) scale(1 1.06)" font-size="22.9" fill="#000" text-anchor="start" font-weight="bold" >TCN10</text>
<text transform="translate(730 2060) scale(1 1.0)" font-size="22.9" fill="#a0145a" text-anchor="start" font-weight="bold" >464.28 eV</text>
<text transform="translate(297.7 2240.3) scale(1 1.0)" font-size="22.9" fill="#15158c" text-anchor="start" font-weight="bold" >457.68 eV</text>
<text transform="translate(841.7 2240.5) scale(1 1.06)" font-size="22.9" fill="#000" text-anchor="start" font-weight="bold" >m-TiO<tspan font-size="15" dy="6">2</tspan></text>
<text transform="translate(693.3 2420.3) scale(1 1.0)" font-size="22.9" fill="#a0145a" text-anchor="start" font-weight="bold" >463.38 eV</text>
<g clip-path="url(#c16)">
<g fill="none" stroke="#cbcbcb" stroke-width="1"><circle cx="1083" cy="2163" r="1.9"/><circle cx="1088" cy="2162.7" r="1.9"/><circle cx="1093" cy="2162.5" r="1.9"/><circle cx="1098" cy="2162.2" r="1.9"/><circle cx="1103" cy="2162" r="1.9"/><circle cx="1108.1" cy="2161.7" r="1.9"/><circle cx="1113.1" cy="2161.5" r="1.9"/><circle cx="1118.1" cy="2161.2" r="1.9"/><circle cx="1123.1" cy="2161" r="1.9"/><circle cx="1128.1" cy="2160.8" r="1.9"/><circle cx="1133.1" cy="2160.6" r="1.9"/><circle cx="1138.1" cy="2160.4" r="1.9"/><circle cx="1143.1" cy="2160.2" r="1.9"/><circle cx="1148.1" cy="2160.1" r="1.9"/><circle cx="1153.2" cy="2159.9" r="1.9"/><circle cx="1158.2" cy="2159.8" r="1.9"/><circle cx="1163.2" cy="2159.6" r="1.9"/><circle cx="1168.2" cy="2159.5" r="1.9"/><circle cx="1173.2" cy="2159.4" r="1.9"/><circle cx="1178.2" cy="2159.3" r="1.9"/><circle cx="1183.2" cy="2159.2" r="1.9"/><circle cx="1188.2" cy="2159.1" r="1.9"/><circle cx="1193.2" cy="2159.1" r="1.9"/><circle cx="1198.3" cy="2159" r="1.9"/><circle cx="1203.3" cy="2158.8" r="1.9"/><circle cx="1208.3" cy="2158.7" r="1.9"/><circle cx="1213.3" cy="2158.6" r="1.9"/><circle cx="1218.3" cy="2158.4" r="1.9"/><circle cx="1223.3" cy="2158.3" r="1.9"/><circle cx="1228.3" cy="2158.1" r="1.9"/><circle cx="1233.3" cy="2157.8" r="1.9"/><circle cx="1238.3" cy="2157.5" r="1.9"/><circle cx="1243.3" cy="2157.1" r="1.9"/><circle cx="1248.4" cy="2156.5" r="1.9"/><circle cx="1253.4" cy="2156" r="1.9"/><circle cx="1258.4" cy="2155.3" r="1.9"/><circle cx="1263.4" cy="2154.6" r="1.9"/><circle cx="1268.4" cy="2153.9" r="1.9"/><circle cx="1273.4" cy="2153.1" r="1.9"/><circle cx="1278.4" cy="2152.3" r="1.9"/><circle cx="1283.4" cy="2151.4" r="1.9"/><circle cx="1288.4" cy="2150.5" r="1.9"/><circle cx="1293.5" cy="2149.5" r="1.9"/><circle cx="1298.5" cy="2148.3" r="1.9"/><circle cx="1303.5" cy="2147.1" r="1.9"/><circle cx="1308.5" cy="2145.7" r="1.9"/><circle cx="1313.5" cy="2144.2" r="1.9"/><circle cx="1318.5" cy="2142.5" r="1.9"/><circle cx="1323.5" cy="2140.6" r="1.9"/><circle cx="1328.5" cy="2138.2" r="1.9"/><circle cx="1333.5" cy="2135.5" r="1.9"/><circle cx="1338.6" cy="2132.4" r="1.9"/><circle cx="1343.6" cy="2129.2" r="1.9"/><circle cx="1348.6" cy="2125.9" r="1.9"/><circle cx="1353.6" cy="2122.7" r="1.9"/><circle cx="1358.6" cy="2119.5" r="1.9"/><circle cx="1363.6" cy="2116.1" r="1.9"/><circle cx="1368.6" cy="2112.2" r="1.9"/><circle cx="1373.6" cy="2107.5" r="1.9"/><circle cx="1378.6" cy="2101.4" r="1.9"/><circle cx="1383.7" cy="2093.1" r="1.9"/><circle cx="1388.7" cy="2083" r="1.9"/><circle cx="1393.7" cy="2069.9" r="1.9"/><circle cx="1398.7" cy="2053.3" r="1.9"/><circle cx="1403.7" cy="2038.2" r="1.9"/><circle cx="1408.7" cy="2023.9" r="1.9"/><circle cx="1413.7" cy="2007.6" r="1.9"/><circle cx="1418.7" cy="1991.8" r="1.9"/><circle cx="1423.7" cy="1976" r="1.9"/><circle cx="1428.8" cy="1959.1" r="1.9"/><circle cx="1433.8" cy="1941.6" r="1.9"/><circle cx="1438.8" cy="1924.4" r="1.9"/><circle cx="1443.8" cy="1909.5" r="1.9"/><circle cx="1448.8" cy="1896.6" r="1.9"/><circle cx="1453.8" cy="1889.6" r="1.9"/><circle cx="1458.8" cy="1886.9" r="1.9"/><circle cx="1463.8" cy="1885.4" r="1.9"/><circle cx="1468.8" cy="1885.1" r="1.9"/><circle cx="1473.9" cy="1887.3" r="1.9"/><circle cx="1478.9" cy="1891.1" r="1.9"/><circle cx="1483.9" cy="1895.3" r="1.9"/><circle cx="1488.9" cy="1900.8" r="1.9"/><circle cx="1493.9" cy="1908.3" r="1.9"/><circle cx="1498.9" cy="1919.8" r="1.9"/><circle cx="1503.9" cy="1934" r="1.9"/><circle cx="1508.9" cy="1947.2" r="1.9"/><circle cx="1513.9" cy="1960.8" r="1.9"/><circle cx="1519" cy="1979.9" r="1.9"/><circle cx="1524" cy="1990.9" r="1.9"/><circle cx="1529" cy="2004.4" r="1.9"/><circle cx="1534" cy="2015.7" r="1.9"/><circle cx="1539" cy="2027.5" r="1.9"/><circle cx="1544" cy="2040.5" r="1.9"/><circle cx="1549" cy="2052.1" r="1.9"/><circle cx="1554" cy="2061.1" r="1.9"/><circle cx="1559" cy="2068.5" r="1.9"/><circle cx="1564" cy="2075.7" r="1.9"/><circle cx="1569.1" cy="2081.1" r="1.9"/><circle cx="1574.1" cy="2085.6" r="1.9"/><circle cx="1579.1" cy="2089.4" r="1.9"/><circle cx="1584.1" cy="2092.7" r="1.9"/><circle cx="1589.1" cy="2095.9" r="1.9"/><circle cx="1594.1" cy="2098.5" r="1.9"/><circle cx="1599.1" cy="2100.4" r="1.9"/><circle cx="1604.1" cy="2102" r="1.9"/><circle cx="1609.1" cy="2103.4" r="1.9"/><circle cx="1614.2" cy="2104.5" r="1.9"/><circle cx="1619.2" cy="2105" r="1.9"/><circle cx="1624.2" cy="2104.8" r="1.9"/><circle cx="1629.2" cy="2104.3" r="1.9"/><circle cx="1634.2" cy="2103.7" r="1.9"/><circle cx="1639.2" cy="2103.1" r="1.9"/><circle cx="1644.2" cy="2102.6" r="1.9"/><circle cx="1649.2" cy="2102.1" r="1.9"/><circle cx="1654.2" cy="2101.6" r="1.9"/><circle cx="1659.3" cy="2101.1" r="1.9"/><circle cx="1664.3" cy="2100.6" r="1.9"/><circle cx="1669.3" cy="2100.1" r="1.9"/><circle cx="1674.3" cy="2099.5" r="1.9"/><circle cx="1679.3" cy="2099" r="1.9"/><circle cx="1684.3" cy="2098.4" r="1.9"/><circle cx="1689.3" cy="2097.8" r="1.9"/><circle cx="1694.3" cy="2097.4" r="1.9"/><circle cx="1699.3" cy="2097" r="1.9"/><circle cx="1704.4" cy="2096.8" r="1.9"/><circle cx="1709.4" cy="2096.5" r="1.9"/><circle cx="1714.4" cy="2096.3" r="1.9"/><circle cx="1719.4" cy="2096.2" r="1.9"/><circle cx="1724.4" cy="2096" r="1.9"/><circle cx="1729.4" cy="2096" r="1.9"/><circle cx="1734.4" cy="2096.3" r="1.9"/><circle cx="1739.4" cy="2097.2" r="1.9"/><circle cx="1744.4" cy="2098.6" r="1.9"/><circle cx="1749.5" cy="2100.2" r="1.9"/><circle cx="1754.5" cy="2101.7" r="1.9"/><circle cx="1759.5" cy="2102.9" r="1.9"/><circle cx="1764.5" cy="2103.8" r="1.9"/><circle cx="1769.5" cy="2104.6" r="1.9"/><circle cx="1774.5" cy="2105.3" r="1.9"/><circle cx="1779.5" cy="2106" r="1.9"/><circle cx="1784.5" cy="2106.9" r="1.9"/><circle cx="1789.5" cy="2107.9" r="1.9"/><circle cx="1794.6" cy="2109.3" r="1.9"/><circle cx="1799.6" cy="2111.3" r="1.9"/><circle cx="1804.6" cy="2113.5" r="1.9"/><circle cx="1809.6" cy="2115.8" r="1.9"/><circle cx="1814.6" cy="2118" r="1.9"/><circle cx="1819.6" cy="2119.9" r="1.9"/><circle cx="1824.6" cy="2121.4" r="1.9"/><circle cx="1829.6" cy="2122.9" r="1.9"/><circle cx="1834.6" cy="2124.2" r="1.9"/><circle cx="1839.7" cy="2125.5" r="1.9"/><circle cx="1844.7" cy="2126.8" r="1.9"/><circle cx="1849.7" cy="2127.9" r="1.9"/><circle cx="1854.7" cy="2129" r="1.9"/><circle cx="1859.7" cy="2130.1" r="1.9"/><circle cx="1864.7" cy="2131.2" r="1.9"/><circle cx="1869.7" cy="2132.1" r="1.9"/><circle cx="1874.7" cy="2133.1" r="1.9"/><circle cx="1879.7" cy="2134" r="1.9"/><circle cx="1884.7" cy="2134.8" r="1.9"/><circle cx="1889.8" cy="2135.7" r="1.9"/><circle cx="1894.8" cy="2136.5" r="1.9"/><circle cx="1899.8" cy="2137.3" r="1.9"/><circle cx="1904.8" cy="2138.1" r="1.9"/><circle cx="1909.8" cy="2138.8" r="1.9"/><circle cx="1914.8" cy="2139.4" r="1.9"/><circle cx="1919.8" cy="2140" r="1.9"/><circle cx="1924.8" cy="2140.4" r="1.9"/><circle cx="1929.8" cy="2140.8" r="1.9"/><circle cx="1934.9" cy="2141.2" r="1.9"/><circle cx="1939.9" cy="2141.5" r="1.9"/><circle cx="1944.9" cy="2141.8" r="1.9"/><circle cx="1949.9" cy="2142.2" r="1.9"/><circle cx="1954.9" cy="2142.6" r="1.9"/><circle cx="1959.9" cy="2143" r="1.9"/><circle cx="1964.9" cy="2143.5" r="1.9"/><circle cx="1969.9" cy="2144" r="1.9"/><circle cx="1974.9" cy="2144.6" r="1.9"/><circle cx="1980" cy="2145.2" r="1.9"/><circle cx="1985" cy="2145.9" r="1.9"/><circle cx="1990" cy="2146.5" r="1.9"/><circle cx="1995" cy="2147.3" r="1.9"/><circle cx="2000" cy="2148" r="1.9"/></g>
<path d="M1079.6 2152.4 1109.6 2151.4 1136.6 2150.2 1162.6 2148.9 1187.6 2147.2 1212.6 2145.3 1236.6 2143.1 1257.6 2140.8 1276.6 2138.3 1291.6 2136 1305.6 2133.4 1317.6 2130.6 1327.6 2127.8 1336.6 2124.7 1344.6 2121.3 1352.6 2117.1 1359.6 2112.6 1365.6 2107.9 1371.6 2102.4 1376.6 2097 1381.6 2090.7 1386.6 2083.6 1391.6 2075.4 1396.6 2066.1 1400.6 2057.9 1405.6 2046.5 1409.6 2036.5 1414.6 2022.9 1419.6 2008.1 1428.6 1979 1445.6 1920.2 1449.6 1907.5 1453.6 1896 1456.6 1888.5 1458.6 1884.1 1460.6 1880.2 1462.6 1877 1464.6 1874.5 1466.6 1872.6 1468.6 1871.5 1470.6 1871.1 1472.6 1871.4 1474.6 1872.5 1476.6 1874.3 1478.6 1876.8 1480.6 1879.9 1482.6 1883.7 1484.6 1888.1 1487.6 1895.5 1491.6 1907 1495.6 1919.6 1513.6 1981.7 1518.6 1998.1 1523.6 2013.6 1528.6 2028 1533.6 2041.1 1538.6 2053.1 1543.6 2063.8 1548.6 2073.3 1554.6 2083.3 1560.6 2091.9 1566.6 2099.1 1572.6 2105.3 1579.6 2111.2 1586.6 2116 1593.6 2120 1602.6 2124 1607.6 2125.9 1613.6 2127.9 1625.6 2131.1 1638.6 2133.9 1653.6 2136.3 1671.6 2138.6 1690.6 2140.5 1712.6 2142.2 1736.6 2143.6 1762.6 2144.7 1791.6 2145.6 1824.6 2146.3 1897.6 2147.1 2005 2147.3 L2005 2146.7 1079.6 2155Z" fill="url(#g17)" stroke="none"/>
<path d="M1079.6 2155 2005 2146.7" fill="none" stroke="#00008b" stroke-width="2.1"/>
<path d="M1079.6 2152.4 1109.6 2151.4 1136.6 2150.2 1162.6 2148.9 1187.6 2147.2 1212.6 2145.3 1236.6 2143.1 1257.6 2140.8 1276.6 2138.3 1291.6 2136 1305.6 2133.4 1317.6 2130.6 1327.6 2127.8 1336.6 2124.7 1344.6 2121.3 1352.6 2117.1 1359.6 2112.6 1365.6 2107.9 1371.6 2102.4 1376.6 2097 1381.6 2090.7 1386.6 2083.6 1391.6 2075.4 1396.6 2066.1 1400.6 2057.9 1405.6 2046.5 1409.6 2036.5 1414.6 2022.9 1419.6 2008.1 1428.6 1979 1445.6 1920.2 1449.6 1907.5 1453.6 1896 1456.6 1888.5 1458.6 1884.1 1460.6 1880.2 1462.6 1877 1464.6 1874.5 1466.6 1872.6 1468.6 1871.5 1470.6 1871.1 1472.6 1871.4 1474.6 1872.5 1476.6 1874.3 1478.6 1876.8 1480.6 1879.9 1482.6 1883.7 1484.6 1888.1 1487.6 1895.5 1491.6 1907 1495.6 1919.6 1513.6 1981.7 1518.6 1998.1 1523.6 2013.6 1528.6 2028 1533.6 2041.1 1538.6 2053.1 1543.6 2063.8 1548.6 2073.3 1554.6 2083.3 1560.6 2091.9 1566.6 2099.1 1572.6 2105.3 1579.6 2111.2 1586.6 2116 1593.6 2120 1602.6 2124 1607.6 2125.9 1613.6 2127.9 1625.6 2131.1 1638.6 2133.9 1653.6 2136.3 1671.6 2138.6 1690.6 2140.5 1712.6 2142.2 1736.6 2143.6 1762.6 2144.7 1791.6 2145.6 1824.6 2146.3 1897.6 2147.1 2005 2147.3" fill="none" stroke="#00008b" stroke-width="2.1" stroke-linejoin="round"/>
<path d="M1079.6 2155 1302.6 2152.9 1411.6 2151.5 1450.6 2150.7 1480.6 2149.9 1504.6 2148.8 1524.6 2147.5 1541.6 2145.9 1557.6 2143.9 1572.6 2141.5 1586.6 2138.6 1601.6 2134.9 1616.6 2130.6 1631.6 2125.8 1664.6 2114.5 1673.6 2111.7 1681.6 2109.4 1690.6 2107.3 1699.6 2105.7 1708.6 2104.7 1716.6 2104.3 1724.6 2104.6 1732.6 2105.3 1740.6 2106.6 1749.6 2108.5 1757.6 2110.5 1765.6 2112.8 1804.6 2125.3 1824.6 2131.1 1835.6 2133.8 1845.6 2136 1856.6 2138.1 1867.6 2139.9 1879.6 2141.4 1892.6 2142.7 1905.6 2143.7 1920.6 2144.4 1936.6 2145 1955.6 2145.4 2005 2145.7 L2005 2146.7 1079.6 2155Z" fill="url(#g18)" stroke="none"/>
<path d="M1079.6 2155 2005 2146.7" fill="none" stroke="#a0105a" stroke-width="3.0"/>
<path d="M1079.6 2155 1302.6 2152.9 1411.6 2151.5 1450.6 2150.7 1480.6 2149.9 1504.6 2148.8 1524.6 2147.5 1541.6 2145.9 1557.6 2143.9 1572.6 2141.5 1586.6 2138.6 1601.6 2134.9 1616.6 2130.6 1631.6 2125.8 1664.6 2114.5 1673.6 2111.7 1681.6 2109.4 1690.6 2107.3 1699.6 2105.7 1708.6 2104.7 1716.6 2104.3 1724.6 2104.6 1732.6 2105.3 1740.6 2106.6 1749.6 2108.5 1757.6 2110.5 1765.6 2112.8 1804.6 2125.3 1824.6 2131.1 1835.6 2133.8 1845.6 2136 1856.6 2138.1 1867.6 2139.9 1879.6 2141.4 1892.6 2142.7 1905.6 2143.7 1920.6 2144.4 1936.6 2145 1955.6 2145.4 2005 2145.7" fill="none" stroke="#a0105a" stroke-width="2.1" stroke-linejoin="round"/>
</g>
<g clip-path="url(#c18)">
<g fill="none" stroke="#cbcbcb" stroke-width="1"><circle cx="1087" cy="2531" r="1.9"/><circle cx="1150" cy="2530" r="1.9"/><circle cx="1200" cy="2527" r="1.9"/><circle cx="1231" cy="2516" r="1.9"/><circle cx="1241" cy="2513" r="1.9"/><circle cx="1252" cy="2507" r="1.9"/><circle cx="1262" cy="2501" r="1.9"/><circle cx="1272" cy="2489" r="1.9"/><circle cx="1283" cy="2471" r="1.9"/><circle cx="1293" cy="2455" r="1.9"/><circle cx="1303" cy="2431" r="1.9"/><circle cx="1313" cy="2404" r="1.9"/><circle cx="1324" cy="2370" r="1.9"/><circle cx="1334" cy="2336" r="1.9"/><circle cx="1344" cy="2307" r="1.9"/><circle cx="1355" cy="2280" r="1.9"/><circle cx="1365" cy="2265" r="1.9"/><circle cx="1375" cy="2259" r="1.9"/><circle cx="1386" cy="2261" r="1.9"/><circle cx="1396" cy="2273" r="1.9"/><circle cx="1406" cy="2300" r="1.9"/><circle cx="1416" cy="2322" r="1.9"/><circle cx="1427" cy="2347" r="1.9"/><circle cx="1437" cy="2373" r="1.9"/><circle cx="1447" cy="2401" r="1.9"/><circle cx="1458" cy="2422" r="1.9"/><circle cx="1468" cy="2439" r="1.9"/><circle cx="1478" cy="2452" r="1.9"/><circle cx="1488" cy="2465" r="1.9"/><circle cx="1499" cy="2474" r="1.9"/><circle cx="1509" cy="2477" r="1.9"/><circle cx="1519" cy="2483" r="1.9"/><circle cx="1530" cy="2485" r="1.9"/><circle cx="1540" cy="2487" r="1.9"/><circle cx="1550" cy="2488" r="1.9"/><circle cx="1560" cy="2491" r="1.9"/><circle cx="1571" cy="2493" r="1.9"/><circle cx="1581" cy="2495" r="1.9"/><circle cx="1591" cy="2497" r="1.9"/><circle cx="1601" cy="2498" r="1.9"/><circle cx="1612" cy="2500" r="1.9"/><circle cx="1622" cy="2501" r="1.9"/><circle cx="1632" cy="2502" r="1.9"/><circle cx="1643" cy="2504" r="1.9"/><circle cx="1653" cy="2504" r="1.9"/><circle cx="1663" cy="2505" r="1.9"/><circle cx="1674" cy="2505" r="1.9"/><circle cx="1684" cy="2506" r="1.9"/><circle cx="1694" cy="2507" r="1.9"/><circle cx="1705" cy="2508" r="1.9"/><circle cx="1715" cy="2508" r="1.9"/><circle cx="1725" cy="2510" r="1.9"/><circle cx="1736" cy="2511" r="1.9"/><circle cx="1746" cy="2512" r="1.9"/><circle cx="1760" cy="2514" r="1.9"/><circle cx="1776" cy="2515" r="1.9"/><circle cx="1800" cy="2518" r="1.9"/><circle cx="1900" cy="2520" r="1.9"/><circle cx="2000" cy="2520" r="1.9"/></g>
<path d="M1079.6 2522.8 1125.6 2519.9 1143.6 2518.5 1159.6 2516.9 1174.6 2515.2 1187.6 2513.3 1200.6 2511 1211.6 2508.7 1222.6 2505.9 1232.6 2502.8 1241.6 2499.4 1249.6 2495.8 1257.6 2491.6 1264.6 2487.1 1271.6 2481.9 1277.6 2476.7 1282.6 2471.7 1287.6 2466.1 1292.6 2459.8 1297.6 2452.6 1302.6 2444.7 1306.6 2437.6 1311.6 2427.9 1315.6 2419.3 1320.6 2407.6 1324.6 2397.3 1328.6 2386.4 1333.6 2371.7 1341.6 2346 1358.6 2287.8 1362.6 2275.2 1366.6 2263.9 1369.6 2256.5 1371.6 2252.2 1373.6 2248.5 1375.6 2245.4 1377.6 2243 1379.6 2241.3 1381.6 2240.4 1383.6 2240.1 1385.6 2240.7 1387.6 2242 1389.6 2243.9 1391.6 2246.6 1393.6 2250 1395.6 2253.9 1399.6 2263.3 1402.6 2271.6 1406.6 2283.7 1425.6 2347.4 1430.6 2363.2 1435.6 2378.1 1441.6 2394.4 1446.6 2406.7 1451.6 2418 1457.6 2429.9 1463.6 2440.5 1470.6 2451.1 1477.6 2460 1484.6 2467.6 1488.6 2471.4 1492.6 2474.9 1500.6 2480.8 1504.6 2483.4 1509.6 2486.3 1518.6 2490.8 1528.6 2494.8 1540.6 2498.7 1553.6 2502 1567.6 2504.7 1583.6 2507.2 1600.6 2509.2 1619.6 2510.8 1640.6 2512.1 1666.6 2513.3 1698.6 2514.4 1737.6 2515.3 1779.6 2516.1 1862.6 2516.9 1959.6 2517.4 2005 2517.4 L2005 2518 1079.6 2523.7Z" fill="url(#g19)" stroke="none"/>
<path d="M1079.6 2523.7 2005 2518" fill="none" stroke="#00008b" stroke-width="2.1"/>
<path d="M1079.6 2522.8 1125.6 2519.9 1143.6 2518.5 1159.6 2516.9 1174.6 2515.2 1187.6 2513.3 1200.6 2511 1211.6 2508.7 1222.6 2505.9 1232.6 2502.8 1241.6 2499.4 1249.6 2495.8 1257.6 2491.6 1264.6 2487.1 1271.6 2481.9 1277.6 2476.7 1282.6 2471.7 1287.6 2466.1 1292.6 2459.8 1297.6 2452.6 1302.6 2444.7 1306.6 2437.6 1311.6 2427.9 1315.6 2419.3 1320.6 2407.6 1324.6 2397.3 1328.6 2386.4 1333.6 2371.7 1341.6 2346 1358.6 2287.8 1362.6 2275.2 1366.6 2263.9 1369.6 2256.5 1371.6 2252.2 1373.6 2248.5 1375.6 2245.4 1377.6 2243 1379.6 2241.3 1381.6 2240.4 1383.6 2240.1 1385.6 2240.7 1387.6 2242 1389.6 2243.9 1391.6 2246.6 1393.6 2250 1395.6 2253.9 1399.6 2263.3 1402.6 2271.6 1406.6 2283.7 1425.6 2347.4 1430.6 2363.2 1435.6 2378.1 1441.6 2394.4 1446.6 2406.7 1451.6 2418 1457.6 2429.9 1463.6 2440.5 1470.6 2451.1 1477.6 2460 1484.6 2467.6 1488.6 2471.4 1492.6 2474.9 1500.6 2480.8 1504.6 2483.4 1509.6 2486.3 1518.6 2490.8 1528.6 2494.8 1540.6 2498.7 1553.6 2502 1567.6 2504.7 1583.6 2507.2 1600.6 2509.2 1619.6 2510.8 1640.6 2512.1 1666.6 2513.3 1698.6 2514.4 1737.6 2515.3 1779.6 2516.1 1862.6 2516.9 1959.6 2517.4 2005 2517.4" fill="none" stroke="#00008b" stroke-width="2.1" stroke-linejoin="round"/>
<path d="M1079.6 2529.7 1182.6 2528 1289.6 2525.8 1362.6 2523.8 1418.6 2521.8 1453.6 2520 1482.6 2517.8 1509.6 2515 1555.6 2509 1567.6 2508 1578.6 2507.6 1589.6 2507.7 1601.6 2508.5 1646.6 2513.2 1669.6 2515.1 1693.6 2516.5 1720.6 2517.4 1752.6 2518 1792.6 2518.2 1937.6 2518.5 2005 2518.2 L2005 2518.3 1864.8 2519.3 1692.5 2521.2 1644.5 2521.9 1492.2 2524.6 1283.9 2526.9 1079.6 2529.7Z" fill="url(#g20)" stroke="none"/>
<path d="M1079.6 2529.7 1283.9 2526.9 1492.2 2524.6 1644.5 2521.9 1692.5 2521.2 1864.8 2519.3 2005 2518.3" fill="none" stroke="#a0105a" stroke-width="2.1"/>
<path d="M1079.6 2529.7 1182.6 2528 1289.6 2525.8 1362.6 2523.8 1418.6 2521.8 1453.6 2520 1482.6 2517.8 1509.6 2515 1555.6 2509 1567.6 2508 1578.6 2507.6 1589.6 2507.7 1601.6 2508.5 1646.6 2513.2 1669.6 2515.1 1693.6 2516.5 1720.6 2517.4 1752.6 2518 1792.6 2518.2 1937.6 2518.5 2005 2518.2" fill="none" stroke="#a0105a" stroke-width="2.1" stroke-linejoin="round"/>
</g>
<rect x="1079.6" y="1823.3" width="925.4" height="747.8" fill="none" stroke="#1a1a1a" stroke-width="2.4"/>
<line x1="1079.6" y1="2197.2" x2="2005" y2="2197.2" stroke="#1a1a1a" stroke-width="2.2"/>
<line x1="1079.6" y1="2571.1" x2="1079.6" y2="2580.1" stroke="#1a1a1a" stroke-width="2.4"/>
<text transform="translate(1079.6 2605.9) scale(1 1.09)" font-size="22.5" fill="#000" text-anchor="middle" font-weight="bold" >526</text>
<line x1="1182.4" y1="2571.1" x2="1182.4" y2="2580.1" stroke="#1a1a1a" stroke-width="2.4"/>
<text transform="translate(1182.4 2605.9) scale(1 1.09)" font-size="22.5" fill="#000" text-anchor="middle" font-weight="bold" >527</text>
<line x1="1285.2" y1="2571.1" x2="1285.2" y2="2580.1" stroke="#1a1a1a" stroke-width="2.4"/>
<text transform="translate(1285.2 2605.9) scale(1 1.09)" font-size="22.5" fill="#000" text-anchor="middle" font-weight="bold" >528</text>
<line x1="1388.1" y1="2571.1" x2="1388.1" y2="2580.1" stroke="#1a1a1a" stroke-width="2.4"/>
<text transform="translate(1388.1 2605.9) scale(1 1.09)" font-size="22.5" fill="#000" text-anchor="middle" font-weight="bold" >529</text>
<line x1="1490.9" y1="2571.1" x2="1490.9" y2="2580.1" stroke="#1a1a1a" stroke-width="2.4"/>
<text transform="translate(1490.9 2605.9) scale(1 1.09)" font-size="22.5" fill="#000" text-anchor="middle" font-weight="bold" >530</text>
<line x1="1593.7" y1="2571.1" x2="1593.7" y2="2580.1" stroke="#1a1a1a" stroke-width="2.4"/>
<text transform="translate(1593.7 2605.9) scale(1 1.09)" font-size="22.5" fill="#000" text-anchor="middle" font-weight="bold" >531</text>
<line x1="1696.5" y1="2571.1" x2="1696.5" y2="2580.1" stroke="#1a1a1a" stroke-width="2.4"/>
<text transform="translate(1696.5 2605.9) scale(1 1.09)" font-size="22.5" fill="#000" text-anchor="middle" font-weight="bold" >532</text>
<line x1="1799.4" y1="2571.1" x2="1799.4" y2="2580.1" stroke="#1a1a1a" stroke-width="2.4"/>
<text transform="translate(1799.4 2605.9) scale(1 1.09)" font-size="22.5" fill="#000" text-anchor="middle" font-weight="bold" >533</text>
<line x1="1902.2" y1="2571.1" x2="1902.2" y2="2580.1" stroke="#1a1a1a" stroke-width="2.4"/>
<text transform="translate(1902.2 2605.9) scale(1 1.09)" font-size="22.5" fill="#000" text-anchor="middle" font-weight="bold" >534</text>
<line x1="2005" y1="2571.1" x2="2005" y2="2580.1" stroke="#1a1a1a" stroke-width="2.4"/>
<text transform="translate(2005 2605.9) scale(1 1.09)" font-size="22.5" fill="#000" text-anchor="middle" font-weight="bold" >535</text>
<text transform="translate(1431.7 2646.7) scale(1 1.06)" font-size="25.2" fill="#000" text-anchor="start" font-weight="bold" >Binding Energy (eV)</text>
<text transform="translate(1050.5 2274.7) rotate(-90) scale(1 1.06)" font-size="25.2" fill="#000" font-weight="bold">Intensity (a.u.)</text>
<text transform="translate(1016.8 1851.7) scale(1 0.98)" font-size="52.4" fill="#000" text-anchor="start" font-weight="bold" >(e)</text>
<text transform="translate(1103.3 1881.7) scale(1 1.06)" font-size="22.9" fill="#000" text-anchor="start" font-weight="bold" >O 1s</text>
<text transform="translate(1427.3 1860) scale(1 1.0)" font-size="22.9" fill="#15158c" text-anchor="start" font-weight="bold" >529.78 eV</text>
<text transform="translate(1807.7 1888.3) scale(1 1.06)" font-size="22.9" fill="#000" text-anchor="start" font-weight="bold" >TCN10</text>
<text transform="translate(1675.3 2087.7) scale(1 1.0)" font-size="22.9" fill="#a0145a" text-anchor="start" font-weight="bold" >532.18 eV</text>
<text transform="translate(1336 2231.2) scale(1 1.0)" font-size="22.9" fill="#15158c" text-anchor="start" font-weight="bold" >528.98 eV</text>
<text transform="translate(1833.3 2265.7) scale(1 1.06)" font-size="22.9" fill="#000" text-anchor="start" font-weight="bold" >m-TiO<tspan font-size="15" dy="6">2</tspan></text>
<text transform="translate(1559.3 2484) scale(1 1.0)" font-size="22.9" fill="#a0145a" text-anchor="start" font-weight="bold" >530.98 eV</text>
</svg>
</body></html>
